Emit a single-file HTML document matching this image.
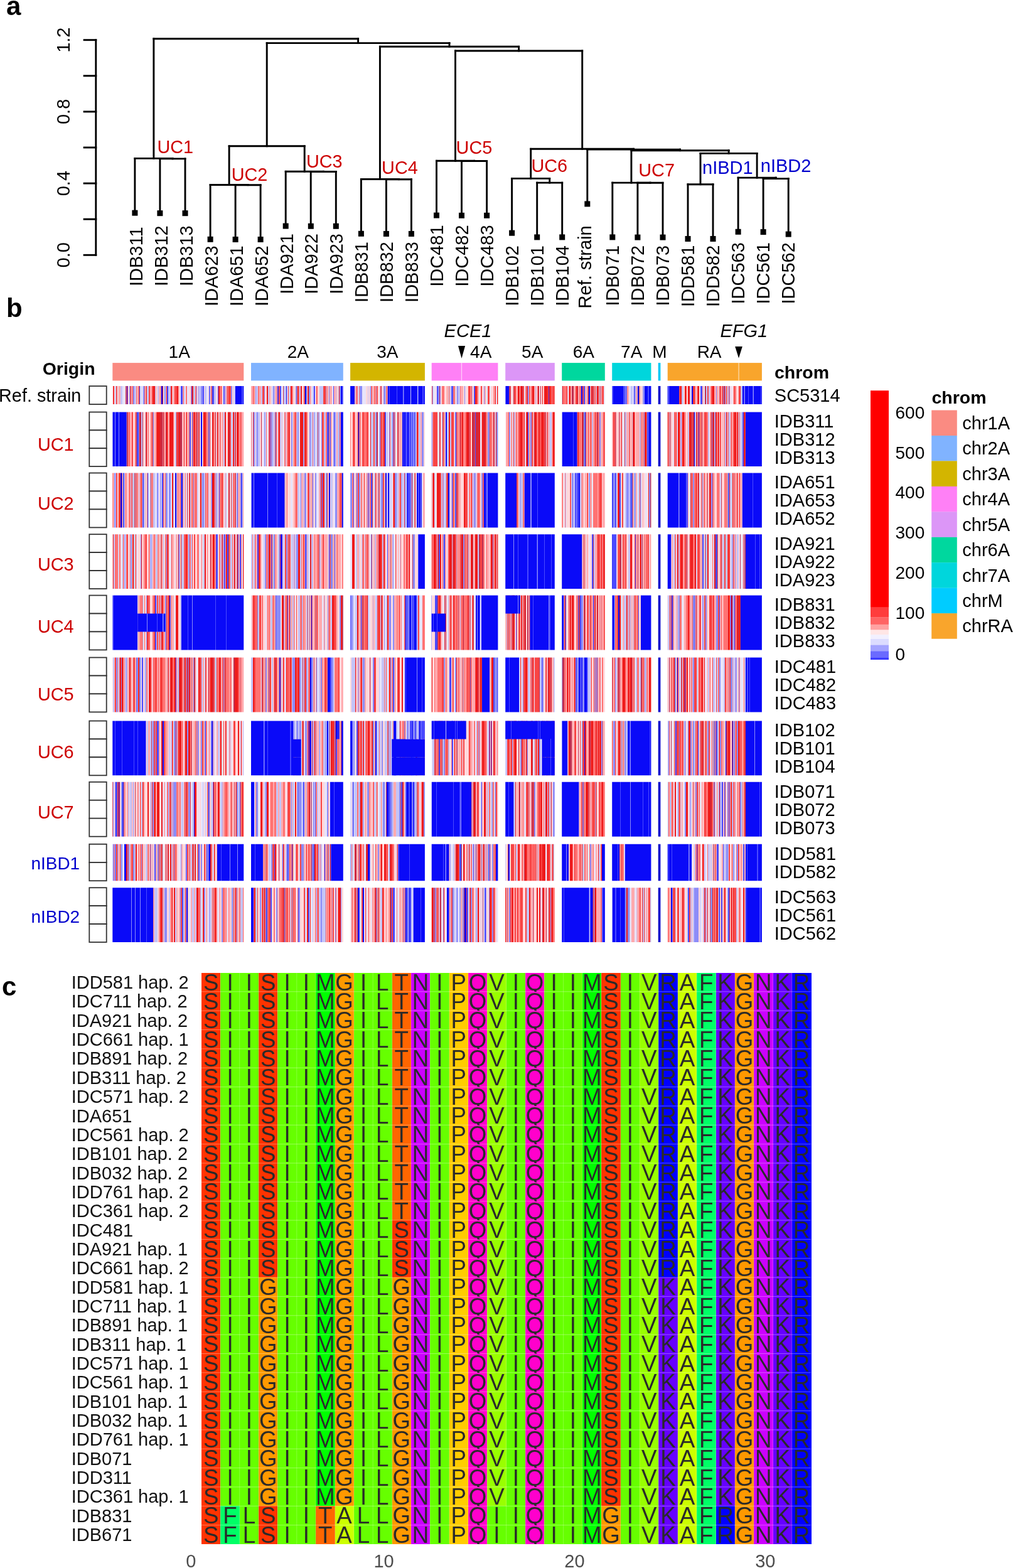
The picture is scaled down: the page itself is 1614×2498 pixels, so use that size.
<!DOCTYPE html>
<html><head><meta charset="utf-8"><title>Figure</title>
<style>
html,body{margin:0;padding:0;background:#fff;}
svg{display:block;}
text{font-family:'Liberation Sans', Arial, Helvetica, sans-serif;}
</style></head>
<body>
<svg width="1614" height="2498" viewBox="0 0 1614 2498" font-family="'Liberation Sans', Arial, Helvetica, sans-serif">
<rect width="1614" height="2498" fill="#fff"/>
<text x="10" y="24" font-size="42" font-weight="bold">a</text>
<text x="10" y="504.5" font-size="42" font-weight="bold">b</text>
<text x="3" y="1586" font-size="42" font-weight="bold">c</text>
<g stroke="#000" stroke-width="2.9" fill="none" stroke-linecap="square">
<line x1="152.8" y1="63.7" x2="152.8" y2="406.3"/>
<line x1="134.1" y1="406.3" x2="152.8" y2="406.3"/>
<line x1="134.1" y1="349.2" x2="152.8" y2="349.2"/>
<line x1="134.1" y1="292.1" x2="152.8" y2="292.1"/>
<line x1="134.1" y1="235" x2="152.8" y2="235"/>
<line x1="134.1" y1="177.9" x2="152.8" y2="177.9"/>
<line x1="134.1" y1="120.8" x2="152.8" y2="120.8"/>
<line x1="134.1" y1="63.7" x2="152.8" y2="63.7"/>
</g>
<text transform="translate(111.4,406.3) rotate(-90)" text-anchor="middle" font-size="29">0.0</text>
<text transform="translate(111.4,292.1) rotate(-90)" text-anchor="middle" font-size="29">0.4</text>
<text transform="translate(111.4,177.9) rotate(-90)" text-anchor="middle" font-size="29">0.8</text>
<text transform="translate(111.4,63.7) rotate(-90)" text-anchor="middle" font-size="29">1.2</text>
<g stroke="#000" stroke-width="2.9" fill="none" stroke-linecap="square">
<line x1="214.9" y1="252.4" x2="275" y2="252.4"/>
<line x1="254.9" y1="252.9" x2="295" y2="252.9"/>
<line x1="275" y1="252.4" x2="275" y2="252.9"/>
<line x1="214.9" y1="252.4" x2="214.9" y2="339.2"/>
<line x1="254.9" y1="252.9" x2="254.9" y2="339.7"/>
<line x1="295" y1="252.9" x2="295" y2="339.7"/>
<line x1="335.1" y1="294.5" x2="395.1" y2="294.5"/>
<line x1="375.1" y1="294.7" x2="415.1" y2="294.7"/>
<line x1="395.1" y1="294.5" x2="395.1" y2="294.7"/>
<line x1="335.1" y1="294.5" x2="335.1" y2="381.3"/>
<line x1="375.1" y1="294.7" x2="375.1" y2="381.5"/>
<line x1="415.1" y1="294.7" x2="415.1" y2="381.5"/>
<line x1="455.2" y1="273.3" x2="515.3" y2="273.3"/>
<line x1="495.2" y1="273.5" x2="535.3" y2="273.5"/>
<line x1="515.3" y1="273.3" x2="515.3" y2="273.5"/>
<line x1="455.2" y1="273.3" x2="455.2" y2="360.1"/>
<line x1="495.2" y1="273.5" x2="495.2" y2="360.3"/>
<line x1="535.3" y1="273.5" x2="535.3" y2="360.3"/>
<line x1="575.4" y1="285.5" x2="635.4" y2="285.5"/>
<line x1="615.4" y1="285.7" x2="655.4" y2="285.7"/>
<line x1="635.4" y1="285.5" x2="635.4" y2="285.7"/>
<line x1="575.4" y1="285.5" x2="575.4" y2="372.3"/>
<line x1="615.4" y1="285.7" x2="615.4" y2="372.5"/>
<line x1="655.4" y1="285.7" x2="655.4" y2="372.5"/>
<line x1="695.5" y1="256.3" x2="755.6" y2="256.3"/>
<line x1="735.5" y1="256.5" x2="775.6" y2="256.5"/>
<line x1="755.6" y1="256.3" x2="755.6" y2="256.5"/>
<line x1="695.5" y1="256.3" x2="695.5" y2="343.1"/>
<line x1="735.5" y1="256.5" x2="735.5" y2="343.3"/>
<line x1="775.6" y1="256.5" x2="775.6" y2="343.3"/>
<line x1="815.6" y1="284.4" x2="875.7" y2="284.4"/>
<line x1="855.7" y1="291.1" x2="895.7" y2="291.1"/>
<line x1="875.7" y1="284.4" x2="875.7" y2="291.1"/>
<line x1="815.6" y1="284.4" x2="815.6" y2="371.2"/>
<line x1="855.7" y1="291.1" x2="855.7" y2="377.9"/>
<line x1="895.7" y1="291.1" x2="895.7" y2="377.9"/>
<line x1="975.8" y1="291.1" x2="1035.9" y2="291.1"/>
<line x1="1015.9" y1="291.3" x2="1056" y2="291.3"/>
<line x1="1035.9" y1="291.1" x2="1035.9" y2="291.3"/>
<line x1="975.8" y1="291.1" x2="975.8" y2="377.9"/>
<line x1="1015.9" y1="291.3" x2="1015.9" y2="378.1"/>
<line x1="1056" y1="291.3" x2="1056" y2="378.1"/>
<line x1="1096" y1="293.7" x2="1136" y2="293.7"/>
<line x1="1096" y1="293.7" x2="1096" y2="380.5"/>
<line x1="1136" y1="293.7" x2="1136" y2="380.5"/>
<line x1="1176.1" y1="283.1" x2="1236.2" y2="283.1"/>
<line x1="1216.1" y1="284.6" x2="1256.2" y2="284.6"/>
<line x1="1236.2" y1="283.1" x2="1236.2" y2="284.6"/>
<line x1="1176.1" y1="283.1" x2="1176.1" y2="369.3"/>
<line x1="1216.1" y1="284.6" x2="1216.1" y2="369.6"/>
<line x1="1256.2" y1="284.6" x2="1256.2" y2="373.1"/>
<line x1="1116" y1="244.4" x2="1206.1" y2="244.4"/>
<line x1="1116" y1="244.4" x2="1116" y2="293.7"/>
<line x1="1206.1" y1="244.4" x2="1206.1" y2="283.1"/>
<line x1="1005.9" y1="239.7" x2="1161.1" y2="239.7"/>
<line x1="1005.9" y1="239.7" x2="1005.9" y2="291.1"/>
<line x1="1161.1" y1="239.7" x2="1161.1" y2="244.4"/>
<line x1="935.8" y1="238.1" x2="1083.5" y2="238.1"/>
<line x1="1083.5" y1="238.1" x2="1083.5" y2="239.7"/>
<line x1="935.8" y1="238.1" x2="935.8" y2="324.9"/>
<line x1="845.7" y1="237.3" x2="1009.6" y2="237.3"/>
<line x1="845.7" y1="237.3" x2="845.7" y2="284.4"/>
<line x1="1009.6" y1="237.3" x2="1009.6" y2="238.1"/>
<line x1="725.5" y1="81" x2="927.7" y2="81"/>
<line x1="725.5" y1="81" x2="725.5" y2="256.3"/>
<line x1="927.7" y1="81" x2="927.7" y2="237.3"/>
<line x1="605.4" y1="74.3" x2="826.6" y2="74.3"/>
<line x1="605.4" y1="74.3" x2="605.4" y2="285.5"/>
<line x1="826.6" y1="74.3" x2="826.6" y2="81"/>
<line x1="365.1" y1="232.8" x2="485.2" y2="232.8"/>
<line x1="365.1" y1="232.8" x2="365.1" y2="294.5"/>
<line x1="485.2" y1="232.8" x2="485.2" y2="273.3"/>
<line x1="425.2" y1="68.6" x2="716" y2="68.6"/>
<line x1="425.2" y1="68.6" x2="425.2" y2="232.8"/>
<line x1="716" y1="68.6" x2="716" y2="74.3"/>
<line x1="244.9" y1="61.8" x2="570.6" y2="61.8"/>
<line x1="244.9" y1="61.8" x2="244.9" y2="252.4"/>
<line x1="570.6" y1="61.8" x2="570.6" y2="68.6"/>
</g>
<g fill="#000">
<rect x="210.4" y="334.7" width="9" height="9"/>
<rect x="250.4" y="335.2" width="9" height="9"/>
<rect x="290.5" y="335.2" width="9" height="9"/>
<rect x="330.6" y="376.8" width="9" height="9"/>
<rect x="370.6" y="377" width="9" height="9"/>
<rect x="410.6" y="377" width="9" height="9"/>
<rect x="450.7" y="355.6" width="9" height="9"/>
<rect x="490.8" y="355.8" width="9" height="9"/>
<rect x="530.8" y="355.8" width="9" height="9"/>
<rect x="570.9" y="367.8" width="9" height="9"/>
<rect x="610.9" y="368" width="9" height="9"/>
<rect x="650.9" y="368" width="9" height="9"/>
<rect x="691" y="338.6" width="9" height="9"/>
<rect x="731" y="338.8" width="9" height="9"/>
<rect x="771.1" y="338.8" width="9" height="9"/>
<rect x="811.1" y="366.7" width="9" height="9"/>
<rect x="851.2" y="373.4" width="9" height="9"/>
<rect x="891.2" y="373.4" width="9" height="9"/>
<rect x="931.3" y="320.4" width="9" height="9"/>
<rect x="971.3" y="373.4" width="9" height="9"/>
<rect x="1011.4" y="373.6" width="9" height="9"/>
<rect x="1051.5" y="373.6" width="9" height="9"/>
<rect x="1091.5" y="376" width="9" height="9"/>
<rect x="1131.5" y="376" width="9" height="9"/>
<rect x="1171.6" y="364.8" width="9" height="9"/>
<rect x="1211.6" y="365.1" width="9" height="9"/>
<rect x="1251.7" y="368.6" width="9" height="9"/>
</g>
<text transform="translate(226.6,456) rotate(-90)" font-size="29">IDB311</text>
<text transform="translate(266.6,456) rotate(-90)" font-size="29">IDB312</text>
<text transform="translate(306.6,456) rotate(-90)" font-size="29">IDB313</text>
<text transform="translate(346.5,488.1) rotate(-90)" font-size="29">IDA623</text>
<text transform="translate(386.5,488.1) rotate(-90)" font-size="29">IDA651</text>
<text transform="translate(426.5,488.1) rotate(-90)" font-size="29">IDA652</text>
<text transform="translate(466.5,468.8) rotate(-90)" font-size="29">IDA921</text>
<text transform="translate(506.4,468.8) rotate(-90)" font-size="29">IDA922</text>
<text transform="translate(546.4,468.8) rotate(-90)" font-size="29">IDA923</text>
<text transform="translate(586.4,481.9) rotate(-90)" font-size="29">IDB831</text>
<text transform="translate(626.4,481.9) rotate(-90)" font-size="29">IDB832</text>
<text transform="translate(666.3,481.9) rotate(-90)" font-size="29">IDB833</text>
<text transform="translate(706.3,456.7) rotate(-90)" font-size="29">IDC481</text>
<text transform="translate(746.3,456.7) rotate(-90)" font-size="29">IDC482</text>
<text transform="translate(786.3,456.7) rotate(-90)" font-size="29">IDC483</text>
<text transform="translate(826.3,487.8) rotate(-90)" font-size="29">IDB102</text>
<text transform="translate(866.2,487.8) rotate(-90)" font-size="29">IDB101</text>
<text transform="translate(906.2,487.8) rotate(-90)" font-size="29">IDB104</text>
<text transform="translate(942.4,491.5) rotate(-90)" font-size="29">Ref. strain</text>
<text transform="translate(986.2,487.5) rotate(-90)" font-size="29">IDB071</text>
<text transform="translate(1026.1,487.5) rotate(-90)" font-size="29">IDB072</text>
<text transform="translate(1066.1,487.5) rotate(-90)" font-size="29">IDB073</text>
<text transform="translate(1106.1,489) rotate(-90)" font-size="29">IDD581</text>
<text transform="translate(1146.1,489) rotate(-90)" font-size="29">IDD582</text>
<text transform="translate(1186,484.5) rotate(-90)" font-size="29">IDC563</text>
<text transform="translate(1226,484.5) rotate(-90)" font-size="29">IDC561</text>
<text transform="translate(1266,484.5) rotate(-90)" font-size="29">IDC562</text>
<text x="250.5" y="244.4" font-size="28.8" fill="#cd0000">UC1</text>
<text x="368.7" y="287.6" font-size="28.8" fill="#cd0000">UC2</text>
<text x="487.9" y="266.6" font-size="28.8" fill="#cd0000">UC3</text>
<text x="608.1" y="276.6" font-size="28.8" fill="#cd0000">UC4</text>
<text x="726.6" y="244.5" font-size="28.8" fill="#cd0000">UC5</text>
<text x="846.5" y="273.6" font-size="28.8" fill="#cd0000">UC6</text>
<text x="1017.3" y="280.5" font-size="28.8" fill="#cd0000">UC7</text>
<text x="1119" y="276.6" font-size="29" fill="#0000cd">nIBD1</text>
<text x="1211.8" y="273.6" font-size="29" fill="#0000cd">nIBD2</text>
<g>
<path fill="#0a0af8" d="M202 615.1h1v29h-1zM257 615.1h2v29h-2zM374.5 615.1h10.5v29h-10.5zM387 615.1h1.3v29h-1.3zM456 615.1h1v29h-1zM486 615.1h2v29h-2zM543 615.1h2v29h-2zM558.1 615.1h6.9v29h-6.9zM617.5 615.1h2.5v29h-2.5zM621 615.1h11v29h-11zM633 615.1h9v29h-9zM644 615.1h10v29h-10zM655 615.1h10v29h-10zM667 615.1h6v29h-6zM675 615.1h1.9v29h-1.9zM806 615.1h5.4v29h-5.4zM926 615.1h2v29h-2zM938 615.1h2v29h-2zM977 615.1h16v29h-16zM1010 615.1h1v29h-1zM1016 615.1h2v29h-2zM1026.8 615.1h5.2v29h-5.2zM1034 615.1h3.4v29h-3.4zM1063.7 615.1h1.3v29h-1.3zM1066 615.1h16v29h-16zM1102 615.1h2v29h-2zM1183 615.1h2v29h-2zM1187 615.1h5v29h-5zM1193 615.1h6v29h-6zM1201 615.1h11v29h-11zM1213 615.1h0.9v29h-0.9zM180 656.5h3v86.6h-3zM184 656.5h5v86.6h-5zM190 656.5h11.8v86.6h-11.8zM320 656.5h2v86.6h-2zM543 656.5h3.8v86.6h-3.8zM571 656.5h1v86.6h-1zM641 656.5h2v86.6h-2zM644 656.5h2v86.6h-2zM649 656.5h2v86.6h-2zM654 656.5h1v86.6h-1zM660 656.5h1v86.6h-1zM710 656.5h2v86.6h-2zM841 656.5h1v86.6h-1zM896 656.5h17v86.6h-17zM914 656.5h5.7v86.6h-5.7zM932 656.5h1v86.6h-1zM1034 656.5h3.4v86.6h-3.4zM1106 656.5h1v86.6h-1zM1188 656.5h25.9v86.6h-25.9zM192 753.5h2v86.9h-2zM279 753.5h2v86.9h-2zM289 753.5h2v86.9h-2zM401 753.5h3v86.9h-3zM405 753.5h21v86.9h-21zM427 753.5h14v86.9h-14zM442 753.5h11.7v86.9h-11.7zM524 753.5h2v86.9h-2zM544.5 753.5h2.3v86.9h-2.3zM614 753.5h2v86.9h-2zM618 753.5h2v86.9h-2zM649 753.5h1v86.9h-1zM664 753.5h2v86.9h-2zM668 753.5h2v86.9h-2zM671 753.5h1v86.9h-1zM714 753.5h2v86.9h-2zM720 753.5h1v86.9h-1zM770.7 753.5h3.3v86.9h-3.3zM777 753.5h16.4v86.9h-16.4zM805.2 753.5h17.8v86.9h-17.8zM835.5 753.5h9.5v86.9h-9.5zM847 753.5h9v86.9h-9zM857 753.5h26.8v86.9h-26.8zM922 753.5h2v86.9h-2zM975.2 753.5h0.8v86.9h-0.8zM1063.7 753.5h17.3v86.9h-17.3zM1083 753.5h10.6v86.9h-10.6zM1183 753.5h16v86.9h-16zM1200 753.5h13.9v86.9h-13.9zM447 851.2h3v86.8h-3zM524 851.2h1v86.8h-1zM667 851.2h9.9v86.8h-9.9zM708 851.2h1v86.8h-1zM805.2 851.2h12.8v86.8h-12.8zM819 851.2h6v86.8h-6zM826 851.2h14v86.8h-14zM842 851.2h13v86.8h-13zM857 851.2h10v86.8h-10zM868 851.2h10v86.8h-10zM879 851.2h4.8v86.8h-4.8zM895.2 851.2h32.3v86.8h-32.3zM975.2 851.2h0.8v86.8h-0.8zM1063.7 851.2h5.8v86.8h-5.8zM1188 851.2h15v86.8h-15zM1204 851.2h6v86.8h-6zM1211 851.2h2.9v86.8h-2.9zM181 948.5h38.2v86.9h-38.2zM270 948.5h1v86.9h-1zM288.7 948.5h10.3v86.9h-10.3zM300 948.5h6v86.9h-6zM307 948.5h36v86.9h-36zM344 948.5h16v86.9h-16zM361 948.5h27.3v86.9h-27.3zM496 948.5h1v86.9h-1zM575 948.5h1v86.9h-1zM645.5 948.5h1.5v86.9h-1.5zM652 948.5h3v86.9h-3zM660 948.5h3.8v86.9h-3.8zM687.7 948.5h0.3v86.9h-0.3zM758 948.5h2v86.9h-2zM761 948.5h3v86.9h-3zM766.7 948.5h26.7v86.9h-26.7zM844.2 948.5h4.8v86.9h-4.8zM850 948.5h24v86.9h-24zM877 948.5h6.8v86.9h-6.8zM895.2 948.5h3.3v86.9h-3.3zM945 948.5h1v86.9h-1zM976 948.5h3v86.9h-3zM985 948.5h2v86.9h-2zM1021 948.5h16.4v86.9h-16.4zM1164 948.5h1v86.9h-1zM1170 948.5h1v86.9h-1zM1180 948.5h33.9v86.9h-33.9zM494 1047.5h2v86.9h-2zM522 1047.5h4v86.9h-4zM644.9 1047.5h1.1v86.9h-1.1zM647 1047.5h17v86.9h-17zM665 1047.5h7v86.9h-7zM673 1047.5h3.9v86.9h-3.9zM767.8 1047.5h12.5v86.9h-12.5zM805.2 1047.5h5.8v86.9h-5.8zM812 1047.5h15.4v86.9h-15.4zM922 1047.5h2v86.9h-2zM927 1047.5h1v86.9h-1zM931 1047.5h4v86.9h-4zM1079 1047.5h1v86.9h-1zM1187.8 1047.5h2.2v86.9h-2.2zM1192 1047.5h2v86.9h-2zM1195 1047.5h18.9v86.9h-18.9zM179.3 1148.5h3.7v86.8h-3.7zM184 1148.5h10v86.8h-10zM195 1148.5h18v86.8h-18zM214 1148.5h5v86.8h-5zM220 1148.5h12.7v86.8h-12.7zM259 1148.5h2v86.8h-2zM337 1148.5h2v86.8h-2zM400 1148.5h20v86.8h-20zM422 1148.5h4v86.8h-4zM427 1148.5h35v86.8h-35zM464 1148.5h3v86.8h-3zM493 1148.5h3v86.8h-3zM521 1148.5h2v86.8h-2zM544 1148.5h2.8v86.8h-2.8zM558.1 1148.5h2.9v86.8h-2.9zM598 1148.5h2v86.8h-2zM627 1148.5h4v86.8h-4zM896 1148.5h8.3v86.8h-8.3zM931 1148.5h1v86.8h-1zM1000 1148.5h3v86.8h-3zM1005 1148.5h30v86.8h-30zM1036 1148.5h1.4v86.8h-1.4zM1156 1148.5h1v86.8h-1zM1167 1148.5h1v86.8h-1zM1187.8 1148.5h14.2v86.8h-14.2zM1203 1148.5h10.9v86.8h-10.9zM189 1245.8h1v86.9h-1zM309 1245.8h1v86.9h-1zM332 1245.8h1v86.9h-1zM400 1245.8h5.4v86.9h-5.4zM526 1245.8h6v86.9h-6zM533 1245.8h13.8v86.9h-13.8zM562 1245.8h1v86.9h-1zM616 1245.8h3v86.9h-3zM640 1245.8h1v86.9h-1zM648 1245.8h3v86.9h-3zM653 1245.8h3v86.9h-3zM658 1245.8h1v86.9h-1zM688 1245.8h7v86.9h-7zM696 1245.8h26v86.9h-26zM723 1245.8h9v86.9h-9zM735 1245.8h16.4v86.9h-16.4zM805.2 1245.8h4.8v86.9h-4.8zM811 1245.8h7.6v86.9h-7.6zM895.2 1245.8h27.4v86.9h-27.4zM975.2 1245.8h12.8v86.9h-12.8zM989 1245.8h15v86.9h-15zM1005 1245.8h19v86.9h-19zM1025 1245.8h8v86.9h-8zM1034 1245.8h3.4v86.9h-3.4zM1188 1245.8h22v86.9h-22zM1211 1245.8h2.9v86.9h-2.9zM183 1344.8h1v58.4h-1zM198 1344.8h3v58.4h-3zM332 1344.8h3v58.4h-3zM346 1344.8h6v58.4h-6zM353 1344.8h13v58.4h-13zM367 1344.8h11v58.4h-11zM379 1344.8h9.3v58.4h-9.3zM400 1344.8h6v58.4h-6zM407 1344.8h12v58.4h-12zM517 1344.8h1v58.4h-1zM528 1344.8h18.8v58.4h-18.8zM586 1344.8h3v58.4h-3zM636 1344.8h16v58.4h-16zM653 1344.8h23.9v58.4h-23.9zM687.7 1344.8h18.3v58.4h-18.3zM707 1344.8h2v58.4h-2zM711 1344.8h4.7v58.4h-4.7zM790 1344.8h3.4v58.4h-3.4zM810 1344.8h2v58.4h-2zM895.2 1344.8h6.8v58.4h-6.8zM903 1344.8h3.2v58.4h-3.2zM959 1344.8h4.8v58.4h-4.8zM975.2 1344.8h8.8v58.4h-8.8zM985 1344.8h2v58.4h-2zM996 1344.8h41.4v58.4h-41.4zM1063.7 1344.8h1.3v58.4h-1.3zM1066 1344.8h4v58.4h-4zM1071 1344.8h26v58.4h-26zM1099 1344.8h3.3v58.4h-3.3zM1187.8 1344.8h2.2v58.4h-2.2zM1191 1344.8h15v58.4h-15zM1208 1344.8h5.9v58.4h-5.9zM179.3 1414.2h29.7v86.8h-29.7zM210 1414.2h5v86.8h-5zM216 1414.2h7v86.8h-7zM224 1414.2h9v86.8h-9zM234 1414.2h10.3v86.8h-10.3zM297 1414.2h2v86.8h-2zM400 1414.2h4v86.8h-4zM570 1414.2h2v86.8h-2zM578 1414.2h2v86.8h-2zM645.5 1414.2h2.5v86.8h-2.5zM652 1414.2h1v86.8h-1zM659 1414.2h11v86.8h-11zM671 1414.2h5.9v86.8h-5.9zM711.8 1414.2h3.9v86.8h-3.9zM740 1414.2h3v86.8h-3zM895.2 1414.2h2.8v86.8h-2.8zM899 1414.2h39v86.8h-39zM941 1414.2h3.8v86.8h-3.8zM961 1414.2h2.8v86.8h-2.8zM976 1414.2h4v86.8h-4zM982 1414.2h6v86.8h-6zM989 1414.2h6.9v86.8h-6.9zM1069 1414.2h2v86.8h-2zM1187.8 1414.2h1.2v86.8h-1.2zM1190 1414.2h20v86.8h-20zM1212 1414.2h1.9v86.8h-1.9z"/>
<path fill="#4a4aff" d="M222 615.1h1v29h-1zM229 615.1h1v29h-1zM266 615.1h2v29h-2zM288 615.1h3v29h-3zM305 615.1h1v29h-1zM323 615.1h2v29h-2zM333 615.1h1v29h-1zM338 615.1h3v29h-3zM347 615.1h1v29h-1zM356 615.1h2v29h-2zM385 615.1h2v29h-2zM442 615.1h2v29h-2zM446 615.1h2v29h-2zM500 615.1h2v29h-2zM531 615.1h1v29h-1zM542.5 615.1h0.5v29h-0.5zM545 615.1h1.8v29h-1.8zM620 615.1h1v29h-1zM632 615.1h1v29h-1zM643 615.1h1v29h-1zM666 615.1h1v29h-1zM673 615.1h2v29h-2zM696 615.1h2v29h-2zM720 615.1h2v29h-2zM755 615.1h2v29h-2zM805.2 615.1h0.8v29h-0.8zM841 615.1h1v29h-1zM874 615.1h1v29h-1zM930 615.1h2v29h-2zM975.2 615.1h1.8v29h-1.8zM993 615.1h3v29h-3zM997 615.1h1.8v29h-1.8zM1032 615.1h2v29h-2zM1116 615.1h3v29h-3zM1182.4 615.1h0.6v29h-0.6zM1185 615.1h1v29h-1zM1192 615.1h1v29h-1zM1199 615.1h1v29h-1zM1212 615.1h1v29h-1zM179.3 656.5h0.7v86.6h-0.7zM218 656.5h3v86.6h-3zM302 656.5h2v86.6h-2zM430 656.5h1v86.6h-1zM521 656.5h3v86.6h-3zM526 656.5h1v86.6h-1zM533 656.5h1v86.6h-1zM542.5 656.5h0.5v86.6h-0.5zM605 656.5h1v86.6h-1zM613 656.5h2v86.6h-2zM643 656.5h1v86.6h-1zM646 656.5h3v86.6h-3zM651 656.5h2v86.6h-2zM657 656.5h2v86.6h-2zM726 656.5h1v86.6h-1zM757 656.5h1v86.6h-1zM913 656.5h1v86.6h-1zM1031 656.5h3v86.6h-3zM1113 656.5h1v86.6h-1zM1183 656.5h2v86.6h-2zM1187.8 656.5h0.2v86.6h-0.2zM196 753.5h2v86.9h-2zM227 753.5h2v86.9h-2zM235 753.5h1v86.9h-1zM251 753.5h1v86.9h-1zM258 753.5h2v86.9h-2zM337 753.5h1v86.9h-1zM349 753.5h1v86.9h-1zM378 753.5h1v86.9h-1zM384 753.5h2v86.9h-2zM441 753.5h1v86.9h-1zM498 753.5h1v86.9h-1zM513 753.5h1v86.9h-1zM563 753.5h1v86.9h-1zM587 753.5h1v86.9h-1zM591 753.5h2v86.9h-2zM648 753.5h1v86.9h-1zM650 753.5h4v86.9h-4zM666 753.5h2v86.9h-2zM725 753.5h2v86.9h-2zM774 753.5h2v86.9h-2zM856 753.5h1v86.9h-1zM912 753.5h1v86.9h-1zM916 753.5h2v86.9h-2zM919 753.5h3v86.9h-3zM976 753.5h1v86.9h-1zM980 753.5h2.4v86.9h-2.4zM987 753.5h2v86.9h-2zM1005 753.5h2v86.9h-2zM1011 753.5h1v86.9h-1zM1082 753.5h1v86.9h-1zM1093.6 753.5h2.4v86.9h-2.4zM1134 753.5h1v86.9h-1zM1160 753.5h2v86.9h-2zM1182.4 753.5h0.6v86.9h-0.6zM1199 753.5h1v86.9h-1zM285 851.2h1v86.8h-1zM344 851.2h3v86.8h-3zM357 851.2h2v86.8h-2zM362 851.2h2v86.8h-2zM379 851.2h1v86.8h-1zM382 851.2h2v86.8h-2zM410 851.2h2v86.8h-2zM432 851.2h1v86.8h-1zM486 851.2h2v86.8h-2zM533 851.2h1v86.8h-1zM617 851.2h1v86.8h-1zM665.7 851.2h1.3v86.8h-1.3zM699 851.2h2v86.8h-2zM825 851.2h1v86.8h-1zM840 851.2h2v86.8h-2zM855 851.2h1v86.8h-1zM867 851.2h1v86.8h-1zM878 851.2h1v86.8h-1zM943 851.2h2v86.8h-2zM976 851.2h6.4v86.8h-6.4zM1012 851.2h1v86.8h-1zM1119 851.2h2v86.8h-2zM1140 851.2h3v86.8h-3zM1187.8 851.2h0.2v86.8h-0.2zM1203 851.2h1v86.8h-1zM1210 851.2h1v86.8h-1zM179.3 948.5h1.7v86.9h-1.7zM247 948.5h2v86.9h-2zM299 948.5h1v86.9h-1zM343 948.5h1v86.9h-1zM360 948.5h1v86.9h-1zM439 948.5h1v86.9h-1zM458 948.5h1v86.9h-1zM558.1 948.5h0.9v86.9h-0.9zM647 948.5h1v86.9h-1zM649 948.5h2v86.9h-2zM656 948.5h4v86.9h-4zM693 948.5h4v86.9h-4zM764 948.5h1v86.9h-1zM822 948.5h1v86.9h-1zM849 948.5h1v86.9h-1zM875 948.5h2v86.9h-2zM901 948.5h1v86.9h-1zM921 948.5h1v86.9h-1zM924 948.5h2v86.9h-2zM975.2 948.5h0.8v86.9h-0.8zM1017 948.5h1v86.9h-1zM1070 948.5h2v86.9h-2zM1105 948.5h1v86.9h-1zM1146 948.5h1v86.9h-1zM218 1047.5h1v86.9h-1zM226 1047.5h2v86.9h-2zM280 1047.5h1v86.9h-1zM445 1047.5h2v86.9h-2zM526 1047.5h2v86.9h-2zM595 1047.5h1v86.9h-1zM626 1047.5h2v86.9h-2zM646 1047.5h1v86.9h-1zM672 1047.5h1v86.9h-1zM716 1047.5h3v86.9h-3zM786 1047.5h2v86.9h-2zM792 1047.5h1.4v86.9h-1.4zM811 1047.5h1v86.9h-1zM863 1047.5h1v86.9h-1zM917 1047.5h2v86.9h-2zM924 1047.5h3v86.9h-3zM935 1047.5h1v86.9h-1zM1091 1047.5h1v86.9h-1zM1172 1047.5h1v86.9h-1zM1190 1047.5h2v86.9h-2zM1194 1047.5h1v86.9h-1zM183 1148.5h1v86.8h-1zM194 1148.5h1v86.8h-1zM213 1148.5h1v86.8h-1zM219 1148.5h1v86.8h-1zM250 1148.5h3v86.8h-3zM327 1148.5h1v86.8h-1zM421 1148.5h1v86.8h-1zM426 1148.5h1v86.8h-1zM462 1148.5h2v86.8h-2zM491 1148.5h1v86.8h-1zM535 1148.5h2v86.8h-2zM561 1148.5h1.5v86.8h-1.5zM568 1148.5h2v86.8h-2zM655 1148.5h2v86.8h-2zM699 1148.5h2v86.8h-2zM720 1148.5h2v86.8h-2zM779 1148.5h1v86.8h-1zM782 1148.5h1v86.8h-1zM895.2 1148.5h0.8v86.8h-0.8zM1003 1148.5h1v86.8h-1zM1035 1148.5h1v86.8h-1zM1076 1148.5h2v86.8h-2zM1091 1148.5h1v86.8h-1zM1112 1148.5h1v86.8h-1zM1141 1148.5h2v86.8h-2zM184 1245.8h3v86.9h-3zM194 1245.8h3v86.9h-3zM339 1245.8h1v86.9h-1zM382 1245.8h1v86.9h-1zM474 1245.8h1v86.9h-1zM483 1245.8h2v86.9h-2zM502 1245.8h1v86.9h-1zM532 1245.8h1v86.9h-1zM619 1245.8h3v86.9h-3zM646 1245.8h2v86.9h-2zM651 1245.8h2v86.9h-2zM659 1245.8h1v86.9h-1zM687.7 1245.8h0.3v86.9h-0.3zM695 1245.8h1v86.9h-1zM722 1245.8h1v86.9h-1zM732 1245.8h2v86.9h-2zM767 1245.8h1v86.9h-1zM810 1245.8h1v86.9h-1zM988 1245.8h1v86.9h-1zM1024 1245.8h1v86.9h-1zM1033 1245.8h1v86.9h-1zM1150 1245.8h2v86.9h-2zM1154 1245.8h1v86.9h-1zM1162 1245.8h1v86.9h-1zM1187.8 1245.8h0.2v86.9h-0.2zM1210 1245.8h1v86.9h-1zM180 1344.8h1v58.4h-1zM246 1344.8h2v58.4h-2zM296 1344.8h1v58.4h-1zM316 1344.8h2v58.4h-2zM329 1344.8h2v58.4h-2zM352 1344.8h1v58.4h-1zM406 1344.8h1v58.4h-1zM437 1344.8h1v58.4h-1zM450 1344.8h1v58.4h-1zM458 1344.8h2v58.4h-2zM465 1344.8h1v58.4h-1zM497 1344.8h1v58.4h-1zM499 1344.8h2v58.4h-2zM527 1344.8h1v58.4h-1zM634 1344.8h2v58.4h-2zM652 1344.8h1v58.4h-1zM706 1344.8h1v58.4h-1zM709 1344.8h1v58.4h-1zM732 1344.8h3v58.4h-3zM754 1344.8h1v58.4h-1zM779 1344.8h1v58.4h-1zM984 1344.8h1v58.4h-1zM1065 1344.8h1v58.4h-1zM1070 1344.8h1v58.4h-1zM1098 1344.8h1v58.4h-1zM1110 1344.8h1v58.4h-1zM1142 1344.8h3v58.4h-3zM1152 1344.8h1v58.4h-1zM1184 1344.8h2v58.4h-2zM1190 1344.8h1v58.4h-1zM1206 1344.8h2v58.4h-2zM233 1414.2h1v86.8h-1zM290 1414.2h2v86.8h-2zM424 1414.2h2v86.8h-2zM431 1414.2h2v86.8h-2zM475 1414.2h1v86.8h-1zM491 1414.2h2v86.8h-2zM572 1414.2h1v86.8h-1zM623 1414.2h1v86.8h-1zM626 1414.2h3v86.8h-3zM649 1414.2h1v86.8h-1zM653 1414.2h2v86.8h-2zM670 1414.2h1v86.8h-1zM728 1414.2h1v86.8h-1zM744 1414.2h2v86.8h-2zM772 1414.2h2v86.8h-2zM898 1414.2h1v86.8h-1zM938 1414.2h1v86.8h-1zM940 1414.2h1v86.8h-1zM959 1414.2h2v86.8h-2zM980 1414.2h2v86.8h-2zM988 1414.2h1v86.8h-1zM1096 1414.2h2v86.8h-2zM1145 1414.2h2v86.8h-2zM1149 1414.2h2v86.8h-2zM1160 1414.2h2v86.8h-2zM1189 1414.2h1v86.8h-1zM1210 1414.2h2v86.8h-2z"/>
<path fill="#8c8cf8" d="M206 615.1h1v29h-1zM212 615.1h2v29h-2zM262 615.1h2v29h-2zM313 615.1h1v29h-1zM316 615.1h1v29h-1zM320 615.1h3v29h-3zM334 615.1h1v29h-1zM359 615.1h1v29h-1zM368 615.1h2v29h-2zM407 615.1h1v29h-1zM421 615.1h1v29h-1zM435 615.1h2v29h-2zM471 615.1h2v29h-2zM488 615.1h1v29h-1zM492 615.1h2v29h-2zM524 615.1h1v29h-1zM541 615.1h1.5v29h-1.5zM573 615.1h4v29h-4zM590 615.1h1v29h-1zM611 615.1h3v29h-3zM642 615.1h1v29h-1zM689 615.1h1v29h-1zM698 615.1h2v29h-2zM701 615.1h1v29h-1zM718 615.1h2v29h-2zM728 615.1h2v29h-2zM740 615.1h1v29h-1zM771 615.1h1v29h-1zM996 615.1h1v29h-1zM1012 615.1h1v29h-1zM1024 615.1h2.8v29h-2.8zM1065 615.1h1v29h-1zM1141 615.1h1v29h-1zM1152 615.1h1v29h-1zM1155 615.1h1v29h-1zM1162 615.1h1v29h-1zM1186 615.1h1v29h-1zM1200 615.1h1v29h-1zM183 656.5h1v86.6h-1zM189 656.5h1v86.6h-1zM221 656.5h1v86.6h-1zM244 656.5h1v86.6h-1zM306 656.5h1v86.6h-1zM332 656.5h2v86.6h-2zM404 656.5h2v86.6h-2zM409 656.5h2v86.6h-2zM421 656.5h1v86.6h-1zM432 656.5h2v86.6h-2zM438 656.5h1v86.6h-1zM464 656.5h2v86.6h-2zM474 656.5h2v86.6h-2zM483 656.5h1v86.6h-1zM493 656.5h2v86.6h-2zM501 656.5h1v86.6h-1zM508 656.5h1v86.6h-1zM512 656.5h1v86.6h-1zM517 656.5h1v86.6h-1zM531 656.5h2v86.6h-2zM540 656.5h1v86.6h-1zM598 656.5h2v86.6h-2zM620 656.5h1v86.6h-1zM625 656.5h2v86.6h-2zM628 656.5h1v86.6h-1zM653 656.5h1v86.6h-1zM655 656.5h2v86.6h-2zM661 656.5h1.8v86.6h-1.8zM672 656.5h3v86.6h-3zM687.7 656.5h1.3v86.6h-1.3zM725 656.5h1v86.6h-1zM777 656.5h3v86.6h-3zM791 656.5h2.4v86.6h-2.4zM811 656.5h2v86.6h-2zM845 656.5h2v86.6h-2zM895.2 656.5h0.8v86.6h-0.8zM930 656.5h2v86.6h-2zM955 656.5h2v86.6h-2zM1026 656.5h1v86.6h-1zM1085 656.5h1v86.6h-1zM1134 656.5h1v86.6h-1zM1139 656.5h1v86.6h-1zM1156 656.5h1v86.6h-1zM1161 656.5h1v86.6h-1zM182 753.5h2v86.9h-2zM255 753.5h1v86.9h-1zM264 753.5h3v86.9h-3zM269 753.5h3v86.9h-3zM288 753.5h1v86.9h-1zM308 753.5h1v86.9h-1zM322 753.5h3v86.9h-3zM344 753.5h1v86.9h-1zM383 753.5h1v86.9h-1zM400 753.5h1v86.9h-1zM404 753.5h1v86.9h-1zM426 753.5h1v86.9h-1zM479 753.5h1v86.9h-1zM485 753.5h3v86.9h-3zM502 753.5h2v86.9h-2zM510 753.5h1v86.9h-1zM519 753.5h2v86.9h-2zM534 753.5h3v86.9h-3zM558.1 753.5h2.9v86.9h-2.9zM568 753.5h2v86.9h-2zM572 753.5h2v86.9h-2zM585 753.5h1v86.9h-1zM607 753.5h3v86.9h-3zM629 753.5h3v86.9h-3zM640 753.5h1v86.9h-1zM645 753.5h1v86.9h-1zM654 753.5h2v86.9h-2zM657 753.5h1v86.9h-1zM670 753.5h1v86.9h-1zM706 753.5h1v86.9h-1zM753 753.5h1v86.9h-1zM755 753.5h3v86.9h-3zM767 753.5h2v86.9h-2zM776 753.5h1v86.9h-1zM829 753.5h1v86.9h-1zM845 753.5h2v86.9h-2zM918 753.5h1v86.9h-1zM938 753.5h2v86.9h-2zM977 753.5h3v86.9h-3zM998 753.5h4v86.9h-4zM1003 753.5h2v86.9h-2zM1007 753.5h1v86.9h-1zM1020 753.5h1v86.9h-1zM1034 753.5h2v86.9h-2zM1081 753.5h1v86.9h-1zM1104 753.5h2v86.9h-2zM198 851.2h1v86.8h-1zM208 851.2h2v86.8h-2zM224 851.2h1v86.8h-1zM240 851.2h1v86.8h-1zM265 851.2h1v86.8h-1zM300 851.2h2v86.8h-2zM355 851.2h1v86.8h-1zM422 851.2h2v86.8h-2zM427 851.2h1v86.8h-1zM436 851.2h2v86.8h-2zM444 851.2h2v86.8h-2zM456 851.2h2v86.8h-2zM468 851.2h1v86.8h-1zM472 851.2h3v86.8h-3zM488 851.2h1v86.8h-1zM497 851.2h1v86.8h-1zM527 851.2h3v86.8h-3zM591 851.2h1v86.8h-1zM626 851.2h1v86.8h-1zM658 851.2h3v86.8h-3zM706 851.2h2v86.8h-2zM738 851.2h2v86.8h-2zM785 851.2h1v86.8h-1zM818 851.2h1v86.8h-1zM856 851.2h1v86.8h-1zM1124 851.2h1v86.8h-1zM1167 851.2h1v86.8h-1zM1171 851.2h1v86.8h-1zM233 948.5h1v86.9h-1zM263 948.5h2v86.9h-2zM271 948.5h1v86.9h-1zM306 948.5h1v86.9h-1zM410 948.5h1v86.9h-1zM440 948.5h7v86.9h-7zM452 948.5h1v86.9h-1zM462 948.5h1v86.9h-1zM481 948.5h1v86.9h-1zM522 948.5h1v86.9h-1zM541 948.5h2v86.9h-2zM559 948.5h3v86.9h-3zM612 948.5h1v86.9h-1zM620 948.5h3v86.9h-3zM626 948.5h2v86.9h-2zM648 948.5h1v86.9h-1zM655 948.5h1v86.9h-1zM663.8 948.5h1.2v86.9h-1.2zM760 948.5h1v86.9h-1zM874 948.5h1v86.9h-1zM926 948.5h3v86.9h-3zM1081 948.5h2v86.9h-2zM1106 948.5h2v86.9h-2zM1119 948.5h2v86.9h-2zM1124 948.5h2v86.9h-2zM1141 948.5h3v86.9h-3zM1167 948.5h2v86.9h-2zM185 1047.5h2v86.9h-2zM193 1047.5h1v86.9h-1zM201 1047.5h1v86.9h-1zM217 1047.5h1v86.9h-1zM222 1047.5h2v86.9h-2zM232 1047.5h1v86.9h-1zM297 1047.5h1v86.9h-1zM300 1047.5h1v86.9h-1zM308 1047.5h1v86.9h-1zM356 1047.5h1v86.9h-1zM423 1047.5h2v86.9h-2zM428 1047.5h1v86.9h-1zM466 1047.5h4v86.9h-4zM477 1047.5h2v86.9h-2zM484 1047.5h1v86.9h-1zM488 1047.5h1v86.9h-1zM496 1047.5h3v86.9h-3zM504 1047.5h1v86.9h-1zM511 1047.5h2v86.9h-2zM528 1047.5h3v86.9h-3zM571 1047.5h1v86.9h-1zM578 1047.5h3v86.9h-3zM622 1047.5h1v86.9h-1zM664 1047.5h1v86.9h-1zM707 1047.5h2v86.9h-2zM725 1047.5h2v86.9h-2zM749 1047.5h1v86.9h-1zM788 1047.5h4v86.9h-4zM833 1047.5h1v86.9h-1zM864 1047.5h2v86.9h-2zM895.2 1047.5h0.8v86.9h-0.8zM919 1047.5h3v86.9h-3zM928 1047.5h3v86.9h-3zM936 1047.5h1v86.9h-1zM948 1047.5h1v86.9h-1zM950 1047.5h2v86.9h-2zM980 1047.5h1v86.9h-1zM1027 1047.5h1v86.9h-1zM1075 1047.5h2v86.9h-2zM1104 1047.5h2v86.9h-2zM1146 1047.5h2v86.9h-2zM1164 1047.5h3v86.9h-3zM1177 1047.5h1v86.9h-1zM243 1148.5h2v86.8h-2zM247 1148.5h1v86.8h-1zM277 1148.5h3v86.8h-3zM281 1148.5h1v86.8h-1zM298 1148.5h2v86.8h-2zM313 1148.5h1v86.8h-1zM315 1148.5h2v86.8h-2zM320 1148.5h2v86.8h-2zM326 1148.5h1v86.8h-1zM340 1148.5h1v86.8h-1zM420 1148.5h1v86.8h-1zM473 1148.5h6v86.8h-6zM486 1148.5h3v86.8h-3zM498 1148.5h1v86.8h-1zM509 1148.5h1v86.8h-1zM518 1148.5h1v86.8h-1zM520 1148.5h1v86.8h-1zM524 1148.5h1v86.8h-1zM533 1148.5h1v86.8h-1zM563 1148.5h2v86.8h-2zM594 1148.5h2v86.8h-2zM608 1148.5h2v86.8h-2zM620 1148.5h1v86.8h-1zM622 1148.5h1v86.8h-1zM631 1148.5h1v86.8h-1zM644 1148.5h1v86.8h-1zM648 1148.5h2v86.8h-2zM651 1148.5h2v86.8h-2zM654 1148.5h1v86.8h-1zM657 1148.5h3v86.8h-3zM666 1148.5h1v86.8h-1zM707 1148.5h2v86.8h-2zM762 1148.5h1v86.8h-1zM816 1148.5h1v86.8h-1zM829 1148.5h2v86.8h-2zM840 1148.5h1v86.8h-1zM859 1148.5h2v86.8h-2zM863 1148.5h1v86.8h-1zM878 1148.5h2v86.8h-2zM958 1148.5h2v86.8h-2zM977 1148.5h3v86.8h-3zM995 1148.5h2.8v86.8h-2.8zM1004 1148.5h1v86.8h-1zM1065 1148.5h1v86.8h-1zM1082 1148.5h1v86.8h-1zM1096 1148.5h1v86.8h-1zM1100 1148.5h2v86.8h-2zM1104 1148.5h2v86.8h-2zM1127 1148.5h2v86.8h-2zM1138 1148.5h2v86.8h-2zM1147 1148.5h2v86.8h-2zM1169 1148.5h2v86.8h-2zM1174 1148.5h2v86.8h-2zM1202 1148.5h1v86.8h-1zM180 1245.8h1v86.9h-1zM183 1245.8h1v86.9h-1zM212 1245.8h1v86.9h-1zM240 1245.8h1v86.9h-1zM243 1245.8h2v86.9h-2zM268 1245.8h1v86.9h-1zM274 1245.8h1v86.9h-1zM276 1245.8h5v86.9h-5zM300 1245.8h3v86.9h-3zM333 1245.8h1v86.9h-1zM377 1245.8h2v86.9h-2zM408 1245.8h3v86.9h-3zM423 1245.8h2v86.9h-2zM464 1245.8h1v86.9h-1zM475 1245.8h5v86.9h-5zM499 1245.8h2v86.9h-2zM521 1245.8h2v86.9h-2zM573 1245.8h1v86.9h-1zM578 1245.8h1v86.9h-1zM585 1245.8h3v86.9h-3zM610 1245.8h3v86.9h-3zM622 1245.8h3v86.9h-3zM636 1245.8h2v86.9h-2zM639 1245.8h1v86.9h-1zM645.5 1245.8h0.5v86.9h-0.5zM656 1245.8h2v86.9h-2zM660 1245.8h1.8v86.9h-1.8zM675 1245.8h1.9v86.9h-1.9zM734 1245.8h1v86.9h-1zM784 1245.8h1v86.9h-1zM789 1245.8h1v86.9h-1zM851 1245.8h2v86.9h-2zM881 1245.8h2.8v86.9h-2.8zM928 1245.8h2v86.9h-2zM1004 1245.8h1v86.9h-1zM1068 1245.8h1v86.9h-1zM1080 1245.8h1v86.9h-1zM1091 1245.8h2v86.9h-2zM1099 1245.8h1v86.9h-1zM1108 1245.8h2v86.9h-2zM1137 1245.8h1v86.9h-1zM1145 1245.8h1v86.9h-1zM1147 1245.8h1v86.9h-1zM1159 1245.8h2v86.9h-2zM1167 1245.8h1v86.9h-1zM1179 1245.8h2v86.9h-2zM187 1344.8h1v58.4h-1zM193 1344.8h2v58.4h-2zM203 1344.8h1v58.4h-1zM205 1344.8h1v58.4h-1zM212 1344.8h2v58.4h-2zM225 1344.8h1v58.4h-1zM239 1344.8h1v58.4h-1zM251 1344.8h2v58.4h-2zM277 1344.8h1v58.4h-1zM288 1344.8h1v58.4h-1zM297 1344.8h1v58.4h-1zM320 1344.8h2v58.4h-2zM366 1344.8h1v58.4h-1zM378 1344.8h1v58.4h-1zM432 1344.8h2v58.4h-2zM456 1344.8h2v58.4h-2zM480 1344.8h4v58.4h-4zM507 1344.8h1v58.4h-1zM511 1344.8h1v58.4h-1zM525 1344.8h1v58.4h-1zM558.1 1344.8h0.9v58.4h-0.9zM572 1344.8h1v58.4h-1zM589 1344.8h1v58.4h-1zM602 1344.8h2v58.4h-2zM710 1344.8h1v58.4h-1zM717 1344.8h1v58.4h-1zM774 1344.8h1v58.4h-1zM777 1344.8h2v58.4h-2zM781 1344.8h1v58.4h-1zM784 1344.8h2v58.4h-2zM902 1344.8h1v58.4h-1zM940 1344.8h2v58.4h-2zM1097 1344.8h1v58.4h-1zM1157 1344.8h3v58.4h-3zM1168 1344.8h2v58.4h-2zM1174 1344.8h2v58.4h-2zM209 1414.2h1v86.8h-1zM215 1414.2h1v86.8h-1zM223 1414.2h1v86.8h-1zM262 1414.2h4v86.8h-4zM287 1414.2h1v86.8h-1zM325 1414.2h2v86.8h-2zM333 1414.2h1v86.8h-1zM353 1414.2h2v86.8h-2zM369 1414.2h2v86.8h-2zM377 1414.2h1v86.8h-1zM414 1414.2h2v86.8h-2zM423 1414.2h1v86.8h-1zM440 1414.2h2v86.8h-2zM453 1414.2h1v86.8h-1zM476 1414.2h2v86.8h-2zM504 1414.2h1v86.8h-1zM511 1414.2h2v86.8h-2zM534 1414.2h1v86.8h-1zM543 1414.2h1v86.8h-1zM599 1414.2h1v86.8h-1zM643 1414.2h1v86.8h-1zM648 1414.2h1v86.8h-1zM650 1414.2h2v86.8h-2zM658 1414.2h1v86.8h-1zM691 1414.2h1v86.8h-1zM693 1414.2h2v86.8h-2zM706 1414.2h1v86.8h-1zM721 1414.2h2v86.8h-2zM733 1414.2h1v86.8h-1zM737 1414.2h2v86.8h-2zM750 1414.2h2v86.8h-2zM758 1414.2h1v86.8h-1zM774 1414.2h1v86.8h-1zM779 1414.2h1v86.8h-1zM784 1414.2h2v86.8h-2zM811 1414.2h2v86.8h-2zM877 1414.2h1v86.8h-1zM975.2 1414.2h0.8v86.8h-0.8zM995.9 1414.2h2.1v86.8h-2.1zM1000 1414.2h3v86.8h-3zM1071 1414.2h1v86.8h-1zM1106 1414.2h7v86.8h-7zM1121 1414.2h1v86.8h-1zM1124 1414.2h1v86.8h-1zM1132 1414.2h3v86.8h-3z"/>
<path fill="#c4c4f8" d="M184 615.1h1v29h-1zM192 615.1h3v29h-3zM214 615.1h3v29h-3zM224 615.1h1v29h-1zM227 615.1h2v29h-2zM234 615.1h3v29h-3zM247 615.1h1v29h-1zM251 615.1h2v29h-2zM268 615.1h4v29h-4zM293 615.1h1v29h-1zM308 615.1h3v29h-3zM317 615.1h3v29h-3zM326 615.1h3v29h-3zM341 615.1h3v29h-3zM372 615.1h1v29h-1zM408 615.1h3v29h-3zM416 615.1h2v29h-2zM427 615.1h2v29h-2zM433 615.1h1v29h-1zM437 615.1h1v29h-1zM452 615.1h4v29h-4zM458 615.1h1v29h-1zM461 615.1h2v29h-2zM477 615.1h2v29h-2zM498 615.1h2v29h-2zM509 615.1h6v29h-6zM519 615.1h1v29h-1zM535 615.1h1v29h-1zM539 615.1h1v29h-1zM566 615.1h1v29h-1zM570 615.1h1v29h-1zM586 615.1h1v29h-1zM589 615.1h1v29h-1zM599 615.1h1v29h-1zM605 615.1h1v29h-1zM608 615.1h1v29h-1zM614 615.1h1v29h-1zM654 615.1h1v29h-1zM665 615.1h1v29h-1zM687.7 615.1h0.3v29h-0.3zM726 615.1h1v29h-1zM730 615.1h3v29h-3zM752 615.1h1v29h-1zM853 615.1h1v29h-1zM895.2 615.1h0.8v29h-0.8zM934 615.1h1v29h-1zM950 615.1h1v29h-1zM998.8 615.1h0.2v29h-0.2zM1005 615.1h3v29h-3zM1011 615.1h1v29h-1zM1086 615.1h3v29h-3zM1099 615.1h2v29h-2zM1125 615.1h2v29h-2zM1129 615.1h2v29h-2zM1159 615.1h2v29h-2zM1180 615.1h2.4v29h-2.4zM225 656.5h2v86.6h-2zM279 656.5h2v86.6h-2zM356 656.5h2v86.6h-2zM368 656.5h2v86.6h-2zM373 656.5h1v86.6h-1zM407 656.5h2v86.6h-2zM411 656.5h3v86.6h-3zM422 656.5h2v86.6h-2zM434 656.5h3v86.6h-3zM441 656.5h1v86.6h-1zM446 656.5h2v86.6h-2zM449 656.5h1v86.6h-1zM455 656.5h1v86.6h-1zM472 656.5h2v86.6h-2zM484 656.5h1v86.6h-1zM495 656.5h3v86.6h-3zM499 656.5h2v86.6h-2zM504 656.5h2v86.6h-2zM507 656.5h1v86.6h-1zM525 656.5h1v86.6h-1zM534 656.5h2v86.6h-2zM538 656.5h2v86.6h-2zM591 656.5h4v86.6h-4zM616 656.5h2v86.6h-2zM623 656.5h2v86.6h-2zM640.6 656.5h0.4v86.6h-0.4zM662.8 656.5h1.2v86.6h-1.2zM667 656.5h3v86.6h-3zM704 656.5h1v86.6h-1zM712 656.5h3v86.6h-3zM717 656.5h2v86.6h-2zM789 656.5h1v86.6h-1zM819 656.5h2v86.6h-2zM876 656.5h3v86.6h-3zM943 656.5h2v86.6h-2zM996 656.5h2v86.6h-2zM1019 656.5h2v86.6h-2zM1030.6 656.5h0.4v86.6h-0.4zM1079 656.5h1v86.6h-1zM1084 656.5h1v86.6h-1zM1096 656.5h2v86.6h-2zM1107 656.5h2v86.6h-2zM1111 656.5h1v86.6h-1zM1128 656.5h2v86.6h-2zM1138 656.5h1v86.6h-1zM1163 656.5h1v86.6h-1zM1180 656.5h3v86.6h-3zM184 753.5h1v86.9h-1zM198 753.5h1v86.9h-1zM208 753.5h1v86.9h-1zM211 753.5h3v86.9h-3zM221 753.5h1v86.9h-1zM229 753.5h2v86.9h-2zM236 753.5h1v86.9h-1zM239 753.5h1v86.9h-1zM244 753.5h3v86.9h-3zM249 753.5h2v86.9h-2zM256 753.5h2v86.9h-2zM276 753.5h1v86.9h-1zM281 753.5h1v86.9h-1zM293 753.5h1v86.9h-1zM303 753.5h1v86.9h-1zM314 753.5h1v86.9h-1zM321 753.5h1v86.9h-1zM325 753.5h2v86.9h-2zM332 753.5h1v86.9h-1zM342 753.5h1v86.9h-1zM345 753.5h3v86.9h-3zM358 753.5h1v86.9h-1zM360 753.5h1v86.9h-1zM370 753.5h1v86.9h-1zM376 753.5h2v86.9h-2zM386 753.5h1v86.9h-1zM474 753.5h3v86.9h-3zM478 753.5h1v86.9h-1zM483 753.5h1v86.9h-1zM493 753.5h1v86.9h-1zM517 753.5h1v86.9h-1zM527 753.5h3v86.9h-3zM588 753.5h1v86.9h-1zM596 753.5h2v86.9h-2zM602 753.5h1v86.9h-1zM605 753.5h2v86.9h-2zM617 753.5h1v86.9h-1zM620 753.5h2v86.9h-2zM623 753.5h1v86.9h-1zM632 753.5h3v86.9h-3zM639 753.5h1v86.9h-1zM642 753.5h2v86.9h-2zM646 753.5h2v86.9h-2zM692 753.5h1v86.9h-1zM703 753.5h2v86.9h-2zM708 753.5h3v86.9h-3zM716 753.5h2v86.9h-2zM759 753.5h1v86.9h-1zM827 753.5h2v86.9h-2zM830 753.5h3v86.9h-3zM901 753.5h1v86.9h-1zM910 753.5h2v86.9h-2zM913 753.5h3v86.9h-3zM924 753.5h2.5v86.9h-2.5zM996 753.5h2v86.9h-2zM1012 753.5h1v86.9h-1zM1017 753.5h2v86.9h-2zM1021 753.5h1v86.9h-1zM1119 753.5h2v86.9h-2zM1133 753.5h1v86.9h-1zM1147 753.5h1v86.9h-1zM1163 753.5h3v86.9h-3zM181 851.2h2v86.8h-2zM188 851.2h1v86.8h-1zM195 851.2h1v86.8h-1zM199 851.2h2v86.8h-2zM213 851.2h2v86.8h-2zM239 851.2h1v86.8h-1zM241 851.2h2v86.8h-2zM248 851.2h3v86.8h-3zM260 851.2h1v86.8h-1zM289 851.2h4v86.8h-4zM304 851.2h2v86.8h-2zM324 851.2h2v86.8h-2zM351 851.2h2v86.8h-2zM367 851.2h3v86.8h-3zM372 851.2h1v86.8h-1zM400 851.2h2v86.8h-2zM404 851.2h2v86.8h-2zM420 851.2h1v86.8h-1zM434 851.2h2v86.8h-2zM451 851.2h2v86.8h-2zM464 851.2h3v86.8h-3zM470 851.2h2v86.8h-2zM478 851.2h2v86.8h-2zM490 851.2h2v86.8h-2zM509 851.2h2v86.8h-2zM567 851.2h2v86.8h-2zM572 851.2h1v86.8h-1zM576 851.2h1v86.8h-1zM581 851.2h1v86.8h-1zM597 851.2h2v86.8h-2zM609 851.2h2v86.8h-2zM621 851.2h1v86.8h-1zM625 851.2h1v86.8h-1zM637 851.2h1v86.8h-1zM696 851.2h1v86.8h-1zM720 851.2h1v86.8h-1zM727 851.2h1v86.8h-1zM746 851.2h1v86.8h-1zM761 851.2h2v86.8h-2zM946 851.2h2v86.8h-2zM1001 851.2h3v86.8h-3zM1022 851.2h1v86.8h-1zM1073 851.2h2v86.8h-2zM1078 851.2h1v86.8h-1zM1081 851.2h2v86.8h-2zM1094 851.2h1v86.8h-1zM1109 851.2h1v86.8h-1zM1121 851.2h1v86.8h-1zM1125 851.2h2v86.8h-2zM1137 851.2h1v86.8h-1zM1151 851.2h3v86.8h-3zM1156 851.2h3v86.8h-3zM1164 851.2h3v86.8h-3zM1174 851.2h3v86.8h-3zM1185 851.2h1v86.8h-1zM228 948.5h1v86.9h-1zM249 948.5h1v86.9h-1zM252 948.5h1v86.9h-1zM256 948.5h1v86.9h-1zM287 948.5h1.7v86.9h-1.7zM411 948.5h2v86.9h-2zM431 948.5h3v86.9h-3zM466 948.5h2v86.9h-2zM475 948.5h3v86.9h-3zM488 948.5h2v86.9h-2zM503 948.5h1v86.9h-1zM517 948.5h1v86.9h-1zM527 948.5h2v86.9h-2zM562 948.5h2v86.9h-2zM566 948.5h3v86.9h-3zM586 948.5h2v86.9h-2zM594 948.5h1v86.9h-1zM598 948.5h3v86.9h-3zM606 948.5h1v86.9h-1zM615 948.5h2v86.9h-2zM651 948.5h1v86.9h-1zM665 948.5h1v86.9h-1zM709 948.5h1v86.9h-1zM714 948.5h1v86.9h-1zM733 948.5h1v86.9h-1zM807 948.5h1v86.9h-1zM814 948.5h1v86.9h-1zM939 948.5h1v86.9h-1zM979 948.5h1v86.9h-1zM989 948.5h1v86.9h-1zM994 948.5h4v86.9h-4zM1000 948.5h2v86.9h-2zM1003 948.5h2v86.9h-2zM1009 948.5h1v86.9h-1zM1064 948.5h2v86.9h-2zM1068 948.5h1v86.9h-1zM1079 948.5h2v86.9h-2zM1104 948.5h1v86.9h-1zM180 1047.5h2v86.9h-2zM188 1047.5h2v86.9h-2zM199 1047.5h2v86.9h-2zM202 1047.5h1v86.9h-1zM219 1047.5h1v86.9h-1zM224 1047.5h1v86.9h-1zM230 1047.5h2v86.9h-2zM283 1047.5h2v86.9h-2zM321 1047.5h2v86.9h-2zM326 1047.5h1v86.9h-1zM342 1047.5h3v86.9h-3zM400 1047.5h3v86.9h-3zM416 1047.5h1v86.9h-1zM433 1047.5h2v86.9h-2zM454 1047.5h1v86.9h-1zM465 1047.5h1v86.9h-1zM479 1047.5h3v86.9h-3zM489 1047.5h2v86.9h-2zM505 1047.5h1v86.9h-1zM508 1047.5h2v86.9h-2zM531 1047.5h1v86.9h-1zM560 1047.5h6v86.9h-6zM569 1047.5h1v86.9h-1zM577 1047.5h1v86.9h-1zM593 1047.5h2v86.9h-2zM604 1047.5h1v86.9h-1zM608 1047.5h4v86.9h-4zM613 1047.5h2v86.9h-2zM618 1047.5h1v86.9h-1zM623 1047.5h1v86.9h-1zM628 1047.5h1v86.9h-1zM831 1047.5h1v86.9h-1zM841 1047.5h3v86.9h-3zM860 1047.5h3v86.9h-3zM882 1047.5h1.8v86.9h-1.8zM916.9 1047.5h0.1v86.9h-0.1zM937 1047.5h4v86.9h-4zM947 1047.5h1v86.9h-1zM981 1047.5h2v86.9h-2zM1013 1047.5h2v86.9h-2zM1019 1047.5h2v86.9h-2zM1028 1047.5h2v86.9h-2zM1082 1047.5h2v86.9h-2zM1087 1047.5h1v86.9h-1zM1103 1047.5h1v86.9h-1zM1110 1047.5h2v86.9h-2zM1128 1047.5h2v86.9h-2zM1136 1047.5h3v86.9h-3zM1142 1047.5h2v86.9h-2zM1153 1047.5h2v86.9h-2zM1161 1047.5h1v86.9h-1zM1168 1047.5h3v86.9h-3zM1173 1047.5h1v86.9h-1zM1186 1047.5h1.8v86.9h-1.8zM234 1148.5h2v86.8h-2zM239 1148.5h2v86.8h-2zM242 1148.5h1v86.8h-1zM269 1148.5h2v86.8h-2zM272 1148.5h2v86.8h-2zM335 1148.5h2v86.8h-2zM347 1148.5h3v86.8h-3zM366 1148.5h1v86.8h-1zM383 1148.5h1v86.8h-1zM387 1148.5h1.3v86.8h-1.3zM499 1148.5h1v86.8h-1zM502 1148.5h1v86.8h-1zM508 1148.5h1v86.8h-1zM515 1148.5h3v86.8h-3zM519 1148.5h1v86.8h-1zM523 1148.5h1v86.8h-1zM577 1148.5h1v86.8h-1zM580 1148.5h1v86.8h-1zM600 1148.5h4v86.8h-4zM605 1148.5h2v86.8h-2zM613 1148.5h4v86.8h-4zM619 1148.5h1v86.8h-1zM633 1148.5h1v86.8h-1zM636 1148.5h1v86.8h-1zM646 1148.5h1v86.8h-1zM660 1148.5h2v86.8h-2zM665 1148.5h1v86.8h-1zM672 1148.5h2v86.8h-2zM689 1148.5h3v86.8h-3zM705 1148.5h2v86.8h-2zM714 1148.5h2v86.8h-2zM759 1148.5h1v86.8h-1zM764 1148.5h1v86.8h-1zM777 1148.5h1v86.8h-1zM805.2 1148.5h2.8v86.8h-2.8zM851 1148.5h1v86.8h-1zM856 1148.5h1v86.8h-1zM926 1148.5h2v86.8h-2zM990 1148.5h2v86.8h-2zM997.8 1148.5h2.2v86.8h-2.2zM1063.7 1148.5h1.3v86.8h-1.3zM1089 1148.5h1v86.8h-1zM1106 1148.5h2v86.8h-2zM1113 1148.5h1v86.8h-1zM1131 1148.5h1v86.8h-1zM1135 1148.5h2v86.8h-2zM1143 1148.5h2v86.8h-2zM192 1245.8h2v86.9h-2zM204 1245.8h2v86.9h-2zM207 1245.8h3v86.9h-3zM225 1245.8h2v86.9h-2zM289 1245.8h3v86.9h-3zM306 1245.8h3v86.9h-3zM323 1245.8h1v86.9h-1zM327 1245.8h1v86.9h-1zM336 1245.8h2v86.9h-2zM351 1245.8h4v86.9h-4zM379 1245.8h3v86.9h-3zM421 1245.8h2v86.9h-2zM440 1245.8h3v86.9h-3zM445 1245.8h3v86.9h-3zM463 1245.8h1v86.9h-1zM466 1245.8h3v86.9h-3zM473 1245.8h1v86.9h-1zM480 1245.8h3v86.9h-3zM488 1245.8h1v86.9h-1zM495 1245.8h1v86.9h-1zM505 1245.8h2v86.9h-2zM509 1245.8h1v86.9h-1zM559 1245.8h1v86.9h-1zM563 1245.8h6v86.9h-6zM571 1245.8h2v86.9h-2zM579 1245.8h1v86.9h-1zM596 1245.8h3v86.9h-3zM605 1245.8h1v86.9h-1zM609 1245.8h1v86.9h-1zM613 1245.8h1v86.9h-1zM625 1245.8h2v86.9h-2zM631 1245.8h5v86.9h-5zM661.8 1245.8h2.2v86.9h-2.2zM753 1245.8h1v86.9h-1zM766 1245.8h1v86.9h-1zM774 1245.8h1v86.9h-1zM777 1245.8h2v86.9h-2zM782 1245.8h2v86.9h-2zM788 1245.8h1v86.9h-1zM818.6 1245.8h2.4v86.9h-2.4zM868 1245.8h1v86.9h-1zM872 1245.8h1v86.9h-1zM875 1245.8h2v86.9h-2zM948 1245.8h1v86.9h-1zM1063.7 1245.8h1.3v86.9h-1.3zM1100 1245.8h2v86.9h-2zM1139 1245.8h1v86.9h-1zM1148 1245.8h2v86.9h-2zM1171 1245.8h1v86.9h-1zM1181 1245.8h2v86.9h-2zM192 1344.8h1v58.4h-1zM206 1344.8h2v58.4h-2zM214 1344.8h2v58.4h-2zM232 1344.8h3v58.4h-3zM254 1344.8h1v58.4h-1zM273 1344.8h2v58.4h-2zM304 1344.8h2v58.4h-2zM339 1344.8h1v58.4h-1zM428 1344.8h3v58.4h-3zM445 1344.8h1v58.4h-1zM460 1344.8h1v58.4h-1zM477 1344.8h1v58.4h-1zM498 1344.8h1v58.4h-1zM508 1344.8h1v58.4h-1zM522 1344.8h1v58.4h-1zM559 1344.8h1v58.4h-1zM561 1344.8h2v58.4h-2zM619 1344.8h2v58.4h-2zM631 1344.8h1v58.4h-1zM722 1344.8h2v58.4h-2zM745 1344.8h1v58.4h-1zM752 1344.8h2v58.4h-2zM756 1344.8h2v58.4h-2zM759 1344.8h1v58.4h-1zM767 1344.8h2v58.4h-2zM805.2 1344.8h0.8v58.4h-0.8zM822 1344.8h2v58.4h-2zM857 1344.8h1v58.4h-1zM928 1344.8h3v58.4h-3zM954 1344.8h2v58.4h-2zM995 1344.8h1v58.4h-1zM1106 1344.8h2v58.4h-2zM1122 1344.8h2v58.4h-2zM1128 1344.8h3v58.4h-3zM1132 1344.8h2v58.4h-2zM1137 1344.8h1v58.4h-1zM1153 1344.8h4v58.4h-4zM1160 1344.8h1v58.4h-1zM246 1414.2h5v86.8h-5zM259 1414.2h1v86.8h-1zM269 1414.2h2v86.8h-2zM279 1414.2h2v86.8h-2zM292 1414.2h2v86.8h-2zM306 1414.2h3v86.8h-3zM311 1414.2h2v86.8h-2zM319 1414.2h2v86.8h-2zM334 1414.2h3v86.8h-3zM371 1414.2h1v86.8h-1zM383 1414.2h4v86.8h-4zM407 1414.2h3v86.8h-3zM463 1414.2h1v86.8h-1zM465 1414.2h1v86.8h-1zM486 1414.2h1v86.8h-1zM498 1414.2h1v86.8h-1zM508 1414.2h3v86.8h-3zM513 1414.2h6v86.8h-6zM529 1414.2h1v86.8h-1zM567 1414.2h1v86.8h-1zM573 1414.2h1v86.8h-1zM583 1414.2h1v86.8h-1zM606 1414.2h3v86.8h-3zM655 1414.2h2v86.8h-2zM699 1414.2h1v86.8h-1zM717 1414.2h1v86.8h-1zM723 1414.2h2v86.8h-2zM726 1414.2h2v86.8h-2zM731 1414.2h2v86.8h-2zM759 1414.2h2v86.8h-2zM839 1414.2h4v86.8h-4zM861 1414.2h1v86.8h-1zM939 1414.2h1v86.8h-1zM946 1414.2h1v86.8h-1zM1003 1414.2h1v86.8h-1zM1014 1414.2h1v86.8h-1zM1024 1414.2h2v86.8h-2zM1036 1414.2h1.4v86.8h-1.4zM1076 1414.2h1v86.8h-1zM1095 1414.2h1v86.8h-1zM1100 1414.2h2v86.8h-2zM1104 1414.2h2v86.8h-2zM1115 1414.2h1v86.8h-1zM1126 1414.2h1v86.8h-1zM1158 1414.2h2v86.8h-2zM1173 1414.2h2v86.8h-2z"/>
<path fill="#e8e4fa" d="M182 615.1h2v29h-2zM188 615.1h1v29h-1zM195 615.1h5v29h-5zM204 615.1h2v29h-2zM223 615.1h1v29h-1zM225 615.1h2v29h-2zM260 615.1h2v29h-2zM276 615.1h1v29h-1zM286 615.1h2v29h-2zM294 615.1h2v29h-2zM298 615.1h3v29h-3zM303 615.1h1v29h-1zM329 615.1h3v29h-3zM344 615.1h1v29h-1zM354 615.1h2v29h-2zM373 615.1h1.5v29h-1.5zM434 615.1h1v29h-1zM448 615.1h3v29h-3zM489 615.1h1v29h-1zM496 615.1h2v29h-2zM522 615.1h1v29h-1zM529 615.1h2v29h-2zM571 615.1h1v29h-1zM577 615.1h6v29h-6zM593 615.1h1v29h-1zM690 615.1h4v29h-4zM695 615.1h1v29h-1zM742 615.1h1v29h-1zM763 615.1h2v29h-2zM774 615.1h3v29h-3zM780 615.1h2v29h-2zM790 615.1h2v29h-2zM814 615.1h1v29h-1zM835 615.1h2v29h-2zM842 615.1h1v29h-1zM855 615.1h1v29h-1zM904 615.1h2v29h-2zM940 615.1h1v29h-1zM954 615.1h1v29h-1zM956 615.1h1v29h-1zM962 615.1h1.8v29h-1.8zM1003 615.1h2v29h-2zM1008 615.1h2v29h-2zM1108 615.1h1v29h-1zM1114 615.1h2v29h-2zM1121 615.1h2v29h-2zM1145 615.1h1v29h-1zM1165 615.1h2v29h-2zM322 656.5h1v86.6h-1zM337 656.5h1v86.6h-1zM345 656.5h1v86.6h-1zM349 656.5h1v86.6h-1zM370 656.5h1v86.6h-1zM376 656.5h1v86.6h-1zM401 656.5h2v86.6h-2zM418 656.5h3v86.6h-3zM425 656.5h3v86.6h-3zM451 656.5h2v86.6h-2zM466 656.5h1v86.6h-1zM476 656.5h2v86.6h-2zM502 656.5h2v86.6h-2zM510 656.5h2v86.6h-2zM516 656.5h1v86.6h-1zM589 656.5h1v86.6h-1zM597 656.5h1v86.6h-1zM602 656.5h3v86.6h-3zM615 656.5h1v86.6h-1zM618 656.5h2v86.6h-2zM622 656.5h1v86.6h-1zM630 656.5h3v86.6h-3zM659 656.5h1v86.6h-1zM697 656.5h3v86.6h-3zM724 656.5h1v86.6h-1zM765 656.5h2v86.6h-2zM788 656.5h1v86.6h-1zM816 656.5h2v86.6h-2zM836 656.5h2v86.6h-2zM842 656.5h1v86.6h-1zM870 656.5h1v86.6h-1zM873 656.5h1v86.6h-1zM875 656.5h1v86.6h-1zM991 656.5h4v86.6h-4zM1001 656.5h1v86.6h-1zM1072 656.5h2v86.6h-2zM1146 656.5h1v86.6h-1zM1153 656.5h1v86.6h-1zM1155 656.5h1v86.6h-1zM1162 656.5h1v86.6h-1zM1176 656.5h1v86.6h-1zM195 753.5h1v86.9h-1zM237 753.5h2v86.9h-2zM247 753.5h2v86.9h-2zM252 753.5h2v86.9h-2zM267 753.5h2v86.9h-2zM272 753.5h2v86.9h-2zM277 753.5h1v86.9h-1zM296 753.5h2v86.9h-2zM315 753.5h2v86.9h-2zM336 753.5h1v86.9h-1zM361 753.5h3v86.9h-3zM463 753.5h3v86.9h-3zM477 753.5h1v86.9h-1zM504 753.5h4v86.9h-4zM518 753.5h1v86.9h-1zM531 753.5h3v86.9h-3zM566 753.5h1v86.9h-1zM577 753.5h1v86.9h-1zM622 753.5h1v86.9h-1zM624 753.5h2v86.9h-2zM641 753.5h1v86.9h-1zM658 753.5h2v86.9h-2zM672 753.5h2v86.9h-2zM688 753.5h1v86.9h-1zM693 753.5h2v86.9h-2zM707 753.5h1v86.9h-1zM745 753.5h2v86.9h-2zM898 753.5h2v86.9h-2zM943 753.5h2v86.9h-2zM982.4 753.5h1.6v86.9h-1.6zM993 753.5h3v86.9h-3zM1002 753.5h1v86.9h-1zM1009 753.5h2v86.9h-2zM1015 753.5h2v86.9h-2zM1028 753.5h3v86.9h-3zM1097 753.5h3v86.9h-3zM1114 753.5h2v86.9h-2zM1148 753.5h1v86.9h-1zM1159 753.5h1v86.9h-1zM1166 753.5h1v86.9h-1zM1169 753.5h1v86.9h-1zM1176 753.5h1v86.9h-1zM192 851.2h3v86.8h-3zM205 851.2h1v86.8h-1zM217 851.2h2v86.8h-2zM261 851.2h1v86.8h-1zM269 851.2h4v86.8h-4zM279 851.2h1v86.8h-1zM317 851.2h2v86.8h-2zM322 851.2h2v86.8h-2zM375 851.2h2v86.8h-2zM385 851.2h2v86.8h-2zM403 851.2h1v86.8h-1zM408 851.2h1v86.8h-1zM418 851.2h2v86.8h-2zM421 851.2h1v86.8h-1zM442 851.2h2v86.8h-2zM463 851.2h1v86.8h-1zM492 851.2h2v86.8h-2zM498 851.2h1v86.8h-1zM558.1 851.2h2.9v86.8h-2.9zM565 851.2h2v86.8h-2zM587 851.2h1v86.8h-1zM589 851.2h2v86.8h-2zM593 851.2h1v86.8h-1zM615 851.2h2v86.8h-2zM627 851.2h3v86.8h-3zM633 851.2h1v86.8h-1zM656 851.2h1v86.8h-1zM712 851.2h1v86.8h-1zM749 851.2h1v86.8h-1zM791 851.2h1v86.8h-1zM934 851.2h1v86.8h-1zM938 851.2h2v86.8h-2zM1034 851.2h1v86.8h-1zM1069.5 851.2h0.5v86.8h-0.5zM1097 851.2h1v86.8h-1zM1122 851.2h1v86.8h-1zM1129 851.2h5v86.8h-5zM1180 851.2h4v86.8h-4zM227 948.5h1v86.9h-1zM277 948.5h3v86.9h-3zM400 948.5h1v86.9h-1zM423 948.5h2v86.9h-2zM447 948.5h1v86.9h-1zM470 948.5h2v86.9h-2zM491 948.5h2v86.9h-2zM494 948.5h1v86.9h-1zM498 948.5h1v86.9h-1zM507 948.5h1v86.9h-1zM513 948.5h3v86.9h-3zM564 948.5h2v86.9h-2zM588 948.5h2v86.9h-2zM597 948.5h1v86.9h-1zM613 948.5h2v86.9h-2zM625 948.5h1v86.9h-1zM640 948.5h4v86.9h-4zM668 948.5h5v86.9h-5zM705 948.5h3v86.9h-3zM711 948.5h3v86.9h-3zM721 948.5h1v86.9h-1zM750 948.5h2v86.9h-2zM755 948.5h3v86.9h-3zM765 948.5h1.7v86.9h-1.7zM832 948.5h1v86.9h-1zM957 948.5h1v86.9h-1zM990 948.5h2v86.9h-2zM1006 948.5h2v86.9h-2zM1076 948.5h2v86.9h-2zM1086 948.5h3v86.9h-3zM1100 948.5h1v86.9h-1zM1117 948.5h1v86.9h-1zM211 1047.5h1v86.9h-1zM235 1047.5h2v86.9h-2zM243 1047.5h1v86.9h-1zM270 1047.5h1v86.9h-1zM292 1047.5h1v86.9h-1zM313 1047.5h2v86.9h-2zM325 1047.5h1v86.9h-1zM353 1047.5h1v86.9h-1zM382 1047.5h1v86.9h-1zM448 1047.5h2v86.9h-2zM501 1047.5h2v86.9h-2zM506 1047.5h2v86.9h-2zM532 1047.5h1v86.9h-1zM591 1047.5h1v86.9h-1zM605 1047.5h3v86.9h-3zM616 1047.5h2v86.9h-2zM642 1047.5h2.9v86.9h-2.9zM723 1047.5h2v86.9h-2zM733 1047.5h1v86.9h-1zM738 1047.5h1v86.9h-1zM827.4 1047.5h1.6v86.9h-1.6zM844 1047.5h1v86.9h-1zM851 1047.5h1v86.9h-1zM953 1047.5h1v86.9h-1zM957 1047.5h1v86.9h-1zM1011 1047.5h2v86.9h-2zM1018 1047.5h1v86.9h-1zM1065 1047.5h1v86.9h-1zM1077 1047.5h1v86.9h-1zM1084 1047.5h1v86.9h-1zM1100 1047.5h1v86.9h-1zM1123 1047.5h3v86.9h-3zM1139 1047.5h2v86.9h-2zM1148 1047.5h5v86.9h-5zM1179 1047.5h5v86.9h-5zM276 1148.5h1v86.8h-1zM282 1148.5h1v86.8h-1zM292 1148.5h1v86.8h-1zM330 1148.5h2v86.8h-2zM343 1148.5h2v86.8h-2zM353 1148.5h3v86.8h-3zM361 1148.5h4v86.8h-4zM368 1148.5h2v86.8h-2zM479 1148.5h2v86.8h-2zM485 1148.5h1v86.8h-1zM504 1148.5h1v86.8h-1zM526 1148.5h1v86.8h-1zM562.5 1148.5h0.5v86.8h-0.5zM565 1148.5h1v86.8h-1zM581 1148.5h1v86.8h-1zM623 1148.5h2v86.8h-2zM632 1148.5h1v86.8h-1zM634 1148.5h2v86.8h-2zM687.7 1148.5h1.3v86.8h-1.3zM718 1148.5h1v86.8h-1zM722 1148.5h1v86.8h-1zM726 1148.5h1v86.8h-1zM729 1148.5h1v86.8h-1zM733 1148.5h1v86.8h-1zM737 1148.5h1v86.8h-1zM753 1148.5h1v86.8h-1zM757 1148.5h2v86.8h-2zM776 1148.5h1v86.8h-1zM784 1148.5h2v86.8h-2zM791 1148.5h1v86.8h-1zM849 1148.5h2v86.8h-2zM861 1148.5h2v86.8h-2zM982 1148.5h1v86.8h-1zM1067 1148.5h1v86.8h-1zM1070 1148.5h3v86.8h-3zM1090 1148.5h1v86.8h-1zM221 1245.8h2v86.9h-2zM256 1245.8h1v86.9h-1zM259 1245.8h2v86.9h-2zM263 1245.8h3v86.9h-3zM269 1245.8h1v86.9h-1zM288 1245.8h1v86.9h-1zM292 1245.8h1v86.9h-1zM304 1245.8h2v86.9h-2zM316 1245.8h2v86.9h-2zM320 1245.8h3v86.9h-3zM324 1245.8h1v86.9h-1zM328 1245.8h2v86.9h-2zM350 1245.8h1v86.9h-1zM356 1245.8h1v86.9h-1zM365 1245.8h1v86.9h-1zM372 1245.8h1v86.9h-1zM374 1245.8h1v86.9h-1zM405.4 1245.8h1.6v86.9h-1.6zM411 1245.8h4v86.9h-4zM420 1245.8h1v86.9h-1zM457 1245.8h1v86.9h-1zM469 1245.8h1v86.9h-1zM497 1245.8h2v86.9h-2zM501 1245.8h1v86.9h-1zM517 1245.8h4v86.9h-4zM525 1245.8h1v86.9h-1zM558.1 1245.8h0.9v86.9h-0.9zM561 1245.8h1v86.9h-1zM580 1245.8h1v86.9h-1zM599 1245.8h1v86.9h-1zM602 1245.8h3v86.9h-3zM606 1245.8h1v86.9h-1zM614 1245.8h1v86.9h-1zM668 1245.8h2v86.9h-2zM765 1245.8h1v86.9h-1zM835 1245.8h3v86.9h-3zM844 1245.8h1v86.9h-1zM941 1245.8h1v86.9h-1zM1067 1245.8h1v86.9h-1zM1073 1245.8h2v86.9h-2zM1077 1245.8h3v86.9h-3zM1084 1245.8h2v86.9h-2zM1089 1245.8h2v86.9h-2zM1105 1245.8h1v86.9h-1zM1112 1245.8h1v86.9h-1zM1115 1245.8h2v86.9h-2zM1140 1245.8h2v86.9h-2zM1156 1245.8h2v86.9h-2zM1166 1245.8h1v86.9h-1zM179.3 1344.8h0.7v58.4h-0.7zM184 1344.8h1v58.4h-1zM195 1344.8h3v58.4h-3zM228 1344.8h1v58.4h-1zM241 1344.8h2v58.4h-2zM244 1344.8h1v58.4h-1zM259 1344.8h3v58.4h-3zM284 1344.8h4v58.4h-4zM309 1344.8h1v58.4h-1zM312 1344.8h2v58.4h-2zM323 1344.8h2v58.4h-2zM331 1344.8h1v58.4h-1zM340 1344.8h1v58.4h-1zM431 1344.8h1v58.4h-1zM443 1344.8h1v58.4h-1zM453 1344.8h1v58.4h-1zM455 1344.8h1v58.4h-1zM469 1344.8h2v58.4h-2zM486 1344.8h1v58.4h-1zM513 1344.8h3v58.4h-3zM563 1344.8h2v58.4h-2zM580 1344.8h3v58.4h-3zM590 1344.8h1v58.4h-1zM595 1344.8h3v58.4h-3zM718 1344.8h4v58.4h-4zM736 1344.8h2v58.4h-2zM749 1344.8h1v58.4h-1zM854 1344.8h1v58.4h-1zM869 1344.8h2v58.4h-2zM877 1344.8h2v58.4h-2zM882 1344.8h1.8v58.4h-1.8zM936 1344.8h3v58.4h-3zM947 1344.8h2v58.4h-2zM994 1344.8h1v58.4h-1zM1102.3 1344.8h1.7v58.4h-1.7zM1116 1344.8h1v58.4h-1zM1124 1344.8h3v58.4h-3zM1146 1344.8h2v58.4h-2zM1170 1344.8h3v58.4h-3zM261 1414.2h1v86.8h-1zM301 1414.2h3v86.8h-3zM321 1414.2h2v86.8h-2zM330 1414.2h3v86.8h-3zM346 1414.2h3v86.8h-3zM361 1414.2h2v86.8h-2zM373 1414.2h1v86.8h-1zM416 1414.2h1v86.8h-1zM438 1414.2h1v86.8h-1zM444 1414.2h1v86.8h-1zM462 1414.2h1v86.8h-1zM473 1414.2h1v86.8h-1zM487 1414.2h2v86.8h-2zM493 1414.2h1v86.8h-1zM495 1414.2h3v86.8h-3zM501 1414.2h1v86.8h-1zM536 1414.2h2v86.8h-2zM559 1414.2h1v86.8h-1zM574 1414.2h2v86.8h-2zM580 1414.2h1v86.8h-1zM591 1414.2h2v86.8h-2zM629 1414.2h3v86.8h-3zM633 1414.2h3v86.8h-3zM640 1414.2h1v86.8h-1zM657 1414.2h1v86.8h-1zM703 1414.2h2v86.8h-2zM710 1414.2h1.8v86.8h-1.8zM725 1414.2h1v86.8h-1zM729 1414.2h2v86.8h-2zM746 1414.2h2v86.8h-2zM764 1414.2h2v86.8h-2zM767 1414.2h2v86.8h-2zM770 1414.2h2v86.8h-2zM791 1414.2h2.4v86.8h-2.4zM807 1414.2h1v86.8h-1zM1004 1414.2h2v86.8h-2zM1011 1414.2h2v86.8h-2zM1027 1414.2h2v86.8h-2zM1030 1414.2h1v86.8h-1zM1082 1414.2h2v86.8h-2zM1091 1414.2h2v86.8h-2zM1103 1414.2h1v86.8h-1zM1116 1414.2h3v86.8h-3zM1129 1414.2h2v86.8h-2zM1182 1414.2h2v86.8h-2z"/>
<path fill="#ffd8dc" d="M179.3 615.1h0.7v29h-0.7zM231 615.1h1v29h-1zM249 615.1h2v29h-2zM264 615.1h1v29h-1zM301 615.1h2v29h-2zM314 615.1h2v29h-2zM325 615.1h1v29h-1zM332 615.1h1v29h-1zM345 615.1h2v29h-2zM358 615.1h1v29h-1zM370 615.1h2v29h-2zM406 615.1h1v29h-1zM422 615.1h3v29h-3zM431 615.1h2v29h-2zM457 615.1h1v29h-1zM460 615.1h1v29h-1zM467 615.1h4v29h-4zM481 615.1h2v29h-2zM502 615.1h2v29h-2zM506 615.1h3v29h-3zM537 615.1h2v29h-2zM583 615.1h3v29h-3zM587 615.1h2v29h-2zM602 615.1h3v29h-3zM609 615.1h2v29h-2zM694 615.1h1v29h-1zM702 615.1h2v29h-2zM708 615.1h4v29h-4zM713 615.1h2v29h-2zM716 615.1h2v29h-2zM725 615.1h1v29h-1zM727 615.1h1v29h-1zM738 615.1h2v29h-2zM741 615.1h1v29h-1zM743 615.1h3v29h-3zM750 615.1h1v29h-1zM753 615.1h2v29h-2zM765 615.1h1v29h-1zM768 615.1h3v29h-3zM782 615.1h4v29h-4zM787 615.1h1v29h-1zM815 615.1h3v29h-3zM828 615.1h1v29h-1zM859 615.1h2v29h-2zM862 615.1h2v29h-2zM865 615.1h2v29h-2zM958 615.1h1v29h-1zM1002 615.1h1v29h-1zM1019 615.1h1v29h-1zM1021 615.1h3v29h-3zM1089 615.1h2v29h-2zM1094 615.1h2v29h-2zM1101 615.1h1v29h-1zM1149 615.1h1v29h-1zM1163 615.1h2v29h-2zM1167 615.1h2v29h-2zM1173 615.1h4v29h-4zM212 656.5h3v86.6h-3zM228 656.5h4v86.6h-4zM237 656.5h3v86.6h-3zM245 656.5h1v86.6h-1zM277 656.5h2v86.6h-2zM291 656.5h1v86.6h-1zM294 656.5h2v86.6h-2zM304 656.5h1v86.6h-1zM315 656.5h1v86.6h-1zM318 656.5h2v86.6h-2zM335 656.5h2v86.6h-2zM348 656.5h1v86.6h-1zM352 656.5h1v86.6h-1zM360 656.5h3v86.6h-3zM381 656.5h1v86.6h-1zM406 656.5h1v86.6h-1zM414 656.5h2v86.6h-2zM417 656.5h1v86.6h-1zM442 656.5h1v86.6h-1zM448 656.5h1v86.6h-1zM450 656.5h1v86.6h-1zM462 656.5h2v86.6h-2zM490 656.5h3v86.6h-3zM509 656.5h1v86.6h-1zM518 656.5h1v86.6h-1zM528 656.5h3v86.6h-3zM559 656.5h3v86.6h-3zM566 656.5h2v86.6h-2zM573 656.5h1v86.6h-1zM575 656.5h2v86.6h-2zM587 656.5h2v86.6h-2zM675 656.5h1.9v86.6h-1.9zM702 656.5h2v86.6h-2zM709 656.5h1v86.6h-1zM728 656.5h1v86.6h-1zM730 656.5h1v86.6h-1zM750 656.5h2v86.6h-2zM805.2 656.5h1.8v86.6h-1.8zM808 656.5h1v86.6h-1zM813 656.5h2v86.6h-2zM935 656.5h1v86.6h-1zM939 656.5h1v86.6h-1zM946 656.5h1v86.6h-1zM958 656.5h1v86.6h-1zM960 656.5h1v86.6h-1zM983 656.5h3v86.6h-3zM1007 656.5h1v86.6h-1zM1012 656.5h1v86.6h-1zM1067 656.5h1v86.6h-1zM1069 656.5h3v86.6h-3zM1078 656.5h1v86.6h-1zM1093 656.5h2v86.6h-2zM1130 656.5h2v86.6h-2zM1149 656.5h2v86.6h-2zM1159 656.5h1v86.6h-1zM1167 656.5h1v86.6h-1zM1178 656.5h1v86.6h-1zM181 753.5h1v86.9h-1zM187 753.5h2v86.9h-2zM203 753.5h2v86.9h-2zM232 753.5h2v86.9h-2zM254 753.5h1v86.9h-1zM261 753.5h1v86.9h-1zM278 753.5h1v86.9h-1zM294 753.5h1v86.9h-1zM299 753.5h2v86.9h-2zM317 753.5h2v86.9h-2zM333 753.5h2v86.9h-2zM356 753.5h2v86.9h-2zM366 753.5h2v86.9h-2zM369 753.5h1v86.9h-1zM455 753.5h1v86.9h-1zM458 753.5h5v86.9h-5zM466 753.5h2v86.9h-2zM488 753.5h2v86.9h-2zM499 753.5h3v86.9h-3zM522 753.5h1v86.9h-1zM526 753.5h1v86.9h-1zM530 753.5h1v86.9h-1zM564 753.5h2v86.9h-2zM574 753.5h1v86.9h-1zM579 753.5h1v86.9h-1zM581 753.5h2v86.9h-2zM594 753.5h2v86.9h-2zM616 753.5h1v86.9h-1zM662 753.5h2v86.9h-2zM695 753.5h1v86.9h-1zM718 753.5h2v86.9h-2zM724 753.5h1v86.9h-1zM734 753.5h5v86.9h-5zM749 753.5h1v86.9h-1zM754 753.5h1v86.9h-1zM758 753.5h1v86.9h-1zM765 753.5h2v86.9h-2zM897 753.5h1v86.9h-1zM902 753.5h6v86.9h-6zM930 753.5h2v86.9h-2zM934 753.5h1v86.9h-1zM937 753.5h1v86.9h-1zM940 753.5h1v86.9h-1zM942 753.5h1v86.9h-1zM959 753.5h1v86.9h-1zM989 753.5h2v86.9h-2zM1022 753.5h2v86.9h-2zM1025 753.5h3v86.9h-3zM1031 753.5h2v86.9h-2zM1123 753.5h1v86.9h-1zM1128 753.5h2v86.9h-2zM1139 753.5h3v86.9h-3zM1150 753.5h4v86.9h-4zM189 851.2h1v86.8h-1zM197 851.2h1v86.8h-1zM204 851.2h1v86.8h-1zM210 851.2h1v86.8h-1zM215 851.2h1v86.8h-1zM219 851.2h5v86.8h-5zM226 851.2h2v86.8h-2zM234 851.2h3v86.8h-3zM254 851.2h2v86.8h-2zM262 851.2h1v86.8h-1zM277 851.2h2v86.8h-2zM283 851.2h1v86.8h-1zM286 851.2h2v86.8h-2zM299 851.2h1v86.8h-1zM307 851.2h2v86.8h-2zM311 851.2h3v86.8h-3zM319 851.2h2v86.8h-2zM328 851.2h2v86.8h-2zM331 851.2h4v86.8h-4zM337 851.2h1v86.8h-1zM347 851.2h2v86.8h-2zM416 851.2h2v86.8h-2zM450 851.2h1v86.8h-1zM453 851.2h1v86.8h-1zM467 851.2h1v86.8h-1zM496 851.2h1v86.8h-1zM522 851.2h2v86.8h-2zM535 851.2h1v86.8h-1zM543 851.2h2v86.8h-2zM573 851.2h3v86.8h-3zM594 851.2h1v86.8h-1zM600 851.2h1v86.8h-1zM632 851.2h1v86.8h-1zM635 851.2h2v86.8h-2zM639 851.2h4v86.8h-4zM650 851.2h1v86.8h-1zM653 851.2h3v86.8h-3zM661 851.2h4.7v86.8h-4.7zM703 851.2h2v86.8h-2zM711 851.2h1v86.8h-1zM729 851.2h1v86.8h-1zM754 851.2h1v86.8h-1zM772 851.2h2v86.8h-2zM779 851.2h1v86.8h-1zM937 851.2h1v86.8h-1zM940 851.2h3v86.8h-3zM982.4 851.2h1.6v86.8h-1.6zM990 851.2h2v86.8h-2zM998 851.2h3v86.8h-3zM1008 851.2h3v86.8h-3zM1018 851.2h1v86.8h-1zM1028 851.2h1v86.8h-1zM1072 851.2h1v86.8h-1zM1077 851.2h1v86.8h-1zM1096 851.2h1v86.8h-1zM1110 851.2h1v86.8h-1zM1134 851.2h1v86.8h-1zM1136 851.2h1v86.8h-1zM1144 851.2h3v86.8h-3zM1163 851.2h1v86.8h-1zM1169 851.2h1v86.8h-1zM1172 851.2h1v86.8h-1zM1177 851.2h2v86.8h-2zM219.2 948.5h0.8v86.9h-0.8zM229 948.5h1v86.9h-1zM231 948.5h2v86.9h-2zM239 948.5h4v86.9h-4zM284 948.5h3v86.9h-3zM419 948.5h4v86.9h-4zM448 948.5h1v86.9h-1zM453 948.5h1v86.9h-1zM473 948.5h2v86.9h-2zM482 948.5h1v86.9h-1zM518 948.5h4v86.9h-4zM526 948.5h1v86.9h-1zM538 948.5h3v86.9h-3zM590 948.5h3v86.9h-3zM610 948.5h2v86.9h-2zM623 948.5h2v86.9h-2zM634 948.5h1v86.9h-1zM638 948.5h1v86.9h-1zM688 948.5h5v86.9h-5zM704 948.5h1v86.9h-1zM729 948.5h1v86.9h-1zM748 948.5h1v86.9h-1zM809 948.5h1v86.9h-1zM812 948.5h1v86.9h-1zM820 948.5h2v86.9h-2zM824 948.5h2v86.9h-2zM829 948.5h1v86.9h-1zM838 948.5h2v86.9h-2zM842 948.5h1v86.9h-1zM902 948.5h4v86.9h-4zM915 948.5h3v86.9h-3zM929 948.5h1v86.9h-1zM933 948.5h2v86.9h-2zM954 948.5h1v86.9h-1zM1013 948.5h1v86.9h-1zM1018 948.5h3v86.9h-3zM1073 948.5h2v86.9h-2zM1089 948.5h1v86.9h-1zM1102 948.5h1v86.9h-1zM1113 948.5h1v86.9h-1zM1118 948.5h1v86.9h-1zM1121 948.5h1v86.9h-1zM1127 948.5h3v86.9h-3zM1150 948.5h1v86.9h-1zM1163 948.5h1v86.9h-1zM1169 948.5h1v86.9h-1zM179.3 1047.5h0.7v86.9h-0.7zM197 1047.5h1v86.9h-1zM225 1047.5h1v86.9h-1zM228 1047.5h2v86.9h-2zM253 1047.5h1v86.9h-1zM266 1047.5h1v86.9h-1zM304 1047.5h1v86.9h-1zM312 1047.5h1v86.9h-1zM315 1047.5h1v86.9h-1zM329 1047.5h2v86.9h-2zM369 1047.5h3v86.9h-3zM426 1047.5h1v86.9h-1zM432 1047.5h1v86.9h-1zM442 1047.5h2v86.9h-2zM453 1047.5h1v86.9h-1zM455 1047.5h1v86.9h-1zM483 1047.5h1v86.9h-1zM499 1047.5h1v86.9h-1zM541 1047.5h3v86.9h-3zM558.1 1047.5h1.9v86.9h-1.9zM568 1047.5h1v86.9h-1zM573 1047.5h1v86.9h-1zM583 1047.5h6v86.9h-6zM592 1047.5h1v86.9h-1zM599 1047.5h5v86.9h-5zM619 1047.5h1v86.9h-1zM630 1047.5h3v86.9h-3zM637 1047.5h3v86.9h-3zM689 1047.5h3v86.9h-3zM709 1047.5h1v86.9h-1zM713 1047.5h3v86.9h-3zM720 1047.5h1v86.9h-1zM830 1047.5h1v86.9h-1zM832 1047.5h1v86.9h-1zM866 1047.5h3v86.9h-3zM879 1047.5h1v86.9h-1zM902 1047.5h1v86.9h-1zM909 1047.5h2v86.9h-2zM912 1047.5h2v86.9h-2zM943 1047.5h3v86.9h-3zM958 1047.5h1v86.9h-1zM961 1047.5h2.8v86.9h-2.8zM977 1047.5h1v86.9h-1zM983 1047.5h1v86.9h-1zM1008 1047.5h1v86.9h-1zM1096 1047.5h2v86.9h-2zM1112 1047.5h1v86.9h-1zM1126 1047.5h1v86.9h-1zM1132 1047.5h3v86.9h-3zM1158 1047.5h1v86.9h-1zM1171 1047.5h1v86.9h-1zM1174 1047.5h2v86.9h-2zM1184 1047.5h1v86.9h-1zM232.7 1148.5h1.3v86.8h-1.3zM255 1148.5h2v86.8h-2zM268 1148.5h1v86.8h-1zM271 1148.5h1v86.8h-1zM306 1148.5h2v86.8h-2zM317 1148.5h2v86.8h-2zM341 1148.5h2v86.8h-2zM357 1148.5h2v86.8h-2zM370 1148.5h2v86.8h-2zM375 1148.5h4v86.8h-4zM381 1148.5h2v86.8h-2zM385 1148.5h2v86.8h-2zM484 1148.5h1v86.8h-1zM496 1148.5h1v86.8h-1zM510 1148.5h1v86.8h-1zM566 1148.5h2v86.8h-2zM607 1148.5h1v86.8h-1zM610 1148.5h3v86.8h-3zM670 1148.5h2v86.8h-2zM716 1148.5h2v86.8h-2zM740 1148.5h7v86.8h-7zM754 1148.5h1v86.8h-1zM765 1148.5h1v86.8h-1zM778 1148.5h1v86.8h-1zM781 1148.5h1v86.8h-1zM812 1148.5h1v86.8h-1zM823 1148.5h3v86.8h-3zM828 1148.5h1v86.8h-1zM836 1148.5h1v86.8h-1zM841 1148.5h5v86.8h-5zM866 1148.5h1v86.8h-1zM868 1148.5h2v86.8h-2zM914 1148.5h1v86.8h-1zM918 1148.5h3v86.8h-3zM922 1148.5h2v86.8h-2zM925 1148.5h1v86.8h-1zM961 1148.5h1v86.8h-1zM1068 1148.5h1v86.8h-1zM1073 1148.5h1v86.8h-1zM1092 1148.5h4v86.8h-4zM1132 1148.5h2v86.8h-2zM1154 1148.5h2v86.8h-2zM1164 1148.5h2v86.8h-2zM1182 1148.5h1v86.8h-1zM181 1245.8h2v86.9h-2zM191 1245.8h1v86.9h-1zM201 1245.8h2v86.9h-2zM206 1245.8h1v86.9h-1zM211 1245.8h1v86.9h-1zM213 1245.8h2v86.9h-2zM216 1245.8h2v86.9h-2zM230 1245.8h5v86.9h-5zM237 1245.8h3v86.9h-3zM241 1245.8h1v86.9h-1zM254 1245.8h2v86.9h-2zM273 1245.8h1v86.9h-1zM284 1245.8h1v86.9h-1zM286 1245.8h1v86.9h-1zM313 1245.8h3v86.9h-3zM318 1245.8h2v86.9h-2zM325 1245.8h2v86.9h-2zM335 1245.8h1v86.9h-1zM338 1245.8h1v86.9h-1zM428 1245.8h2v86.9h-2zM454 1245.8h3v86.9h-3zM472 1245.8h1v86.9h-1zM485 1245.8h1v86.9h-1zM507 1245.8h2v86.9h-2zM510 1245.8h1v86.9h-1zM513 1245.8h4v86.9h-4zM524 1245.8h1v86.9h-1zM560 1245.8h1v86.9h-1zM584 1245.8h1v86.9h-1zM592 1245.8h2v86.9h-2zM608 1245.8h1v86.9h-1zM644 1245.8h1.5v86.9h-1.5zM763 1245.8h2v86.9h-2zM769 1245.8h2v86.9h-2zM781 1245.8h1v86.9h-1zM787 1245.8h1v86.9h-1zM822 1245.8h1v86.9h-1zM825 1245.8h1v86.9h-1zM829 1245.8h2v86.9h-2zM853 1245.8h2v86.9h-2zM864 1245.8h2v86.9h-2zM867 1245.8h1v86.9h-1zM879 1245.8h2v86.9h-2zM922.6 1245.8h0.4v86.9h-0.4zM951 1245.8h3v86.9h-3zM1069 1245.8h1v86.9h-1zM1087 1245.8h2v86.9h-2zM1096 1245.8h3v86.9h-3zM1102 1245.8h2v86.9h-2zM1117 1245.8h1v86.9h-1zM1120 1245.8h1v86.9h-1zM1143 1245.8h2v86.9h-2zM1153 1245.8h1v86.9h-1zM1163 1245.8h1v86.9h-1zM1173 1245.8h2v86.9h-2zM190 1344.8h1v58.4h-1zM218 1344.8h2v58.4h-2zM230 1344.8h2v58.4h-2zM245 1344.8h1v58.4h-1zM262 1344.8h1v58.4h-1zM269 1344.8h2v58.4h-2zM282 1344.8h2v58.4h-2zM291 1344.8h5v58.4h-5zM303 1344.8h1v58.4h-1zM318 1344.8h1v58.4h-1zM322 1344.8h1v58.4h-1zM343 1344.8h2v58.4h-2zM422 1344.8h1v58.4h-1zM427 1344.8h1v58.4h-1zM441 1344.8h2v58.4h-2zM446 1344.8h4v58.4h-4zM467 1344.8h2v58.4h-2zM475 1344.8h2v58.4h-2zM512 1344.8h1v58.4h-1zM524 1344.8h1v58.4h-1zM569 1344.8h1v58.4h-1zM591 1344.8h3v58.4h-3zM609 1344.8h3v58.4h-3zM618 1344.8h1v58.4h-1zM628 1344.8h3v58.4h-3zM716 1344.8h1v58.4h-1zM741 1344.8h2v58.4h-2zM765 1344.8h1v58.4h-1zM782 1344.8h2v58.4h-2zM806 1344.8h3v58.4h-3zM812 1344.8h2v58.4h-2zM829 1344.8h2v58.4h-2zM834 1344.8h1v58.4h-1zM856 1344.8h1v58.4h-1zM907 1344.8h1v58.4h-1zM914 1344.8h1v58.4h-1zM934 1344.8h1v58.4h-1zM946 1344.8h1v58.4h-1zM951 1344.8h2v58.4h-2zM1104 1344.8h2v58.4h-2zM1117 1344.8h2v58.4h-2zM1131 1344.8h1v58.4h-1zM1134 1344.8h2v58.4h-2zM1145 1344.8h1v58.4h-1zM1148 1344.8h2v58.4h-2zM1163 1344.8h3v58.4h-3zM1167 1344.8h1v58.4h-1zM1178 1344.8h2v58.4h-2zM1183 1344.8h1v58.4h-1zM251 1414.2h2v86.8h-2zM266 1414.2h3v86.8h-3zM276 1414.2h1v86.8h-1zM283 1414.2h2v86.8h-2zM300 1414.2h1v86.8h-1zM327 1414.2h2v86.8h-2zM351 1414.2h2v86.8h-2zM358 1414.2h1v86.8h-1zM367 1414.2h2v86.8h-2zM380 1414.2h1v86.8h-1zM411 1414.2h3v86.8h-3zM433 1414.2h3v86.8h-3zM439 1414.2h1v86.8h-1zM460 1414.2h1v86.8h-1zM471 1414.2h2v86.8h-2zM478 1414.2h6v86.8h-6zM499 1414.2h2v86.8h-2zM503 1414.2h1v86.8h-1zM520 1414.2h1v86.8h-1zM527 1414.2h1v86.8h-1zM532 1414.2h2v86.8h-2zM544 1414.2h2.8v86.8h-2.8zM558.1 1414.2h0.9v86.8h-0.9zM581 1414.2h1v86.8h-1zM584 1414.2h3v86.8h-3zM588 1414.2h3v86.8h-3zM594 1414.2h1v86.8h-1zM596 1414.2h1v86.8h-1zM601 1414.2h1v86.8h-1zM605 1414.2h1v86.8h-1zM612 1414.2h2v86.8h-2zM617 1414.2h2v86.8h-2zM620 1414.2h1v86.8h-1zM705 1414.2h1v86.8h-1zM708 1414.2h2v86.8h-2zM715.7 1414.2h0.3v86.8h-0.3zM755 1414.2h3v86.8h-3zM775 1414.2h4v86.8h-4zM790 1414.2h1v86.8h-1zM833 1414.2h4v86.8h-4zM848 1414.2h1v86.8h-1zM851 1414.2h4v86.8h-4zM857 1414.2h2v86.8h-2zM862 1414.2h2v86.8h-2zM871 1414.2h3v86.8h-3zM1013 1414.2h1v86.8h-1zM1021 1414.2h2v86.8h-2zM1077 1414.2h2v86.8h-2zM1093 1414.2h2v86.8h-2zM1113 1414.2h2v86.8h-2zM1119 1414.2h2v86.8h-2zM1128 1414.2h1v86.8h-1zM1144 1414.2h1v86.8h-1zM1147 1414.2h1v86.8h-1zM1151 1414.2h1v86.8h-1zM1156 1414.2h2v86.8h-2zM1167 1414.2h1v86.8h-1zM1175 1414.2h2v86.8h-2zM1180 1414.2h2v86.8h-2z"/>
<path fill="#ffaaae" d="M186 615.1h2v29h-2zM189 615.1h3v29h-3zM209 615.1h2v29h-2zM218 615.1h3v29h-3zM239 615.1h3v29h-3zM248 615.1h1v29h-1zM253 615.1h3v29h-3zM274 615.1h2v29h-2zM284 615.1h2v29h-2zM291 615.1h1v29h-1zM335 615.1h2v29h-2zM360 615.1h2v29h-2zM363 615.1h1v29h-1zM400 615.1h3v29h-3zM404 615.1h1v29h-1zM413 615.1h3v29h-3zM429 615.1h2v29h-2zM438 615.1h3v29h-3zM483 615.1h1v29h-1zM494 615.1h2v29h-2zM523 615.1h1v29h-1zM525 615.1h4v29h-4zM532 615.1h3v29h-3zM536 615.1h1v29h-1zM565 615.1h1v29h-1zM591 615.1h1v29h-1zM594 615.1h2v29h-2zM734 615.1h4v29h-4zM761 615.1h2v29h-2zM772 615.1h2v29h-2zM822 615.1h3v29h-3zM844 615.1h2v29h-2zM851 615.1h2v29h-2zM854 615.1h1v29h-1zM909 615.1h2v29h-2zM914 615.1h3v29h-3zM921 615.1h2v29h-2zM932 615.1h2v29h-2zM935 615.1h1v29h-1zM947 615.1h1v29h-1zM1000 615.1h2v29h-2zM1013 615.1h3v29h-3zM1020 615.1h1v29h-1zM1109 615.1h2v29h-2zM1119 615.1h2v29h-2zM1131 615.1h2v29h-2zM1138 615.1h3v29h-3zM1142 615.1h3v29h-3zM201.8 656.5h0.2v86.6h-0.2zM204 656.5h1v86.6h-1zM207 656.5h3v86.6h-3zM234 656.5h2v86.6h-2zM246 656.5h3v86.6h-3zM262 656.5h2v86.6h-2zM268 656.5h2v86.6h-2zM290 656.5h1v86.6h-1zM292 656.5h1v86.6h-1zM298 656.5h3v86.6h-3zM305 656.5h1v86.6h-1zM323 656.5h1v86.6h-1zM329 656.5h2v86.6h-2zM342 656.5h1v86.6h-1zM344 656.5h1v86.6h-1zM351 656.5h1v86.6h-1zM353 656.5h3v86.6h-3zM383 656.5h1v86.6h-1zM385 656.5h3.3v86.6h-3.3zM437 656.5h1v86.6h-1zM456 656.5h2v86.6h-2zM467 656.5h1v86.6h-1zM536 656.5h2v86.6h-2zM568 656.5h2v86.6h-2zM635 656.5h5.6v86.6h-5.6zM670 656.5h2v86.6h-2zM689 656.5h1v86.6h-1zM708 656.5h1v86.6h-1zM723 656.5h1v86.6h-1zM739 656.5h1v86.6h-1zM767 656.5h1v86.6h-1zM776 656.5h1v86.6h-1zM784 656.5h2v86.6h-2zM821 656.5h1v86.6h-1zM824 656.5h2v86.6h-2zM844 656.5h1v86.6h-1zM849 656.5h2v86.6h-2zM879 656.5h1v86.6h-1zM926 656.5h1v86.6h-1zM957 656.5h1v86.6h-1zM975.2 656.5h1.8v86.6h-1.8zM981 656.5h2v86.6h-2zM987 656.5h3v86.6h-3zM998 656.5h3v86.6h-3zM1003 656.5h4v86.6h-4zM1013 656.5h6v86.6h-6zM1022 656.5h2v86.6h-2zM1025 656.5h1v86.6h-1zM1065 656.5h1v86.6h-1zM1086 656.5h1v86.6h-1zM1092 656.5h1v86.6h-1zM1095 656.5h1v86.6h-1zM1119 656.5h3v86.6h-3zM1142 656.5h1v86.6h-1zM1151 656.5h2v86.6h-2zM1173 656.5h1v86.6h-1zM1179 656.5h1v86.6h-1zM199 753.5h1v86.9h-1zM201 753.5h2v86.9h-2zM215 753.5h1v86.9h-1zM217 753.5h1v86.9h-1zM219 753.5h2v86.9h-2zM222 753.5h2v86.9h-2zM226 753.5h1v86.9h-1zM231 753.5h1v86.9h-1zM241 753.5h1v86.9h-1zM262 753.5h1v86.9h-1zM283 753.5h1v86.9h-1zM285 753.5h2v86.9h-2zM291 753.5h2v86.9h-2zM304 753.5h1v86.9h-1zM310 753.5h1v86.9h-1zM328 753.5h1v86.9h-1zM335 753.5h1v86.9h-1zM348 753.5h1v86.9h-1zM359 753.5h1v86.9h-1zM379 753.5h4v86.9h-4zM387 753.5h1.3v86.9h-1.3zM453.7 753.5h1.3v86.9h-1.3zM456 753.5h1v86.9h-1zM468 753.5h3v86.9h-3zM480 753.5h3v86.9h-3zM484 753.5h1v86.9h-1zM494 753.5h4v86.9h-4zM508 753.5h2v86.9h-2zM523 753.5h1v86.9h-1zM537 753.5h3v86.9h-3zM578 753.5h1v86.9h-1zM583 753.5h2v86.9h-2zM599 753.5h3v86.9h-3zM612 753.5h2v86.9h-2zM635 753.5h2v86.9h-2zM674 753.5h2.9v86.9h-2.9zM721 753.5h1v86.9h-1zM731 753.5h3v86.9h-3zM752 753.5h1v86.9h-1zM825 753.5h2v86.9h-2zM928 753.5h2v86.9h-2zM932 753.5h2v86.9h-2zM952 753.5h1v86.9h-1zM960 753.5h3.8v86.9h-3.8zM1013 753.5h2v86.9h-2zM1024 753.5h1v86.9h-1zM1096 753.5h1v86.9h-1zM1111 753.5h1v86.9h-1zM1116 753.5h2v86.9h-2zM1124 753.5h3v86.9h-3zM1137 753.5h2v86.9h-2zM1146 753.5h1v86.9h-1zM1157 753.5h1v86.9h-1zM1171 753.5h3v86.9h-3zM1179 753.5h3.4v86.9h-3.4zM179.3 851.2h0.7v86.8h-0.7zM206 851.2h2v86.8h-2zM228 851.2h2v86.8h-2zM238 851.2h1v86.8h-1zM243 851.2h2v86.8h-2zM247 851.2h1v86.8h-1zM252 851.2h1v86.8h-1zM258 851.2h2v86.8h-2zM274 851.2h3v86.8h-3zM280 851.2h3v86.8h-3zM342 851.2h1v86.8h-1zM356 851.2h1v86.8h-1zM359 851.2h1v86.8h-1zM371 851.2h1v86.8h-1zM380 851.2h2v86.8h-2zM431 851.2h1v86.8h-1zM439 851.2h3v86.8h-3zM469 851.2h1v86.8h-1zM481 851.2h2v86.8h-2zM485 851.2h1v86.8h-1zM489 851.2h1v86.8h-1zM499 851.2h2v86.8h-2zM502 851.2h3v86.8h-3zM511 851.2h3v86.8h-3zM516 851.2h6v86.8h-6zM525 851.2h1v86.8h-1zM530 851.2h3v86.8h-3zM534 851.2h1v86.8h-1zM538 851.2h5v86.8h-5zM569 851.2h3v86.8h-3zM577 851.2h1v86.8h-1zM579 851.2h2v86.8h-2zM588 851.2h1v86.8h-1zM595 851.2h2v86.8h-2zM602 851.2h1v86.8h-1zM613 851.2h2v86.8h-2zM618 851.2h3v86.8h-3zM623 851.2h2v86.8h-2zM631 851.2h1v86.8h-1zM634 851.2h1v86.8h-1zM645 851.2h2v86.8h-2zM709 851.2h2v86.8h-2zM713 851.2h1v86.8h-1zM732 851.2h1v86.8h-1zM747 851.2h2v86.8h-2zM755 851.2h2v86.8h-2zM774 851.2h1v86.8h-1zM776 851.2h3v86.8h-3zM780 851.2h2v86.8h-2zM927.5 851.2h2.5v86.8h-2.5zM931 851.2h3v86.8h-3zM935 851.2h2v86.8h-2zM948 851.2h3v86.8h-3zM956 851.2h1v86.8h-1zM960 851.2h1v86.8h-1zM1007 851.2h1v86.8h-1zM1014 851.2h2v86.8h-2zM1017 851.2h1v86.8h-1zM1024 851.2h3v86.8h-3zM1035 851.2h2.4v86.8h-2.4zM1070 851.2h2v86.8h-2zM1088 851.2h2v86.8h-2zM1091 851.2h1v86.8h-1zM1098 851.2h1v86.8h-1zM1115 851.2h4v86.8h-4zM1150 851.2h1v86.8h-1zM1173 851.2h1v86.8h-1zM220 948.5h3v86.9h-3zM225 948.5h1v86.9h-1zM261 948.5h2v86.9h-2zM267 948.5h1v86.9h-1zM273 948.5h4v86.9h-4zM401 948.5h2v86.9h-2zM416 948.5h2v86.9h-2zM425 948.5h1v86.9h-1zM427 948.5h1v86.9h-1zM430 948.5h1v86.9h-1zM437 948.5h2v86.9h-2zM459 948.5h1v86.9h-1zM463 948.5h3v86.9h-3zM469 948.5h1v86.9h-1zM485 948.5h3v86.9h-3zM499 948.5h3v86.9h-3zM508 948.5h5v86.9h-5zM524 948.5h1v86.9h-1zM536 948.5h2v86.9h-2zM571 948.5h4v86.9h-4zM576 948.5h1v86.9h-1zM593 948.5h1v86.9h-1zM595 948.5h2v86.9h-2zM619 948.5h1v86.9h-1zM628 948.5h4v86.9h-4zM702 948.5h2v86.9h-2zM715 948.5h2v86.9h-2zM720 948.5h1v86.9h-1zM732 948.5h1v86.9h-1zM805.2 948.5h1.8v86.9h-1.8zM834 948.5h1v86.9h-1zM898.5 948.5h0.5v86.9h-0.5zM907 948.5h1v86.9h-1zM910 948.5h1v86.9h-1zM943 948.5h2v86.9h-2zM946 948.5h1v86.9h-1zM949 948.5h2v86.9h-2zM953 948.5h1v86.9h-1zM959 948.5h3v86.9h-3zM992 948.5h2v86.9h-2zM1010 948.5h1v86.9h-1zM1063.7 948.5h0.3v86.9h-0.3zM1066 948.5h1v86.9h-1zM1075 948.5h1v86.9h-1zM1090 948.5h3v86.9h-3zM1110 948.5h3v86.9h-3zM1126 948.5h1v86.9h-1zM1134 948.5h1v86.9h-1zM1138 948.5h3v86.9h-3zM1147 948.5h2v86.9h-2zM1151 948.5h2v86.9h-2zM182 1047.5h1v86.9h-1zM203 1047.5h3v86.9h-3zM208 1047.5h3v86.9h-3zM215 1047.5h2v86.9h-2zM233 1047.5h1v86.9h-1zM241 1047.5h2v86.9h-2zM250 1047.5h2v86.9h-2zM263 1047.5h3v86.9h-3zM281 1047.5h2v86.9h-2zM290 1047.5h1v86.9h-1zM306 1047.5h2v86.9h-2zM311 1047.5h1v86.9h-1zM323 1047.5h2v86.9h-2zM331 1047.5h1v86.9h-1zM365 1047.5h1v86.9h-1zM384 1047.5h4.3v86.9h-4.3zM415 1047.5h1v86.9h-1zM420 1047.5h2v86.9h-2zM425 1047.5h1v86.9h-1zM435 1047.5h2v86.9h-2zM450 1047.5h1v86.9h-1zM510 1047.5h1v86.9h-1zM514 1047.5h3v86.9h-3zM544 1047.5h2.8v86.9h-2.8zM567 1047.5h1v86.9h-1zM570 1047.5h1v86.9h-1zM572 1047.5h1v86.9h-1zM581 1047.5h2v86.9h-2zM590 1047.5h1v86.9h-1zM693 1047.5h4v86.9h-4zM711 1047.5h2v86.9h-2zM719 1047.5h1v86.9h-1zM728 1047.5h2v86.9h-2zM731 1047.5h1v86.9h-1zM734 1047.5h3v86.9h-3zM740 1047.5h2v86.9h-2zM751 1047.5h6v86.9h-6zM780.3 1047.5h2.7v86.9h-2.7zM846 1047.5h1v86.9h-1zM871 1047.5h2v86.9h-2zM880 1047.5h2v86.9h-2zM941 1047.5h1v86.9h-1zM954 1047.5h1v86.9h-1zM988 1047.5h3v86.9h-3zM998 1047.5h2v86.9h-2zM1026 1047.5h1v86.9h-1zM1032 1047.5h2v86.9h-2zM1063.7 1047.5h1.3v86.9h-1.3zM1067 1047.5h3v86.9h-3zM1071 1047.5h2v86.9h-2zM1081 1047.5h1v86.9h-1zM1093 1047.5h1v86.9h-1zM1120 1047.5h2v86.9h-2zM1127 1047.5h1v86.9h-1zM1130 1047.5h1v86.9h-1zM1167 1047.5h1v86.9h-1zM1176 1047.5h1v86.9h-1zM236 1148.5h3v86.8h-3zM253 1148.5h2v86.8h-2zM263 1148.5h1v86.8h-1zM265 1148.5h3v86.8h-3zM289 1148.5h1v86.8h-1zM291 1148.5h1v86.8h-1zM293 1148.5h2v86.8h-2zM308 1148.5h3v86.8h-3zM319 1148.5h1v86.8h-1zM324 1148.5h2v86.8h-2zM332 1148.5h3v86.8h-3zM339 1148.5h1v86.8h-1zM345 1148.5h2v86.8h-2zM350 1148.5h1v86.8h-1zM367 1148.5h1v86.8h-1zM469 1148.5h3v86.8h-3zM489 1148.5h1v86.8h-1zM505 1148.5h3v86.8h-3zM511 1148.5h2v86.8h-2zM541 1148.5h2v86.8h-2zM590 1148.5h2v86.8h-2zM596 1148.5h2v86.8h-2zM621 1148.5h1v86.8h-1zM625 1148.5h2v86.8h-2zM638 1148.5h3v86.8h-3zM667 1148.5h3v86.8h-3zM702 1148.5h1v86.8h-1zM712 1148.5h1v86.8h-1zM723 1148.5h1v86.8h-1zM730 1148.5h3v86.8h-3zM750 1148.5h3v86.8h-3zM761 1148.5h1v86.8h-1zM766 1148.5h2v86.8h-2zM775 1148.5h1v86.8h-1zM789 1148.5h2v86.8h-2zM817 1148.5h1v86.8h-1zM827 1148.5h1v86.8h-1zM833 1148.5h1v86.8h-1zM876 1148.5h2v86.8h-2zM904.3 1148.5h1.7v86.8h-1.7zM911 1148.5h3v86.8h-3zM934 1148.5h4v86.8h-4zM951 1148.5h1v86.8h-1zM962 1148.5h1.8v86.8h-1.8zM976 1148.5h1v86.8h-1zM981 1148.5h1v86.8h-1zM983 1148.5h2v86.8h-2zM988 1148.5h1v86.8h-1zM993 1148.5h2v86.8h-2zM1102 1148.5h2v86.8h-2zM1114 1148.5h2v86.8h-2zM1121 1148.5h3v86.8h-3zM1126 1148.5h1v86.8h-1zM1151 1148.5h3v86.8h-3zM1168 1148.5h1v86.8h-1zM198 1245.8h3v86.9h-3zM210 1245.8h1v86.9h-1zM218 1245.8h2v86.9h-2zM224 1245.8h1v86.9h-1zM248 1245.8h2v86.9h-2zM261 1245.8h2v86.9h-2zM275 1245.8h1v86.9h-1zM331 1245.8h1v86.9h-1zM334 1245.8h1v86.9h-1zM342 1245.8h1v86.9h-1zM344 1245.8h3v86.9h-3zM363 1245.8h2v86.9h-2zM366 1245.8h2v86.9h-2zM369 1245.8h3v86.9h-3zM384 1245.8h1v86.9h-1zM418 1245.8h2v86.9h-2zM430 1245.8h1v86.9h-1zM435 1245.8h2v86.9h-2zM443 1245.8h2v86.9h-2zM448 1245.8h3v86.9h-3zM465 1245.8h1v86.9h-1zM486 1245.8h2v86.9h-2zM523 1245.8h1v86.9h-1zM581 1245.8h3v86.9h-3zM589 1245.8h3v86.9h-3zM601 1245.8h1v86.9h-1zM627 1245.8h4v86.9h-4zM670 1245.8h2v86.9h-2zM758 1245.8h2v86.9h-2zM768 1245.8h1v86.9h-1zM775 1245.8h2v86.9h-2zM792 1245.8h1.4v86.9h-1.4zM823 1245.8h2v86.9h-2zM832 1245.8h2v86.9h-2zM842 1245.8h1v86.9h-1zM845 1245.8h2v86.9h-2zM855 1245.8h1v86.9h-1zM877 1245.8h1v86.9h-1zM923 1245.8h3v86.9h-3zM931 1245.8h2v86.9h-2zM1106 1245.8h2v86.9h-2zM1118 1245.8h2v86.9h-2zM1121 1245.8h1v86.9h-1zM1152 1245.8h1v86.9h-1zM1158 1245.8h1v86.9h-1zM1172 1245.8h1v86.9h-1zM1176 1245.8h2v86.9h-2zM1184 1245.8h2v86.9h-2zM181 1344.8h2v58.4h-2zM188 1344.8h2v58.4h-2zM221 1344.8h2v58.4h-2zM229 1344.8h1v58.4h-1zM237 1344.8h2v58.4h-2zM248 1344.8h3v58.4h-3zM256 1344.8h1v58.4h-1zM263 1344.8h1v58.4h-1zM265 1344.8h2v58.4h-2zM289 1344.8h2v58.4h-2zM300 1344.8h2v58.4h-2zM319 1344.8h1v58.4h-1zM327 1344.8h2v58.4h-2zM337 1344.8h2v58.4h-2zM345 1344.8h1v58.4h-1zM419 1344.8h1v58.4h-1zM440 1344.8h1v58.4h-1zM454 1344.8h1v58.4h-1zM462 1344.8h1v58.4h-1zM484 1344.8h2v58.4h-2zM489 1344.8h2v58.4h-2zM495 1344.8h1v58.4h-1zM509 1344.8h2v58.4h-2zM516 1344.8h1v58.4h-1zM518 1344.8h3v58.4h-3zM568 1344.8h1v58.4h-1zM577 1344.8h2v58.4h-2zM599 1344.8h3v58.4h-3zM604 1344.8h2v58.4h-2zM632 1344.8h1v58.4h-1zM724 1344.8h2v58.4h-2zM746 1344.8h1v58.4h-1zM755 1344.8h1v58.4h-1zM772 1344.8h2v58.4h-2zM775 1344.8h2v58.4h-2zM819 1344.8h2v58.4h-2zM824 1344.8h1v58.4h-1zM828 1344.8h1v58.4h-1zM906.2 1344.8h0.8v58.4h-0.8zM913 1344.8h1v58.4h-1zM920 1344.8h3v58.4h-3zM925 1344.8h2v58.4h-2zM933 1344.8h1v58.4h-1zM942 1344.8h3v58.4h-3zM949 1344.8h2v58.4h-2zM956 1344.8h2v58.4h-2zM989 1344.8h1v58.4h-1zM1112 1344.8h1v58.4h-1zM1141 1344.8h1v58.4h-1zM1150 1344.8h2v58.4h-2zM1181 1344.8h2v58.4h-2zM1186 1344.8h1.8v58.4h-1.8zM245 1414.2h1v86.8h-1zM254 1414.2h1v86.8h-1zM271 1414.2h1v86.8h-1zM275 1414.2h1v86.8h-1zM281 1414.2h2v86.8h-2zM285 1414.2h2v86.8h-2zM294 1414.2h1v86.8h-1zM296 1414.2h1v86.8h-1zM299 1414.2h1v86.8h-1zM304 1414.2h2v86.8h-2zM309 1414.2h2v86.8h-2zM337 1414.2h2v86.8h-2zM340 1414.2h1v86.8h-1zM349 1414.2h2v86.8h-2zM363 1414.2h4v86.8h-4zM378 1414.2h2v86.8h-2zM419 1414.2h1v86.8h-1zM442 1414.2h2v86.8h-2zM455 1414.2h1v86.8h-1zM523 1414.2h1v86.8h-1zM562 1414.2h3v86.8h-3zM614 1414.2h3v86.8h-3zM636 1414.2h4v86.8h-4zM700 1414.2h1v86.8h-1zM734 1414.2h3v86.8h-3zM763 1414.2h1v86.8h-1zM766 1414.2h1v86.8h-1zM788 1414.2h2v86.8h-2zM809 1414.2h2v86.8h-2zM814 1414.2h1v86.8h-1zM818 1414.2h2v86.8h-2zM822 1414.2h2v86.8h-2zM827 1414.2h1v86.8h-1zM845 1414.2h3v86.8h-3zM850 1414.2h1v86.8h-1zM867 1414.2h3v86.8h-3zM950 1414.2h7v86.8h-7zM1006 1414.2h5v86.8h-5zM1015 1414.2h3v86.8h-3zM1031 1414.2h2v86.8h-2zM1063.7 1414.2h0.3v86.8h-0.3zM1066 1414.2h3v86.8h-3zM1084 1414.2h3v86.8h-3zM1102 1414.2h1v86.8h-1zM1125 1414.2h1v86.8h-1zM1140 1414.2h1v86.8h-1zM1148 1414.2h1v86.8h-1zM1152 1414.2h2v86.8h-2zM1163 1414.2h2v86.8h-2zM1186 1414.2h1.8v86.8h-1.8z"/>
<path fill="#ff7272" d="M201 615.1h1v29h-1zM207 615.1h1v29h-1zM217 615.1h1v29h-1zM230 615.1h1v29h-1zM256 615.1h1v29h-1zM277 615.1h2v29h-2zM292 615.1h1v29h-1zM296 615.1h2v29h-2zM304 615.1h1v29h-1zM311 615.1h2v29h-2zM350 615.1h4v29h-4zM405 615.1h1v29h-1zM411 615.1h2v29h-2zM441 615.1h1v29h-1zM445 615.1h1v29h-1zM465 615.1h2v29h-2zM474 615.1h1v29h-1zM476 615.1h1v29h-1zM484 615.1h1v29h-1zM505 615.1h1v29h-1zM520 615.1h2v29h-2zM567 615.1h3v29h-3zM572 615.1h1v29h-1zM596 615.1h3v29h-3zM601 615.1h1v29h-1zM615 615.1h2.5v29h-2.5zM704 615.1h4v29h-4zM712 615.1h1v29h-1zM722 615.1h3v29h-3zM733 615.1h1v29h-1zM786 615.1h1v29h-1zM837 615.1h2v29h-2zM846 615.1h2v29h-2zM856 615.1h1v29h-1zM879 615.1h1v29h-1zM897 615.1h6v29h-6zM906 615.1h1v29h-1zM923 615.1h3v29h-3zM936 615.1h1v29h-1zM945 615.1h1v29h-1zM948 615.1h2v29h-2zM999 615.1h1v29h-1zM1156 615.1h3v29h-3zM1170 615.1h3v29h-3zM1178 615.1h1v29h-1zM206 656.5h1v86.6h-1zM215 656.5h2v86.6h-2zM236 656.5h1v86.6h-1zM240 656.5h3v86.6h-3zM259 656.5h1v86.6h-1zM261 656.5h1v86.6h-1zM267 656.5h1v86.6h-1zM276 656.5h1v86.6h-1zM301 656.5h1v86.6h-1zM308 656.5h1v86.6h-1zM311 656.5h2v86.6h-2zM340 656.5h2v86.6h-2zM367 656.5h1v86.6h-1zM400 656.5h1v86.6h-1zM424 656.5h1v86.6h-1zM431 656.5h1v86.6h-1zM440 656.5h1v86.6h-1zM443 656.5h1v86.6h-1zM453 656.5h2v86.6h-2zM468 656.5h3v86.6h-3zM489 656.5h1v86.6h-1zM498 656.5h1v86.6h-1zM519 656.5h2v86.6h-2zM527 656.5h1v86.6h-1zM541 656.5h1.5v86.6h-1.5zM558.1 656.5h0.9v86.6h-0.9zM565 656.5h1v86.6h-1zM580 656.5h4v86.6h-4zM606 656.5h1v86.6h-1zM609 656.5h2v86.6h-2zM629 656.5h1v86.6h-1zM666 656.5h1v86.6h-1zM706 656.5h2v86.6h-2zM731 656.5h2v86.6h-2zM735 656.5h1v86.6h-1zM738 656.5h1v86.6h-1zM740 656.5h3v86.6h-3zM748 656.5h1v86.6h-1zM774 656.5h2v86.6h-2zM781 656.5h3v86.6h-3zM807 656.5h1v86.6h-1zM809 656.5h2v86.6h-2zM822 656.5h2v86.6h-2zM833 656.5h2v86.6h-2zM843 656.5h1v86.6h-1zM855 656.5h3v86.6h-3zM860 656.5h1v86.6h-1zM874 656.5h1v86.6h-1zM880 656.5h1v86.6h-1zM922 656.5h4v86.6h-4zM933 656.5h2v86.6h-2zM936 656.5h3v86.6h-3zM941 656.5h2v86.6h-2zM945 656.5h1v86.6h-1zM949 656.5h2v86.6h-2zM953 656.5h2v86.6h-2zM959 656.5h1v86.6h-1zM978 656.5h1v86.6h-1zM1011 656.5h1v86.6h-1zM1075 656.5h2v86.6h-2zM1083 656.5h1v86.6h-1zM1090 656.5h2v86.6h-2zM1115 656.5h3v86.6h-3zM1126 656.5h2v86.6h-2zM1160 656.5h1v86.6h-1zM1164 656.5h3v86.6h-3zM179.3 753.5h1.7v86.9h-1.7zM200 753.5h1v86.9h-1zM205 753.5h3v86.9h-3zM209 753.5h1v86.9h-1zM234 753.5h1v86.9h-1zM242 753.5h2v86.9h-2zM263 753.5h1v86.9h-1zM282 753.5h1v86.9h-1zM284 753.5h1v86.9h-1zM295 753.5h1v86.9h-1zM305 753.5h3v86.9h-3zM309 753.5h1v86.9h-1zM312 753.5h2v86.9h-2zM329 753.5h3v86.9h-3zM343 753.5h1v86.9h-1zM350 753.5h3v86.9h-3zM355 753.5h1v86.9h-1zM371 753.5h4v86.9h-4zM457 753.5h1v86.9h-1zM472 753.5h2v86.9h-2zM540 753.5h2v86.9h-2zM561 753.5h2v86.9h-2zM567 753.5h1v86.9h-1zM575 753.5h2v86.9h-2zM586 753.5h1v86.9h-1zM589 753.5h2v86.9h-2zM604 753.5h1v86.9h-1zM611 753.5h1v86.9h-1zM626 753.5h1v86.9h-1zM660 753.5h1v86.9h-1zM705 753.5h1v86.9h-1zM729 753.5h2v86.9h-2zM747 753.5h2v86.9h-2zM760 753.5h2v86.9h-2zM763 753.5h2v86.9h-2zM833 753.5h2.5v86.9h-2.5zM895.2 753.5h1.8v86.9h-1.8zM900 753.5h1v86.9h-1zM908 753.5h1v86.9h-1zM926.5 753.5h1.5v86.9h-1.5zM945 753.5h7v86.9h-7zM953 753.5h2v86.9h-2zM1101 753.5h1v86.9h-1zM1103 753.5h1v86.9h-1zM1106 753.5h2v86.9h-2zM1121 753.5h1v86.9h-1zM1135 753.5h2v86.9h-2zM1142 753.5h4v86.9h-4zM1154 753.5h3v86.9h-3zM1175 753.5h1v86.9h-1zM1177 753.5h1v86.9h-1zM183 851.2h5v86.8h-5zM190 851.2h2v86.8h-2zM201 851.2h1v86.8h-1zM230 851.2h2v86.8h-2zM245 851.2h2v86.8h-2zM251 851.2h1v86.8h-1zM253 851.2h1v86.8h-1zM257 851.2h1v86.8h-1zM263 851.2h2v86.8h-2zM293 851.2h1v86.8h-1zM302 851.2h2v86.8h-2zM314 851.2h3v86.8h-3zM321 851.2h1v86.8h-1zM330 851.2h1v86.8h-1zM338 851.2h1v86.8h-1zM343 851.2h1v86.8h-1zM349 851.2h2v86.8h-2zM365 851.2h2v86.8h-2zM370 851.2h1v86.8h-1zM384 851.2h1v86.8h-1zM402 851.2h1v86.8h-1zM406 851.2h2v86.8h-2zM409 851.2h1v86.8h-1zM414 851.2h2v86.8h-2zM424 851.2h3v86.8h-3zM438 851.2h1v86.8h-1zM458 851.2h2v86.8h-2zM461 851.2h1v86.8h-1zM480 851.2h1v86.8h-1zM501 851.2h1v86.8h-1zM505 851.2h3v86.8h-3zM536 851.2h2v86.8h-2zM545 851.2h1.8v86.8h-1.8zM582 851.2h4v86.8h-4zM599 851.2h1v86.8h-1zM638 851.2h1v86.8h-1zM643 851.2h2v86.8h-2zM689 851.2h2v86.8h-2zM714 851.2h1v86.8h-1zM730 851.2h2v86.8h-2zM741 851.2h4v86.8h-4zM770 851.2h2v86.8h-2zM775 851.2h1v86.8h-1zM786 851.2h3v86.8h-3zM951 851.2h1v86.8h-1zM954 851.2h1v86.8h-1zM984 851.2h1v86.8h-1zM993 851.2h4v86.8h-4zM1013 851.2h1v86.8h-1zM1019 851.2h1v86.8h-1zM1030 851.2h2v86.8h-2zM1075 851.2h2v86.8h-2zM1104 851.2h3v86.8h-3zM1135 851.2h1v86.8h-1zM1147 851.2h2v86.8h-2zM1170 851.2h1v86.8h-1zM223 948.5h2v86.9h-2zM230 948.5h1v86.9h-1zM236 948.5h1v86.9h-1zM238 948.5h1v86.9h-1zM243 948.5h3v86.9h-3zM253 948.5h3v86.9h-3zM260 948.5h1v86.9h-1zM272 948.5h1v86.9h-1zM407 948.5h2v86.9h-2zM426 948.5h1v86.9h-1zM428 948.5h2v86.9h-2zM434 948.5h3v86.9h-3zM454 948.5h3v86.9h-3zM460 948.5h1v86.9h-1zM468 948.5h1v86.9h-1zM478 948.5h3v86.9h-3zM483 948.5h2v86.9h-2zM495 948.5h1v86.9h-1zM505 948.5h2v86.9h-2zM516 948.5h1v86.9h-1zM523 948.5h1v86.9h-1zM535 948.5h1v86.9h-1zM579 948.5h3v86.9h-3zM583 948.5h1v86.9h-1zM605 948.5h1v86.9h-1zM632 948.5h2v86.9h-2zM636 948.5h2v86.9h-2zM639 948.5h1v86.9h-1zM673 948.5h3.9v86.9h-3.9zM718 948.5h2v86.9h-2zM724 948.5h4v86.9h-4zM731 948.5h1v86.9h-1zM734 948.5h3v86.9h-3zM739 948.5h5v86.9h-5zM823 948.5h1v86.9h-1zM914 948.5h1v86.9h-1zM918 948.5h3v86.9h-3zM937 948.5h2v86.9h-2zM941 948.5h2v86.9h-2zM955 948.5h2v86.9h-2zM981 948.5h2v86.9h-2zM1005 948.5h1v86.9h-1zM1008 948.5h1v86.9h-1zM1015 948.5h2v86.9h-2zM1078 948.5h1v86.9h-1zM1083 948.5h3v86.9h-3zM1093 948.5h3v86.9h-3zM1098 948.5h2v86.9h-2zM1101 948.5h1v86.9h-1zM1108 948.5h1v86.9h-1zM1153 948.5h7v86.9h-7zM1171 948.5h3v86.9h-3zM187 1047.5h1v86.9h-1zM190 1047.5h1v86.9h-1zM198 1047.5h1v86.9h-1zM245 1047.5h2v86.9h-2zM254 1047.5h2v86.9h-2zM259 1047.5h4v86.9h-4zM268 1047.5h2v86.9h-2zM275 1047.5h2v86.9h-2zM303 1047.5h1v86.9h-1zM333 1047.5h2v86.9h-2zM346 1047.5h3v86.9h-3zM352 1047.5h1v86.9h-1zM357 1047.5h1v86.9h-1zM360 1047.5h5v86.9h-5zM366 1047.5h3v86.9h-3zM380 1047.5h1v86.9h-1zM407 1047.5h8v86.9h-8zM419 1047.5h1v86.9h-1zM422 1047.5h1v86.9h-1zM452 1047.5h1v86.9h-1zM458 1047.5h1v86.9h-1zM460 1047.5h2v86.9h-2zM491 1047.5h2v86.9h-2zM503 1047.5h1v86.9h-1zM513 1047.5h1v86.9h-1zM520 1047.5h2v86.9h-2zM533 1047.5h6v86.9h-6zM612 1047.5h1v86.9h-1zM624 1047.5h2v86.9h-2zM629 1047.5h1v86.9h-1zM692 1047.5h1v86.9h-1zM697 1047.5h7v86.9h-7zM722 1047.5h1v86.9h-1zM732 1047.5h1v86.9h-1zM742 1047.5h3v86.9h-3zM746 1047.5h2v86.9h-2zM763 1047.5h2v86.9h-2zM840 1047.5h1v86.9h-1zM876 1047.5h1v86.9h-1zM899 1047.5h3v86.9h-3zM905 1047.5h2v86.9h-2zM955 1047.5h2v86.9h-2zM959 1047.5h2v86.9h-2zM978 1047.5h2v86.9h-2zM986 1047.5h1v86.9h-1zM991 1047.5h1v86.9h-1zM996 1047.5h2v86.9h-2zM1015 1047.5h3v86.9h-3zM1023 1047.5h2v86.9h-2zM1030 1047.5h2v86.9h-2zM1078 1047.5h1v86.9h-1zM1088 1047.5h1v86.9h-1zM1098 1047.5h2v86.9h-2zM1101 1047.5h2v86.9h-2zM1115 1047.5h2v86.9h-2zM1131 1047.5h1v86.9h-1zM1144 1047.5h2v86.9h-2zM1156 1047.5h2v86.9h-2zM1159 1047.5h2v86.9h-2zM1178 1047.5h1v86.9h-1zM1185 1047.5h1v86.9h-1zM261 1148.5h1v86.8h-1zM264 1148.5h1v86.8h-1zM275 1148.5h1v86.8h-1zM284 1148.5h1v86.8h-1zM303 1148.5h2v86.8h-2zM311 1148.5h2v86.8h-2zM314 1148.5h1v86.8h-1zM328 1148.5h2v86.8h-2zM365 1148.5h1v86.8h-1zM467 1148.5h2v86.8h-2zM472 1148.5h1v86.8h-1zM500 1148.5h1v86.8h-1zM513 1148.5h2v86.8h-2zM537 1148.5h4v86.8h-4zM572 1148.5h2v86.8h-2zM582 1148.5h1v86.8h-1zM584 1148.5h2v86.8h-2zM604 1148.5h1v86.8h-1zM617 1148.5h1v86.8h-1zM641 1148.5h3v86.8h-3zM647 1148.5h1v86.8h-1zM650 1148.5h1v86.8h-1zM653 1148.5h1v86.8h-1zM674 1148.5h2.9v86.8h-2.9zM694 1148.5h4v86.8h-4zM709 1148.5h2v86.8h-2zM719 1148.5h1v86.8h-1zM725 1148.5h1v86.8h-1zM734 1148.5h3v86.8h-3zM748 1148.5h2v86.8h-2zM755 1148.5h2v86.8h-2zM773 1148.5h1v86.8h-1zM788 1148.5h1v86.8h-1zM792 1148.5h1.4v86.8h-1.4zM837 1148.5h1v86.8h-1zM852 1148.5h2v86.8h-2zM873 1148.5h3v86.8h-3zM882 1148.5h1.8v86.8h-1.8zM945 1148.5h4v86.8h-4zM954 1148.5h1v86.8h-1zM1074 1148.5h2v86.8h-2zM1084 1148.5h3v86.8h-3zM1109 1148.5h2v86.8h-2zM1125 1148.5h1v86.8h-1zM1145 1148.5h1v86.8h-1zM1149 1148.5h2v86.8h-2zM1163 1148.5h1v86.8h-1zM1171 1148.5h2v86.8h-2zM1179 1148.5h1v86.8h-1zM1183 1148.5h3v86.8h-3zM203 1245.8h1v86.9h-1zM220 1245.8h1v86.9h-1zM228 1245.8h2v86.9h-2zM266 1245.8h2v86.9h-2zM271 1245.8h1v86.9h-1zM281 1245.8h3v86.9h-3zM293 1245.8h3v86.9h-3zM299 1245.8h1v86.9h-1zM355 1245.8h1v86.9h-1zM357 1245.8h3v86.9h-3zM361 1245.8h2v86.9h-2zM375 1245.8h1v86.9h-1zM407 1245.8h1v86.9h-1zM431 1245.8h4v86.9h-4zM437 1245.8h3v86.9h-3zM451 1245.8h3v86.9h-3zM462 1245.8h1v86.9h-1zM489 1245.8h3v86.9h-3zM494 1245.8h1v86.9h-1zM503 1245.8h2v86.9h-2zM569 1245.8h2v86.9h-2zM577 1245.8h1v86.9h-1zM588 1245.8h1v86.9h-1zM595 1245.8h1v86.9h-1zM607 1245.8h1v86.9h-1zM642 1245.8h1v86.9h-1zM665 1245.8h3v86.9h-3zM751.4 1245.8h1.6v86.9h-1.6zM779 1245.8h2v86.9h-2zM785 1245.8h2v86.9h-2zM791 1245.8h1v86.9h-1zM826 1245.8h1v86.9h-1zM831 1245.8h1v86.9h-1zM834 1245.8h1v86.9h-1zM856 1245.8h2v86.9h-2zM926 1245.8h1v86.9h-1zM938 1245.8h3v86.9h-3zM942 1245.8h2v86.9h-2zM950 1245.8h1v86.9h-1zM956 1245.8h2v86.9h-2zM961 1245.8h2.8v86.9h-2.8zM1065 1245.8h2v86.9h-2zM1071 1245.8h2v86.9h-2zM1081 1245.8h2v86.9h-2zM1086 1245.8h1v86.9h-1zM1113 1245.8h2v86.9h-2zM1125 1245.8h3v86.9h-3zM1135 1245.8h2v86.9h-2zM1142 1245.8h1v86.9h-1zM1168 1245.8h3v86.9h-3zM1183 1245.8h1v86.9h-1zM208 1344.8h2v58.4h-2zM220 1344.8h1v58.4h-1zM223 1344.8h2v58.4h-2zM227 1344.8h1v58.4h-1zM235 1344.8h2v58.4h-2zM243 1344.8h1v58.4h-1zM275 1344.8h2v58.4h-2zM279 1344.8h3v58.4h-3zM314 1344.8h2v58.4h-2zM342 1344.8h1v58.4h-1zM420 1344.8h2v58.4h-2zM424 1344.8h3v58.4h-3zM463 1344.8h2v58.4h-2zM471 1344.8h1v58.4h-1zM474 1344.8h1v58.4h-1zM487 1344.8h1v58.4h-1zM492 1344.8h3v58.4h-3zM503 1344.8h2v58.4h-2zM560 1344.8h1v58.4h-1zM570 1344.8h2v58.4h-2zM575 1344.8h2v58.4h-2zM594 1344.8h1v58.4h-1zM606 1344.8h1v58.4h-1zM615 1344.8h1v58.4h-1zM626 1344.8h2v58.4h-2zM715.7 1344.8h0.3v58.4h-0.3zM731 1344.8h1v58.4h-1zM740 1344.8h1v58.4h-1zM743 1344.8h2v58.4h-2zM748 1344.8h1v58.4h-1zM750 1344.8h2v58.4h-2zM760 1344.8h2v58.4h-2zM780 1344.8h1v58.4h-1zM786 1344.8h3v58.4h-3zM831 1344.8h3v58.4h-3zM840 1344.8h4v58.4h-4zM847 1344.8h2v58.4h-2zM850 1344.8h2v58.4h-2zM858 1344.8h2v58.4h-2zM871 1344.8h1v58.4h-1zM880 1344.8h1v58.4h-1zM912 1344.8h1v58.4h-1zM916 1344.8h4v58.4h-4zM923 1344.8h1v58.4h-1zM931 1344.8h2v58.4h-2zM939 1344.8h1v58.4h-1zM945 1344.8h1v58.4h-1zM987 1344.8h2v58.4h-2zM991 1344.8h3v58.4h-3zM1108 1344.8h2v58.4h-2zM1113 1344.8h3v58.4h-3zM1121 1344.8h1v58.4h-1zM1127 1344.8h1v58.4h-1zM1138 1344.8h3v58.4h-3zM1173 1344.8h1v58.4h-1zM1180 1344.8h1v58.4h-1zM244.3 1414.2h0.7v86.8h-0.7zM253 1414.2h1v86.8h-1zM260 1414.2h1v86.8h-1zM272 1414.2h2v86.8h-2zM316 1414.2h2v86.8h-2zM329 1414.2h1v86.8h-1zM341 1414.2h1v86.8h-1zM344 1414.2h2v86.8h-2zM355 1414.2h2v86.8h-2zM359 1414.2h2v86.8h-2zM381 1414.2h2v86.8h-2zM387 1414.2h1.3v86.8h-1.3zM404 1414.2h1v86.8h-1zM426 1414.2h2v86.8h-2zM436 1414.2h2v86.8h-2zM446 1414.2h3v86.8h-3zM450 1414.2h1v86.8h-1zM458 1414.2h2v86.8h-2zM467 1414.2h3v86.8h-3zM474 1414.2h1v86.8h-1zM505 1414.2h2v86.8h-2zM521 1414.2h2v86.8h-2zM526 1414.2h1v86.8h-1zM538 1414.2h1v86.8h-1zM560 1414.2h2v86.8h-2zM569 1414.2h1v86.8h-1zM593 1414.2h1v86.8h-1zM595 1414.2h1v86.8h-1zM603 1414.2h2v86.8h-2zM619 1414.2h1v86.8h-1zM632 1414.2h1v86.8h-1zM641 1414.2h2v86.8h-2zM644 1414.2h1.5v86.8h-1.5zM695 1414.2h1v86.8h-1zM697 1414.2h1v86.8h-1zM716 1414.2h1v86.8h-1zM718 1414.2h2v86.8h-2zM752 1414.2h3v86.8h-3zM825 1414.2h2v86.8h-2zM828 1414.2h1v86.8h-1zM881 1414.2h2.8v86.8h-2.8zM957 1414.2h2v86.8h-2zM1018 1414.2h2v86.8h-2zM1029 1414.2h1v86.8h-1zM1064 1414.2h2v86.8h-2zM1089 1414.2h2v86.8h-2zM1136 1414.2h2v86.8h-2zM1170 1414.2h1v86.8h-1zM1177 1414.2h3v86.8h-3z"/>
<path fill="#f84444" d="M180 615.1h1v29h-1zM203 615.1h1v29h-1zM211 615.1h1v29h-1zM232 615.1h2v29h-2zM237 615.1h2v29h-2zM242 615.1h2v29h-2zM279 615.1h3v29h-3zM365 615.1h3v29h-3zM403 615.1h1v29h-1zM418 615.1h3v29h-3zM459 615.1h1v29h-1zM504 615.1h1v29h-1zM515 615.1h3v29h-3zM606 615.1h2v29h-2zM688 615.1h1v29h-1zM746 615.1h4v29h-4zM759 615.1h2v29h-2zM766 615.1h2v29h-2zM777 615.1h3v29h-3zM788 615.1h2v29h-2zM813 615.1h1v29h-1zM819 615.1h3v29h-3zM833 615.1h2v29h-2zM839 615.1h2v29h-2zM872 615.1h1v29h-1zM877 615.1h2v29h-2zM880 615.1h3.8v29h-3.8zM917 615.1h2v29h-2zM928 615.1h2v29h-2zM941 615.1h2v29h-2zM959 615.1h3v29h-3zM1082 615.1h2v29h-2zM1093 615.1h1v29h-1zM1105 615.1h3v29h-3zM1111 615.1h1v29h-1zM1127 615.1h2v29h-2zM1133 615.1h2v29h-2zM1146 615.1h3v29h-3zM1150 615.1h2v29h-2zM1161 615.1h1v29h-1zM205 656.5h1v86.6h-1zM210 656.5h2v86.6h-2zM249 656.5h1v86.6h-1zM282 656.5h2v86.6h-2zM296 656.5h2v86.6h-2zM327 656.5h1v86.6h-1zM375 656.5h1v86.6h-1zM380 656.5h1v86.6h-1zM384 656.5h1v86.6h-1zM428 656.5h2v86.6h-2zM458 656.5h3v86.6h-3zM487 656.5h2v86.6h-2zM513 656.5h3v86.6h-3zM562 656.5h3v86.6h-3zM574 656.5h1v86.6h-1zM577 656.5h3v86.6h-3zM584 656.5h3v86.6h-3zM595 656.5h2v86.6h-2zM607 656.5h2v86.6h-2zM621 656.5h1v86.6h-1zM633 656.5h1v86.6h-1zM690 656.5h7v86.6h-7zM701 656.5h1v86.6h-1zM719 656.5h4v86.6h-4zM734 656.5h1v86.6h-1zM756 656.5h1v86.6h-1zM780 656.5h1v86.6h-1zM815 656.5h1v86.6h-1zM826 656.5h3v86.6h-3zM832 656.5h1v86.6h-1zM838 656.5h1v86.6h-1zM847 656.5h2v86.6h-2zM861 656.5h2v86.6h-2zM866 656.5h2v86.6h-2zM869 656.5h1v86.6h-1zM871 656.5h2v86.6h-2zM919.7 656.5h1.3v86.6h-1.3zM940 656.5h1v86.6h-1zM947 656.5h2v86.6h-2zM961 656.5h2.8v86.6h-2.8zM979 656.5h1v86.6h-1zM1021 656.5h1v86.6h-1zM1024 656.5h1v86.6h-1zM1074 656.5h1v86.6h-1zM1102 656.5h2v86.6h-2zM1109 656.5h1v86.6h-1zM1114 656.5h1v86.6h-1zM1122 656.5h4v86.6h-4zM1132 656.5h2v86.6h-2zM1143 656.5h2v86.6h-2zM1147 656.5h2v86.6h-2zM1154 656.5h1v86.6h-1zM1157 656.5h2v86.6h-2zM1168 656.5h2v86.6h-2zM185 753.5h2v86.9h-2zM190 753.5h2v86.9h-2zM210 753.5h1v86.9h-1zM218 753.5h1v86.9h-1zM224 753.5h2v86.9h-2zM260 753.5h1v86.9h-1zM287 753.5h1v86.9h-1zM301 753.5h1v86.9h-1zM311 753.5h1v86.9h-1zM327 753.5h1v86.9h-1zM353 753.5h2v86.9h-2zM471 753.5h1v86.9h-1zM490 753.5h3v86.9h-3zM511 753.5h2v86.9h-2zM514 753.5h1v86.9h-1zM542 753.5h2.5v86.9h-2.5zM570 753.5h2v86.9h-2zM637 753.5h2v86.9h-2zM644 753.5h1v86.9h-1zM656 753.5h1v86.9h-1zM689 753.5h1v86.9h-1zM701 753.5h2v86.9h-2zM711 753.5h2v86.9h-2zM722 753.5h2v86.9h-2zM727 753.5h1v86.9h-1zM741 753.5h4v86.9h-4zM750 753.5h2v86.9h-2zM762 753.5h1v86.9h-1zM769 753.5h1.7v86.9h-1.7zM823 753.5h2v86.9h-2zM909 753.5h1v86.9h-1zM935 753.5h2v86.9h-2zM941 753.5h1v86.9h-1zM955 753.5h4v86.9h-4zM991 753.5h2v86.9h-2zM1019 753.5h1v86.9h-1zM1102 753.5h1v86.9h-1zM1108 753.5h3v86.9h-3zM1122 753.5h1v86.9h-1zM1162 753.5h1v86.9h-1zM1168 753.5h1v86.9h-1zM1178 753.5h1v86.9h-1zM196 851.2h1v86.8h-1zM202 851.2h2v86.8h-2zM232 851.2h2v86.8h-2zM237 851.2h1v86.8h-1zM267 851.2h2v86.8h-2zM273 851.2h1v86.8h-1zM294 851.2h3v86.8h-3zM306 851.2h1v86.8h-1zM309 851.2h2v86.8h-2zM336 851.2h1v86.8h-1zM353 851.2h2v86.8h-2zM377 851.2h1v86.8h-1zM446 851.2h1v86.8h-1zM454 851.2h2v86.8h-2zM462 851.2h1v86.8h-1zM483 851.2h2v86.8h-2zM514 851.2h2v86.8h-2zM601 851.2h1v86.8h-1zM607 851.2h2v86.8h-2zM622 851.2h1v86.8h-1zM630 851.2h1v86.8h-1zM647 851.2h3v86.8h-3zM687.7 851.2h1.3v86.8h-1.3zM694 851.2h2v86.8h-2zM697 851.2h1v86.8h-1zM705 851.2h1v86.8h-1zM715 851.2h1v86.8h-1zM721 851.2h1v86.8h-1zM725 851.2h2v86.8h-2zM728 851.2h1v86.8h-1zM733 851.2h2v86.8h-2zM740 851.2h1v86.8h-1zM765 851.2h3v86.8h-3zM952 851.2h1v86.8h-1zM957 851.2h3v86.8h-3zM985 851.2h3v86.8h-3zM1011 851.2h1v86.8h-1zM1027 851.2h1v86.8h-1zM1029 851.2h1v86.8h-1zM1032 851.2h2v86.8h-2zM1083 851.2h2v86.8h-2zM1090 851.2h1v86.8h-1zM1095 851.2h1v86.8h-1zM1100 851.2h1v86.8h-1zM1111 851.2h4v86.8h-4zM1123 851.2h1v86.8h-1zM1143 851.2h1v86.8h-1zM1154 851.2h2v86.8h-2zM1159 851.2h2v86.8h-2zM1162 851.2h1v86.8h-1zM1184 851.2h1v86.8h-1zM234 948.5h1v86.9h-1zM237 948.5h1v86.9h-1zM250 948.5h2v86.9h-2zM259 948.5h1v86.9h-1zM265 948.5h2v86.9h-2zM404 948.5h3v86.9h-3zM409 948.5h1v86.9h-1zM413 948.5h3v86.9h-3zM418 948.5h1v86.9h-1zM472 948.5h1v86.9h-1zM497 948.5h1v86.9h-1zM532 948.5h3v86.9h-3zM582 948.5h1v86.9h-1zM584 948.5h1v86.9h-1zM601 948.5h3v86.9h-3zM608 948.5h2v86.9h-2zM635 948.5h1v86.9h-1zM644 948.5h1.5v86.9h-1.5zM666 948.5h2v86.9h-2zM698 948.5h2v86.9h-2zM737 948.5h1v86.9h-1zM744 948.5h3v86.9h-3zM752 948.5h2v86.9h-2zM811 948.5h1v86.9h-1zM813 948.5h1v86.9h-1zM815 948.5h2v86.9h-2zM826 948.5h3v86.9h-3zM843 948.5h1.2v86.9h-1.2zM899 948.5h1v86.9h-1zM932 948.5h1v86.9h-1zM935 948.5h2v86.9h-2zM958 948.5h1v86.9h-1zM962 948.5h1.8v86.9h-1.8zM980 948.5h1v86.9h-1zM983 948.5h2v86.9h-2zM999 948.5h1v86.9h-1zM1002 948.5h1v86.9h-1zM1012 948.5h1v86.9h-1zM1014 948.5h1v86.9h-1zM1114 948.5h3v86.9h-3zM1122 948.5h2v86.9h-2zM1130 948.5h3v86.9h-3zM1135 948.5h3v86.9h-3zM1144 948.5h2v86.9h-2zM1149 948.5h1v86.9h-1zM183 1047.5h2v86.9h-2zM196 1047.5h1v86.9h-1zM212 1047.5h3v86.9h-3zM234 1047.5h1v86.9h-1zM240 1047.5h1v86.9h-1zM244 1047.5h1v86.9h-1zM247 1047.5h3v86.9h-3zM252 1047.5h1v86.9h-1zM257 1047.5h2v86.9h-2zM277 1047.5h1v86.9h-1zM291 1047.5h1v86.9h-1zM294 1047.5h3v86.9h-3zM318 1047.5h3v86.9h-3zM327 1047.5h2v86.9h-2zM340 1047.5h2v86.9h-2zM345 1047.5h1v86.9h-1zM351 1047.5h1v86.9h-1zM354 1047.5h2v86.9h-2zM359 1047.5h1v86.9h-1zM379 1047.5h1v86.9h-1zM381 1047.5h1v86.9h-1zM405 1047.5h2v86.9h-2zM417 1047.5h1v86.9h-1zM427 1047.5h1v86.9h-1zM429 1047.5h3v86.9h-3zM439 1047.5h3v86.9h-3zM457 1047.5h1v86.9h-1zM459 1047.5h1v86.9h-1zM463 1047.5h2v86.9h-2zM472 1047.5h3v86.9h-3zM485 1047.5h3v86.9h-3zM493 1047.5h1v86.9h-1zM517 1047.5h3v86.9h-3zM539 1047.5h2v86.9h-2zM574 1047.5h2v86.9h-2zM596 1047.5h3v86.9h-3zM615 1047.5h1v86.9h-1zM633 1047.5h2v86.9h-2zM636 1047.5h1v86.9h-1zM704 1047.5h3v86.9h-3zM710 1047.5h1v86.9h-1zM730 1047.5h1v86.9h-1zM739 1047.5h1v86.9h-1zM757 1047.5h1v86.9h-1zM762 1047.5h1v86.9h-1zM834 1047.5h3v86.9h-3zM845 1047.5h1v86.9h-1zM848 1047.5h3v86.9h-3zM852 1047.5h7v86.9h-7zM869 1047.5h2v86.9h-2zM907 1047.5h2v86.9h-2zM911 1047.5h1v86.9h-1zM914 1047.5h2.9v86.9h-2.9zM942 1047.5h1v86.9h-1zM949 1047.5h1v86.9h-1zM952 1047.5h1v86.9h-1zM976 1047.5h1v86.9h-1zM1002 1047.5h2v86.9h-2zM1009 1047.5h2v86.9h-2zM1025 1047.5h1v86.9h-1zM1080 1047.5h1v86.9h-1zM1086 1047.5h1v86.9h-1zM1106 1047.5h4v86.9h-4zM1113 1047.5h2v86.9h-2zM1117 1047.5h1v86.9h-1zM1135 1047.5h1v86.9h-1zM1141 1047.5h1v86.9h-1zM1162 1047.5h2v86.9h-2zM245 1148.5h2v86.8h-2zM248 1148.5h2v86.8h-2zM290 1148.5h1v86.8h-1zM322 1148.5h2v86.8h-2zM356 1148.5h1v86.8h-1zM360 1148.5h1v86.8h-1zM372 1148.5h3v86.8h-3zM481 1148.5h2v86.8h-2zM490 1148.5h1v86.8h-1zM530 1148.5h1v86.8h-1zM532 1148.5h1v86.8h-1zM543 1148.5h1v86.8h-1zM574 1148.5h3v86.8h-3zM578 1148.5h1v86.8h-1zM583 1148.5h1v86.8h-1zM588 1148.5h2v86.8h-2zM645 1148.5h1v86.8h-1zM692 1148.5h1v86.8h-1zM698 1148.5h1v86.8h-1zM703 1148.5h1v86.8h-1zM727 1148.5h1v86.8h-1zM738 1148.5h2v86.8h-2zM760 1148.5h1v86.8h-1zM763 1148.5h1v86.8h-1zM771 1148.5h2v86.8h-2zM774 1148.5h1v86.8h-1zM808 1148.5h3v86.8h-3zM813 1148.5h3v86.8h-3zM818 1148.5h2v86.8h-2zM834 1148.5h2v86.8h-2zM838 1148.5h1v86.8h-1zM854 1148.5h2v86.8h-2zM870 1148.5h3v86.8h-3zM915 1148.5h3v86.8h-3zM924 1148.5h1v86.8h-1zM929 1148.5h2v86.8h-2zM941 1148.5h1v86.8h-1zM957 1148.5h1v86.8h-1zM960 1148.5h1v86.8h-1zM980 1148.5h1v86.8h-1zM992 1148.5h1v86.8h-1zM1066 1148.5h1v86.8h-1zM1078 1148.5h4v86.8h-4zM1087 1148.5h2v86.8h-2zM1108 1148.5h1v86.8h-1zM1117 1148.5h2v86.8h-2zM1129 1148.5h2v86.8h-2zM1134 1148.5h1v86.8h-1zM1140 1148.5h1v86.8h-1zM1158 1148.5h2v86.8h-2zM1173 1148.5h1v86.8h-1zM1178 1148.5h1v86.8h-1zM1180 1148.5h2v86.8h-2zM187 1245.8h2v86.9h-2zM223 1245.8h1v86.9h-1zM245 1245.8h1v86.9h-1zM285 1245.8h1v86.9h-1zM287 1245.8h1v86.9h-1zM297 1245.8h2v86.9h-2zM303 1245.8h1v86.9h-1zM330 1245.8h1v86.9h-1zM341 1245.8h1v86.9h-1zM360 1245.8h1v86.9h-1zM383 1245.8h1v86.9h-1zM386 1245.8h2.3v86.9h-2.3zM458 1245.8h4v86.9h-4zM511 1245.8h2v86.9h-2zM594 1245.8h1v86.9h-1zM643 1245.8h1v86.9h-1zM760 1245.8h3v86.9h-3zM838 1245.8h3v86.9h-3zM843 1245.8h1v86.9h-1zM849 1245.8h1v86.9h-1zM858 1245.8h4v86.9h-4zM866 1245.8h1v86.9h-1zM873 1245.8h2v86.9h-2zM944 1245.8h4v86.9h-4zM954 1245.8h2v86.9h-2zM958 1245.8h1v86.9h-1zM1070 1245.8h1v86.9h-1zM1110 1245.8h1v86.9h-1zM1122 1245.8h3v86.9h-3zM1134 1245.8h1v86.9h-1zM1161 1245.8h1v86.9h-1zM1175 1245.8h1v86.9h-1zM186 1344.8h1v58.4h-1zM204 1344.8h1v58.4h-1zM210 1344.8h2v58.4h-2zM226 1344.8h1v58.4h-1zM240 1344.8h1v58.4h-1zM278 1344.8h1v58.4h-1zM298 1344.8h2v58.4h-2zM306 1344.8h2v58.4h-2zM325 1344.8h2v58.4h-2zM434 1344.8h3v58.4h-3zM451 1344.8h2v58.4h-2zM472 1344.8h2v58.4h-2zM478 1344.8h2v58.4h-2zM488 1344.8h1v58.4h-1zM491 1344.8h1v58.4h-1zM505 1344.8h2v58.4h-2zM579 1344.8h1v58.4h-1zM598 1344.8h1v58.4h-1zM616 1344.8h2v58.4h-2zM624 1344.8h2v58.4h-2zM633 1344.8h1v58.4h-1zM769 1344.8h2v58.4h-2zM789 1344.8h1v58.4h-1zM814 1344.8h5v58.4h-5zM821 1344.8h1v58.4h-1zM825 1344.8h1v58.4h-1zM839 1344.8h1v58.4h-1zM844 1344.8h3v58.4h-3zM849 1344.8h1v58.4h-1zM852 1344.8h2v58.4h-2zM862 1344.8h2v58.4h-2zM874 1344.8h3v58.4h-3zM879 1344.8h1v58.4h-1zM935 1344.8h1v58.4h-1zM1161 1344.8h2v58.4h-2zM1176 1344.8h2v58.4h-2zM256 1414.2h1v86.8h-1zM288 1414.2h2v86.8h-2zM318 1414.2h1v86.8h-1zM357 1414.2h1v86.8h-1zM374 1414.2h3v86.8h-3zM410 1414.2h1v86.8h-1zM417 1414.2h1v86.8h-1zM421 1414.2h2v86.8h-2zM428 1414.2h3v86.8h-3zM445 1414.2h1v86.8h-1zM456 1414.2h2v86.8h-2zM464 1414.2h1v86.8h-1zM470 1414.2h1v86.8h-1zM484 1414.2h2v86.8h-2zM502 1414.2h1v86.8h-1zM507 1414.2h1v86.8h-1zM519 1414.2h1v86.8h-1zM524 1414.2h2v86.8h-2zM528 1414.2h1v86.8h-1zM530 1414.2h2v86.8h-2zM535 1414.2h1v86.8h-1zM576 1414.2h2v86.8h-2zM582 1414.2h1v86.8h-1zM587 1414.2h1v86.8h-1zM610 1414.2h2v86.8h-2zM624 1414.2h2v86.8h-2zM696 1414.2h1v86.8h-1zM698 1414.2h1v86.8h-1zM743 1414.2h1v86.8h-1zM748 1414.2h1v86.8h-1zM782 1414.2h2v86.8h-2zM786 1414.2h1v86.8h-1zM806 1414.2h1v86.8h-1zM817 1414.2h1v86.8h-1zM820 1414.2h2v86.8h-2zM829 1414.2h4v86.8h-4zM837 1414.2h2v86.8h-2zM875 1414.2h2v86.8h-2zM878 1414.2h1v86.8h-1zM1020 1414.2h1v86.8h-1zM1033 1414.2h3v86.8h-3zM1072 1414.2h4v86.8h-4zM1079 1414.2h3v86.8h-3zM1098 1414.2h2v86.8h-2zM1122 1414.2h2v86.8h-2zM1131 1414.2h1v86.8h-1zM1138 1414.2h2v86.8h-2zM1171 1414.2h2v86.8h-2z"/>
<path fill="#ee1a1a" d="M181 615.1h1v29h-1zM185 615.1h1v29h-1zM221 615.1h1v29h-1zM244 615.1h3v29h-3zM259 615.1h1v29h-1zM265 615.1h1v29h-1zM272 615.1h2v29h-2zM282 615.1h2v29h-2zM306 615.1h2v29h-2zM348 615.1h2v29h-2zM362 615.1h1v29h-1zM364 615.1h1v29h-1zM425 615.1h2v29h-2zM444 615.1h1v29h-1zM463 615.1h2v29h-2zM475 615.1h1v29h-1zM479 615.1h2v29h-2zM490 615.1h2v29h-2zM518 615.1h1v29h-1zM540 615.1h1v29h-1zM592 615.1h1v29h-1zM600 615.1h1v29h-1zM751 615.1h1v29h-1zM757 615.1h2v29h-2zM792 615.1h1.4v29h-1.4zM811.4 615.1h0.6v29h-0.6zM825 615.1h3v29h-3zM829 615.1h3v29h-3zM843 615.1h1v29h-1zM848 615.1h3v29h-3zM857 615.1h1v29h-1zM864 615.1h1v29h-1zM867 615.1h5v29h-5zM873 615.1h1v29h-1zM875 615.1h2v29h-2zM896 615.1h1v29h-1zM903 615.1h1v29h-1zM907 615.1h2v29h-2zM919 615.1h1v29h-1zM944 615.1h1v29h-1zM951 615.1h3v29h-3zM1084 615.1h2v29h-2zM1091 615.1h2v29h-2zM1096 615.1h3v29h-3zM1104 615.1h1v29h-1zM1112 615.1h2v29h-2zM1135 615.1h3v29h-3zM1153 615.1h1v29h-1zM1169 615.1h1v29h-1zM1177 615.1h1v29h-1zM1179 615.1h1v29h-1zM222 656.5h1v86.6h-1zM233 656.5h1v86.6h-1zM250 656.5h5v86.6h-5zM256 656.5h1v86.6h-1zM265 656.5h2v86.6h-2zM270 656.5h6v86.6h-6zM281 656.5h1v86.6h-1zM285 656.5h2v86.6h-2zM293 656.5h1v86.6h-1zM309 656.5h2v86.6h-2zM316 656.5h1v86.6h-1zM324 656.5h3v86.6h-3zM328 656.5h1v86.6h-1zM338 656.5h2v86.6h-2zM346 656.5h2v86.6h-2zM350 656.5h1v86.6h-1zM358 656.5h2v86.6h-2zM363 656.5h2v86.6h-2zM366 656.5h1v86.6h-1zM371 656.5h2v86.6h-2zM377 656.5h3v86.6h-3zM382 656.5h1v86.6h-1zM403 656.5h1v86.6h-1zM444 656.5h2v86.6h-2zM461 656.5h1v86.6h-1zM471 656.5h1v86.6h-1zM478 656.5h5v86.6h-5zM485 656.5h2v86.6h-2zM590 656.5h1v86.6h-1zM611 656.5h2v86.6h-2zM627 656.5h1v86.6h-1zM664 656.5h2v86.6h-2zM715 656.5h2v86.6h-2zM727 656.5h1v86.6h-1zM729 656.5h1v86.6h-1zM736 656.5h2v86.6h-2zM743 656.5h4v86.6h-4zM749 656.5h1v86.6h-1zM752 656.5h1v86.6h-1zM759 656.5h1v86.6h-1zM761 656.5h1v86.6h-1zM763 656.5h2v86.6h-2zM768 656.5h3v86.6h-3zM772 656.5h2v86.6h-2zM787 656.5h1v86.6h-1zM790 656.5h1v86.6h-1zM818 656.5h1v86.6h-1zM829 656.5h3v86.6h-3zM835 656.5h1v86.6h-1zM839 656.5h2v86.6h-2zM852 656.5h3v86.6h-3zM858 656.5h2v86.6h-2zM863 656.5h3v86.6h-3zM881 656.5h2.8v86.6h-2.8zM921 656.5h1v86.6h-1zM927 656.5h1v86.6h-1zM977 656.5h1v86.6h-1zM990 656.5h1v86.6h-1zM1002 656.5h1v86.6h-1zM1009 656.5h2v86.6h-2zM1027 656.5h3.6v86.6h-3.6zM1063.7 656.5h1.3v86.6h-1.3zM1077 656.5h1v86.6h-1zM1080 656.5h3v86.6h-3zM1087 656.5h3v86.6h-3zM1098 656.5h3v86.6h-3zM1110 656.5h1v86.6h-1zM1112 656.5h1v86.6h-1zM1135 656.5h1v86.6h-1zM1137 656.5h1v86.6h-1zM1140 656.5h2v86.6h-2zM1145 656.5h1v86.6h-1zM1170 656.5h3v86.6h-3zM1174 656.5h2v86.6h-2zM1185 656.5h2.8v86.6h-2.8zM189 753.5h1v86.9h-1zM274 753.5h2v86.9h-2zM319 753.5h2v86.9h-2zM338 753.5h4v86.9h-4zM364 753.5h1v86.9h-1zM515 753.5h2v86.9h-2zM580 753.5h1v86.9h-1zM598 753.5h1v86.9h-1zM610 753.5h1v86.9h-1zM627 753.5h2v86.9h-2zM687.7 753.5h0.3v86.9h-0.3zM690 753.5h2v86.9h-2zM696 753.5h5v86.9h-5zM739 753.5h2v86.9h-2zM984 753.5h3v86.9h-3zM1008 753.5h1v86.9h-1zM1033 753.5h1v86.9h-1zM1112 753.5h1v86.9h-1zM1130 753.5h2v86.9h-2zM1167 753.5h1v86.9h-1zM1170 753.5h1v86.9h-1zM1174 753.5h1v86.9h-1zM180 851.2h1v86.8h-1zM211 851.2h2v86.8h-2zM216 851.2h1v86.8h-1zM225 851.2h1v86.8h-1zM266 851.2h1v86.8h-1zM288 851.2h1v86.8h-1zM297 851.2h2v86.8h-2zM326 851.2h2v86.8h-2zM339 851.2h3v86.8h-3zM360 851.2h2v86.8h-2zM364 851.2h1v86.8h-1zM373 851.2h2v86.8h-2zM387 851.2h1.3v86.8h-1.3zM412 851.2h2v86.8h-2zM428 851.2h3v86.8h-3zM433 851.2h1v86.8h-1zM475 851.2h3v86.8h-3zM494 851.2h1v86.8h-1zM561 851.2h4v86.8h-4zM578 851.2h1v86.8h-1zM586 851.2h1v86.8h-1zM604 851.2h3v86.8h-3zM611 851.2h2v86.8h-2zM651 851.2h2v86.8h-2zM691 851.2h3v86.8h-3zM698 851.2h1v86.8h-1zM701 851.2h2v86.8h-2zM716 851.2h4v86.8h-4zM723 851.2h2v86.8h-2zM736 851.2h2v86.8h-2zM750 851.2h3v86.8h-3zM757 851.2h4v86.8h-4zM782 851.2h3v86.8h-3zM789 851.2h2v86.8h-2zM792 851.2h1.4v86.8h-1.4zM953 851.2h1v86.8h-1zM955 851.2h1v86.8h-1zM961 851.2h2.8v86.8h-2.8zM992 851.2h1v86.8h-1zM997 851.2h1v86.8h-1zM1004 851.2h3v86.8h-3zM1020 851.2h2v86.8h-2zM1079 851.2h2v86.8h-2zM1085 851.2h3v86.8h-3zM1092 851.2h2v86.8h-2zM1099 851.2h1v86.8h-1zM1101 851.2h3v86.8h-3zM1107 851.2h2v86.8h-2zM1127 851.2h2v86.8h-2zM1138 851.2h2v86.8h-2zM1161 851.2h1v86.8h-1zM1168 851.2h1v86.8h-1zM226 948.5h1v86.9h-1zM235 948.5h1v86.9h-1zM246 948.5h1v86.9h-1zM257 948.5h2v86.9h-2zM268 948.5h2v86.9h-2zM280 948.5h4v86.9h-4zM403 948.5h1v86.9h-1zM449 948.5h3v86.9h-3zM457 948.5h1v86.9h-1zM461 948.5h1v86.9h-1zM502 948.5h1v86.9h-1zM504 948.5h1v86.9h-1zM525 948.5h1v86.9h-1zM529 948.5h3v86.9h-3zM543 948.5h2v86.9h-2zM569 948.5h2v86.9h-2zM585 948.5h1v86.9h-1zM604 948.5h1v86.9h-1zM617 948.5h2v86.9h-2zM700 948.5h2v86.9h-2zM708 948.5h1v86.9h-1zM710 948.5h1v86.9h-1zM717 948.5h1v86.9h-1zM722 948.5h2v86.9h-2zM728 948.5h1v86.9h-1zM808 948.5h1v86.9h-1zM818 948.5h2v86.9h-2zM830 948.5h2v86.9h-2zM833 948.5h1v86.9h-1zM835 948.5h1v86.9h-1zM837 948.5h1v86.9h-1zM906 948.5h1v86.9h-1zM908 948.5h2v86.9h-2zM911 948.5h3v86.9h-3zM940 948.5h1v86.9h-1zM947 948.5h1v86.9h-1zM951 948.5h1v86.9h-1zM987 948.5h2v86.9h-2zM998 948.5h1v86.9h-1zM1011 948.5h1v86.9h-1zM1069 948.5h1v86.9h-1zM1096 948.5h2v86.9h-2zM1133 948.5h1v86.9h-1zM1160 948.5h3v86.9h-3zM1165 948.5h2v86.9h-2zM1174 948.5h2v86.9h-2zM1177 948.5h2v86.9h-2zM191 1047.5h2v86.9h-2zM194 1047.5h2v86.9h-2zM206 1047.5h2v86.9h-2zM220 1047.5h2v86.9h-2zM237 1047.5h3v86.9h-3zM256 1047.5h1v86.9h-1zM271 1047.5h4v86.9h-4zM278 1047.5h2v86.9h-2zM286 1047.5h4v86.9h-4zM299 1047.5h1v86.9h-1zM301 1047.5h2v86.9h-2zM316 1047.5h2v86.9h-2zM335 1047.5h4v86.9h-4zM349 1047.5h2v86.9h-2zM374 1047.5h5v86.9h-5zM383 1047.5h1v86.9h-1zM403 1047.5h2v86.9h-2zM437 1047.5h1v86.9h-1zM451 1047.5h1v86.9h-1zM456 1047.5h1v86.9h-1zM462 1047.5h1v86.9h-1zM470 1047.5h2v86.9h-2zM475 1047.5h2v86.9h-2zM500 1047.5h1v86.9h-1zM566 1047.5h1v86.9h-1zM576 1047.5h1v86.9h-1zM620 1047.5h2v86.9h-2zM635 1047.5h1v86.9h-1zM640 1047.5h2v86.9h-2zM687.7 1047.5h1.3v86.9h-1.3zM721 1047.5h1v86.9h-1zM727 1047.5h1v86.9h-1zM745 1047.5h1v86.9h-1zM748 1047.5h1v86.9h-1zM750 1047.5h1v86.9h-1zM758 1047.5h3v86.9h-3zM765 1047.5h2.8v86.9h-2.8zM783 1047.5h3v86.9h-3zM829 1047.5h1v86.9h-1zM837 1047.5h3v86.9h-3zM874 1047.5h2v86.9h-2zM878 1047.5h1v86.9h-1zM903 1047.5h2v86.9h-2zM946 1047.5h1v86.9h-1zM992 1047.5h4v86.9h-4zM1000 1047.5h2v86.9h-2zM1004 1047.5h2v86.9h-2zM1007 1047.5h1v86.9h-1zM1034 1047.5h3.4v86.9h-3.4zM1070 1047.5h1v86.9h-1zM1073 1047.5h2v86.9h-2zM1089 1047.5h2v86.9h-2zM1092 1047.5h1v86.9h-1zM1094 1047.5h2v86.9h-2zM1118 1047.5h2v86.9h-2zM1122 1047.5h1v86.9h-1zM1155 1047.5h1v86.9h-1zM257 1148.5h2v86.8h-2zM262 1148.5h1v86.8h-1zM274 1148.5h1v86.8h-1zM280 1148.5h1v86.8h-1zM283 1148.5h1v86.8h-1zM285 1148.5h4v86.8h-4zM295 1148.5h3v86.8h-3zM300 1148.5h3v86.8h-3zM351 1148.5h2v86.8h-2zM359 1148.5h1v86.8h-1zM379 1148.5h2v86.8h-2zM384 1148.5h1v86.8h-1zM492 1148.5h1v86.8h-1zM501 1148.5h1v86.8h-1zM503 1148.5h1v86.8h-1zM527 1148.5h3v86.8h-3zM531 1148.5h1v86.8h-1zM534 1148.5h1v86.8h-1zM570 1148.5h1v86.8h-1zM579 1148.5h1v86.8h-1zM586 1148.5h2v86.8h-2zM592 1148.5h2v86.8h-2zM637 1148.5h1v86.8h-1zM663 1148.5h2v86.8h-2zM701 1148.5h1v86.8h-1zM711 1148.5h1v86.8h-1zM713 1148.5h1v86.8h-1zM724 1148.5h1v86.8h-1zM747 1148.5h1v86.8h-1zM768 1148.5h3v86.8h-3zM780 1148.5h1v86.8h-1zM783 1148.5h1v86.8h-1zM786 1148.5h2v86.8h-2zM811 1148.5h1v86.8h-1zM820 1148.5h3v86.8h-3zM831 1148.5h2v86.8h-2zM846 1148.5h2v86.8h-2zM857 1148.5h2v86.8h-2zM864 1148.5h2v86.8h-2zM881 1148.5h1v86.8h-1zM906 1148.5h2v86.8h-2zM932 1148.5h2v86.8h-2zM938 1148.5h1v86.8h-1zM942 1148.5h3v86.8h-3zM949 1148.5h2v86.8h-2zM952 1148.5h2v86.8h-2zM955 1148.5h2v86.8h-2zM975.2 1148.5h0.8v86.8h-0.8zM985 1148.5h3v86.8h-3zM1083 1148.5h1v86.8h-1zM1097 1148.5h3v86.8h-3zM1111 1148.5h1v86.8h-1zM1119 1148.5h1v86.8h-1zM1124 1148.5h1v86.8h-1zM1146 1148.5h1v86.8h-1zM1160 1148.5h3v86.8h-3zM1176 1148.5h2v86.8h-2zM1186 1148.5h1.8v86.8h-1.8zM179.3 1245.8h0.7v86.9h-0.7zM190 1245.8h1v86.9h-1zM227 1245.8h1v86.9h-1zM235 1245.8h2v86.9h-2zM242 1245.8h1v86.9h-1zM246 1245.8h2v86.9h-2zM250 1245.8h4v86.9h-4zM257 1245.8h2v86.9h-2zM270 1245.8h1v86.9h-1zM310 1245.8h3v86.9h-3zM340 1245.8h1v86.9h-1zM343 1245.8h1v86.9h-1zM347 1245.8h3v86.9h-3zM368 1245.8h1v86.9h-1zM373 1245.8h1v86.9h-1zM376 1245.8h1v86.9h-1zM385 1245.8h1v86.9h-1zM415 1245.8h3v86.9h-3zM425 1245.8h3v86.9h-3zM470 1245.8h2v86.9h-2zM492 1245.8h1v86.9h-1zM574 1245.8h3v86.9h-3zM600 1245.8h1v86.9h-1zM641 1245.8h1v86.9h-1zM672 1245.8h3v86.9h-3zM754 1245.8h3v86.9h-3zM771 1245.8h3v86.9h-3zM790 1245.8h1v86.9h-1zM821 1245.8h1v86.9h-1zM862 1245.8h2v86.9h-2zM869 1245.8h3v86.9h-3zM927 1245.8h1v86.9h-1zM930 1245.8h1v86.9h-1zM933 1245.8h4v86.9h-4zM959 1245.8h2v86.9h-2zM1075 1245.8h2v86.9h-2zM1083 1245.8h1v86.9h-1zM1093 1245.8h3v86.9h-3zM1104 1245.8h1v86.9h-1zM1111 1245.8h1v86.9h-1zM1128 1245.8h4v86.9h-4zM1133 1245.8h1v86.9h-1zM1146 1245.8h1v86.9h-1zM1164 1245.8h2v86.9h-2zM1178 1245.8h1v86.9h-1zM1186 1245.8h1.8v86.9h-1.8zM185 1344.8h1v58.4h-1zM191 1344.8h1v58.4h-1zM201 1344.8h2v58.4h-2zM216 1344.8h2v58.4h-2zM253 1344.8h1v58.4h-1zM257 1344.8h1v58.4h-1zM268 1344.8h1v58.4h-1zM271 1344.8h2v58.4h-2zM310 1344.8h2v58.4h-2zM335 1344.8h2v58.4h-2zM341 1344.8h1v58.4h-1zM438 1344.8h2v58.4h-2zM444 1344.8h1v58.4h-1zM461 1344.8h1v58.4h-1zM466 1344.8h1v58.4h-1zM501 1344.8h2v58.4h-2zM523 1344.8h1v58.4h-1zM526 1344.8h1v58.4h-1zM565 1344.8h1v58.4h-1zM573 1344.8h2v58.4h-2zM584 1344.8h2v58.4h-2zM607 1344.8h2v58.4h-2zM612 1344.8h3v58.4h-3zM622 1344.8h2v58.4h-2zM727 1344.8h4v58.4h-4zM738 1344.8h2v58.4h-2zM762 1344.8h3v58.4h-3zM826 1344.8h2v58.4h-2zM836 1344.8h3v58.4h-3zM855 1344.8h1v58.4h-1zM860 1344.8h2v58.4h-2zM864 1344.8h5v58.4h-5zM872 1344.8h2v58.4h-2zM908 1344.8h4v58.4h-4zM915 1344.8h1v58.4h-1zM924 1344.8h1v58.4h-1zM927 1344.8h1v58.4h-1zM953 1344.8h1v58.4h-1zM958 1344.8h1v58.4h-1zM990 1344.8h1v58.4h-1zM1111 1344.8h1v58.4h-1zM1119 1344.8h2v58.4h-2zM1166 1344.8h1v58.4h-1zM255 1414.2h1v86.8h-1zM257 1414.2h2v86.8h-2zM274 1414.2h1v86.8h-1zM277 1414.2h2v86.8h-2zM313 1414.2h3v86.8h-3zM323 1414.2h2v86.8h-2zM342 1414.2h2v86.8h-2zM372 1414.2h1v86.8h-1zM405 1414.2h2v86.8h-2zM418 1414.2h1v86.8h-1zM449 1414.2h1v86.8h-1zM451 1414.2h1v86.8h-1zM461 1414.2h1v86.8h-1zM489 1414.2h2v86.8h-2zM494 1414.2h1v86.8h-1zM539 1414.2h4v86.8h-4zM565 1414.2h2v86.8h-2zM597 1414.2h2v86.8h-2zM609 1414.2h1v86.8h-1zM621 1414.2h1v86.8h-1zM687.7 1414.2h3.3v86.8h-3.3zM692 1414.2h1v86.8h-1zM707 1414.2h1v86.8h-1zM749 1414.2h1v86.8h-1zM761 1414.2h2v86.8h-2zM780 1414.2h2v86.8h-2zM787 1414.2h1v86.8h-1zM805.2 1414.2h0.8v86.8h-0.8zM813 1414.2h1v86.8h-1zM815 1414.2h2v86.8h-2zM824 1414.2h1v86.8h-1zM843 1414.2h2v86.8h-2zM855 1414.2h2v86.8h-2zM859 1414.2h2v86.8h-2zM865 1414.2h2v86.8h-2zM879 1414.2h2v86.8h-2zM944.8 1414.2h1.2v86.8h-1.2zM948 1414.2h2v86.8h-2zM998 1414.2h2v86.8h-2zM1023 1414.2h1v86.8h-1zM1026 1414.2h1v86.8h-1zM1087 1414.2h2v86.8h-2zM1127 1414.2h1v86.8h-1zM1135 1414.2h1v86.8h-1zM1142 1414.2h2v86.8h-2zM1154 1414.2h2v86.8h-2zM1165 1414.2h2v86.8h-2zM1168 1414.2h2v86.8h-2zM1184 1414.2h2v86.8h-2z"/>
<path fill="#c03050" d="M200 615.1h1v29h-1zM208 615.1h1v29h-1zM337 615.1h1v29h-1zM451 615.1h1v29h-1zM473 615.1h1v29h-1zM485 615.1h1v29h-1zM700 615.1h1v29h-1zM715 615.1h1v29h-1zM812 615.1h1v29h-1zM818 615.1h1v29h-1zM832 615.1h1v29h-1zM858 615.1h1v29h-1zM861 615.1h1v29h-1zM911 615.1h3v29h-3zM920 615.1h1v29h-1zM937 615.1h1v29h-1zM943 615.1h1v29h-1zM946 615.1h1v29h-1zM955 615.1h1v29h-1zM957 615.1h1v29h-1zM1018 615.1h1v29h-1zM1123 615.1h2v29h-2zM1154 615.1h1v29h-1zM202 656.5h2v86.6h-2zM217 656.5h1v86.6h-1zM223 656.5h2v86.6h-2zM227 656.5h1v86.6h-1zM232 656.5h1v86.6h-1zM243 656.5h1v86.6h-1zM255 656.5h1v86.6h-1zM257 656.5h2v86.6h-2zM260 656.5h1v86.6h-1zM264 656.5h1v86.6h-1zM284 656.5h1v86.6h-1zM287 656.5h3v86.6h-3zM307 656.5h1v86.6h-1zM313 656.5h2v86.6h-2zM317 656.5h1v86.6h-1zM331 656.5h1v86.6h-1zM334 656.5h1v86.6h-1zM343 656.5h1v86.6h-1zM365 656.5h1v86.6h-1zM374 656.5h1v86.6h-1zM416 656.5h1v86.6h-1zM439 656.5h1v86.6h-1zM506 656.5h1v86.6h-1zM524 656.5h1v86.6h-1zM570 656.5h1v86.6h-1zM572 656.5h1v86.6h-1zM600 656.5h2v86.6h-2zM634 656.5h1v86.6h-1zM700 656.5h1v86.6h-1zM705 656.5h1v86.6h-1zM733 656.5h1v86.6h-1zM747 656.5h1v86.6h-1zM753 656.5h3v86.6h-3zM758 656.5h1v86.6h-1zM760 656.5h1v86.6h-1zM762 656.5h1v86.6h-1zM771 656.5h1v86.6h-1zM786 656.5h1v86.6h-1zM851 656.5h1v86.6h-1zM868 656.5h1v86.6h-1zM928 656.5h2v86.6h-2zM951 656.5h2v86.6h-2zM980 656.5h1v86.6h-1zM986 656.5h1v86.6h-1zM995 656.5h1v86.6h-1zM1008 656.5h1v86.6h-1zM1066 656.5h1v86.6h-1zM1068 656.5h1v86.6h-1zM1101 656.5h1v86.6h-1zM1104 656.5h2v86.6h-2zM1118 656.5h1v86.6h-1zM1136 656.5h1v86.6h-1zM1177 656.5h1v86.6h-1zM194 753.5h1v86.9h-1zM214 753.5h1v86.9h-1zM216 753.5h1v86.9h-1zM240 753.5h1v86.9h-1zM298 753.5h1v86.9h-1zM302 753.5h1v86.9h-1zM365 753.5h1v86.9h-1zM368 753.5h1v86.9h-1zM375 753.5h1v86.9h-1zM521 753.5h1v86.9h-1zM593 753.5h1v86.9h-1zM603 753.5h1v86.9h-1zM661 753.5h1v86.9h-1zM713 753.5h1v86.9h-1zM728 753.5h1v86.9h-1zM1036 753.5h1.4v86.9h-1.4zM1100 753.5h1v86.9h-1zM1113 753.5h1v86.9h-1zM1118 753.5h1v86.9h-1zM1127 753.5h1v86.9h-1zM1132 753.5h1v86.9h-1zM1149 753.5h1v86.9h-1zM1158 753.5h1v86.9h-1zM256 851.2h1v86.8h-1zM284 851.2h1v86.8h-1zM335 851.2h1v86.8h-1zM378 851.2h1v86.8h-1zM460 851.2h1v86.8h-1zM495 851.2h1v86.8h-1zM508 851.2h1v86.8h-1zM526 851.2h1v86.8h-1zM592 851.2h1v86.8h-1zM603 851.2h1v86.8h-1zM657 851.2h1v86.8h-1zM722 851.2h1v86.8h-1zM735 851.2h1v86.8h-1zM745 851.2h1v86.8h-1zM753 851.2h1v86.8h-1zM763 851.2h2v86.8h-2zM768 851.2h2v86.8h-2zM930 851.2h1v86.8h-1zM945 851.2h1v86.8h-1zM988 851.2h2v86.8h-2zM1016 851.2h1v86.8h-1zM1023 851.2h1v86.8h-1zM1149 851.2h1v86.8h-1zM1179 851.2h1v86.8h-1zM1186 851.2h1.8v86.8h-1.8zM490 948.5h1v86.9h-1zM493 948.5h1v86.9h-1zM545 948.5h1.8v86.9h-1.8zM577 948.5h2v86.9h-2zM607 948.5h1v86.9h-1zM697 948.5h1v86.9h-1zM730 948.5h1v86.9h-1zM738 948.5h1v86.9h-1zM747 948.5h1v86.9h-1zM749 948.5h1v86.9h-1zM754 948.5h1v86.9h-1zM810 948.5h1v86.9h-1zM817 948.5h1v86.9h-1zM836 948.5h1v86.9h-1zM840 948.5h2v86.9h-2zM900 948.5h1v86.9h-1zM922 948.5h2v86.9h-2zM930 948.5h2v86.9h-2zM948 948.5h1v86.9h-1zM952 948.5h1v86.9h-1zM1067 948.5h1v86.9h-1zM1072 948.5h1v86.9h-1zM1103 948.5h1v86.9h-1zM1109 948.5h1v86.9h-1zM1176 948.5h1v86.9h-1zM1179 948.5h1v86.9h-1zM267 1047.5h1v86.9h-1zM285 1047.5h1v86.9h-1zM293 1047.5h1v86.9h-1zM298 1047.5h1v86.9h-1zM305 1047.5h1v86.9h-1zM309 1047.5h2v86.9h-2zM332 1047.5h1v86.9h-1zM339 1047.5h1v86.9h-1zM358 1047.5h1v86.9h-1zM372 1047.5h2v86.9h-2zM418 1047.5h1v86.9h-1zM438 1047.5h1v86.9h-1zM444 1047.5h1v86.9h-1zM447 1047.5h1v86.9h-1zM482 1047.5h1v86.9h-1zM589 1047.5h1v86.9h-1zM737 1047.5h1v86.9h-1zM761 1047.5h1v86.9h-1zM847 1047.5h1v86.9h-1zM859 1047.5h1v86.9h-1zM873 1047.5h1v86.9h-1zM877 1047.5h1v86.9h-1zM896 1047.5h3v86.9h-3zM975.2 1047.5h0.8v86.9h-0.8zM984 1047.5h2v86.9h-2zM987 1047.5h1v86.9h-1zM1006 1047.5h1v86.9h-1zM1021 1047.5h2v86.9h-2zM1066 1047.5h1v86.9h-1zM1085 1047.5h1v86.9h-1zM241 1148.5h1v86.8h-1zM305 1148.5h1v86.8h-1zM483 1148.5h1v86.8h-1zM497 1148.5h1v86.8h-1zM525 1148.5h1v86.8h-1zM571 1148.5h1v86.8h-1zM618 1148.5h1v86.8h-1zM662 1148.5h1v86.8h-1zM693 1148.5h1v86.8h-1zM704 1148.5h1v86.8h-1zM728 1148.5h1v86.8h-1zM826 1148.5h1v86.8h-1zM839 1148.5h1v86.8h-1zM848 1148.5h1v86.8h-1zM867 1148.5h1v86.8h-1zM880 1148.5h1v86.8h-1zM908 1148.5h3v86.8h-3zM921 1148.5h1v86.8h-1zM928 1148.5h1v86.8h-1zM939 1148.5h2v86.8h-2zM989 1148.5h1v86.8h-1zM1069 1148.5h1v86.8h-1zM1116 1148.5h1v86.8h-1zM1120 1148.5h1v86.8h-1zM1137 1148.5h1v86.8h-1zM1157 1148.5h1v86.8h-1zM1166 1148.5h1v86.8h-1zM197 1245.8h1v86.9h-1zM215 1245.8h1v86.9h-1zM272 1245.8h1v86.9h-1zM296 1245.8h1v86.9h-1zM493 1245.8h1v86.9h-1zM496 1245.8h1v86.9h-1zM615 1245.8h1v86.9h-1zM638 1245.8h1v86.9h-1zM664 1245.8h1v86.9h-1zM757 1245.8h1v86.9h-1zM827 1245.8h2v86.9h-2zM841 1245.8h1v86.9h-1zM847 1245.8h2v86.9h-2zM850 1245.8h1v86.9h-1zM878 1245.8h1v86.9h-1zM937 1245.8h1v86.9h-1zM949 1245.8h1v86.9h-1zM1132 1245.8h1v86.9h-1zM1138 1245.8h1v86.9h-1zM1155 1245.8h1v86.9h-1zM255 1344.8h1v58.4h-1zM258 1344.8h1v58.4h-1zM264 1344.8h1v58.4h-1zM267 1344.8h1v58.4h-1zM302 1344.8h1v58.4h-1zM308 1344.8h1v58.4h-1zM423 1344.8h1v58.4h-1zM496 1344.8h1v58.4h-1zM521 1344.8h1v58.4h-1zM566 1344.8h2v58.4h-2zM583 1344.8h1v58.4h-1zM621 1344.8h1v58.4h-1zM726 1344.8h1v58.4h-1zM735 1344.8h1v58.4h-1zM747 1344.8h1v58.4h-1zM758 1344.8h1v58.4h-1zM766 1344.8h1v58.4h-1zM771 1344.8h1v58.4h-1zM809 1344.8h1v58.4h-1zM835 1344.8h1v58.4h-1zM881 1344.8h1v58.4h-1zM1136 1344.8h1v58.4h-1zM295 1414.2h1v86.8h-1zM339 1414.2h1v86.8h-1zM420 1414.2h1v86.8h-1zM452 1414.2h1v86.8h-1zM454 1414.2h1v86.8h-1zM466 1414.2h1v86.8h-1zM568 1414.2h1v86.8h-1zM600 1414.2h1v86.8h-1zM602 1414.2h1v86.8h-1zM622 1414.2h1v86.8h-1zM701 1414.2h2v86.8h-2zM720 1414.2h1v86.8h-1zM739 1414.2h1v86.8h-1zM769 1414.2h1v86.8h-1zM808 1414.2h1v86.8h-1zM849 1414.2h1v86.8h-1zM864 1414.2h1v86.8h-1zM870 1414.2h1v86.8h-1zM874 1414.2h1v86.8h-1zM947 1414.2h1v86.8h-1zM1141 1414.2h1v86.8h-1zM1162 1414.2h1v86.8h-1z"/>
<path fill="#0a0af8" d="M219.2 977.5h5.8v29h-5.8zM225 977.5h2v29h-2zM227 977.5h4v29h-4zM231 977.5h3v29h-3zM235 977.5h2v29h-2zM237 977.5h2v29h-2zM239 977.5h4v29h-4zM243 977.5h4v29h-4zM247 977.5h3v29h-3zM251 977.5h5v29h-5zM256 977.5h3v29h-3zM261 977.5h2.6v29h-2.6zM687.7 977.5h2.3v29h-2.3zM691 977.5h5v29h-5zM697 977.5h2v29h-2zM699 977.5h4v29h-4zM703 977.5h4v29h-4zM707 977.5h3v29h-3zM806 948.5h5v29h-5zM811 948.5h4v29h-4zM815 948.5h2v29h-2zM817 948.5h6v29h-6zM823 948.5h2v29h-2zM826 948.5h2.8v29h-2.8zM467 1177.4h4v28.9h-4zM471 1177.4h2v28.9h-2zM473 1177.4h3v28.9h-3zM476 1177.4h3.8v28.9h-3.8zM467 1206.4h4v28.9h-4zM471 1206.4h2v28.9h-2zM473 1206.4h3v28.9h-3zM476 1206.4h3.8v28.9h-3.8zM535 1148.5h3v28.9h-3zM539 1148.5h1.6v28.9h-1.6zM624.2 1177.4h1.8v28.9h-1.8zM626 1177.4h4v28.9h-4zM630 1177.4h4v28.9h-4zM634 1177.4h3v28.9h-3zM637 1177.4h6v28.9h-6zM643 1177.4h6v28.9h-6zM649 1177.4h2v28.9h-2zM651 1177.4h3v28.9h-3zM654 1177.4h3v28.9h-3zM657 1177.4h2v28.9h-2zM659 1177.4h2v28.9h-2zM661 1177.4h5v28.9h-5zM666 1177.4h5v28.9h-5zM671 1177.4h4v28.9h-4zM675 1177.4h1.9v28.9h-1.9zM624.2 1206.4h1.8v28.9h-1.8zM626 1206.4h4v28.9h-4zM630 1206.4h4v28.9h-4zM634 1206.4h3v28.9h-3zM637 1206.4h6v28.9h-6zM643 1206.4h6v28.9h-6zM649 1206.4h2v28.9h-2zM651 1206.4h3v28.9h-3zM654 1206.4h3v28.9h-3zM657 1206.4h2v28.9h-2zM659 1206.4h2v28.9h-2zM661 1206.4h5v28.9h-5zM666 1206.4h5v28.9h-5zM671 1206.4h4v28.9h-4zM675 1206.4h1.9v28.9h-1.9zM657 1148.5h1v28.9h-1zM668 1148.5h1v28.9h-1zM669 1148.5h1v28.9h-1zM687.7 1148.5h3.3v28.9h-3.3zM692 1148.5h4v28.9h-4zM696 1148.5h3v28.9h-3zM699 1148.5h5v28.9h-5zM704 1148.5h6v28.9h-6zM711 1148.5h2v28.9h-2zM713 1148.5h2v28.9h-2zM715 1148.5h6v28.9h-6zM721 1148.5h4v28.9h-4zM726 1148.5h2v28.9h-2zM729 1148.5h3v28.9h-3zM732 1148.5h5v28.9h-5zM737 1148.5h4v28.9h-4zM741 1148.5h1.7v28.9h-1.7zM805.2 1148.5h1.8v28.9h-1.8zM807 1148.5h3v28.9h-3zM810 1148.5h4v28.9h-4zM815 1148.5h3v28.9h-3zM818 1148.5h6v28.9h-6zM824 1148.5h2v28.9h-2zM826 1148.5h4v28.9h-4zM830 1148.5h3v28.9h-3zM833 1148.5h4v28.9h-4zM837 1148.5h2v28.9h-2zM839 1148.5h6v28.9h-6zM845 1148.5h4v28.9h-4zM849 1148.5h5v28.9h-5zM854 1148.5h3v28.9h-3zM858 1148.5h2v28.9h-2zM861 1148.5h4v28.9h-4zM865 1148.5h4v28.9h-4zM869 1148.5h3v28.9h-3zM872 1148.5h4v28.9h-4zM876 1148.5h5v28.9h-5zM881 1148.5h2.8v28.9h-2.8zM864 1177.4h5v28.9h-5zM869 1177.4h4v28.9h-4zM873 1177.4h4v28.9h-4zM878 1177.4h3v28.9h-3zM881 1177.4h2.8v28.9h-2.8zM864 1206.4h5v28.9h-5zM869 1206.4h4v28.9h-4zM873 1206.4h4v28.9h-4zM878 1206.4h3v28.9h-3zM881 1206.4h2.8v28.9h-2.8z"/>
<path fill="#4a4aff" d="M250 977.5h1v29h-1zM260 977.5h1v29h-1zM690 977.5h1v29h-1zM696 977.5h1v29h-1zM805.2 948.5h0.8v29h-0.8zM534.8 1148.5h0.2v28.9h-0.2zM538 1148.5h1v28.9h-1zM653 1148.5h2v28.9h-2zM655 1148.5h2v28.9h-2zM661 1148.5h2v28.9h-2zM671 1148.5h2v28.9h-2zM673 1148.5h3.9v28.9h-3.9zM691 1148.5h1v28.9h-1zM725 1148.5h1v28.9h-1zM728 1148.5h1v28.9h-1zM814 1148.5h1v28.9h-1zM857 1148.5h1v28.9h-1zM860 1148.5h1v28.9h-1zM863.5 1177.4h0.5v28.9h-0.5zM877 1177.4h1v28.9h-1zM863.5 1206.4h0.5v28.9h-0.5zM877 1206.4h1v28.9h-1z"/>
<path fill="#8c8cf8" d="M234 977.5h1v29h-1zM259 977.5h1v29h-1zM825 948.5h1v29h-1zM467 1148.5h1v28.9h-1zM468 1148.5h1v28.9h-1zM472 1148.5h1v28.9h-1zM473 1148.5h1v28.9h-1zM474 1148.5h1v28.9h-1zM477 1148.5h2.8v28.9h-2.8zM648 1148.5h3v28.9h-3zM658 1148.5h2v28.9h-2zM660 1148.5h1v28.9h-1zM663 1148.5h1v28.9h-1zM666 1148.5h2v28.9h-2zM670 1148.5h1v28.9h-1z"/>
<path fill="#c4c4f8" d="M469 1148.5h2v28.9h-2zM475 1148.5h1v28.9h-1zM476 1148.5h1v28.9h-1zM651 1148.5h2v28.9h-2zM664 1148.5h2v28.9h-2zM710 1148.5h1v28.9h-1z"/>
<path fill="#e8e4fa" d="M471 1148.5h1v28.9h-1zM646.4 1148.5h1.6v28.9h-1.6z"/>
<path fill="#0a0acc" d="M1048.7 615.1h3.7v29h-3.7zM1048.7 656.5h3.7v86.6h-3.7zM1048.7 753.5h3.7v86.9h-3.7zM1048.7 851.2h3.7v86.8h-3.7zM1048.7 948.5h3.7v86.9h-3.7zM1048.7 1047.5h3.7v86.9h-3.7zM1048.7 1148.5h3.7v86.8h-3.7zM1048.7 1245.8h3.7v86.9h-3.7zM1048.7 1344.8h3.7v58.4h-3.7zM1048.7 1414.2h3.7v86.8h-3.7z"/>
</g>
<rect x="179.3" y="578.1" width="209" height="28.3" fill="#fa8b82"/>
<rect x="400" y="578.1" width="146.8" height="28.3" fill="#80b3ff"/>
<rect x="558.1" y="578.1" width="118.8" height="28.3" fill="#d3b500"/>
<rect x="687.7" y="578.1" width="105.7" height="28.3" fill="#ff80f6"/>
<rect x="805.2" y="578.1" width="78.6" height="28.3" fill="#dc96f7"/>
<rect x="895.2" y="578.1" width="68.6" height="28.3" fill="#00d79e"/>
<rect x="975.2" y="578.1" width="62.2" height="28.3" fill="#00d6dc"/>
<rect x="1048.7" y="578.1" width="3.7" height="28.3" fill="#00c8f5"/>
<rect x="1063.7" y="578.1" width="150.2" height="28.3" fill="#f9a52c"/>
<rect x="734.8" y="578.1" width="1.3" height="28.3" fill="#fff" opacity="0.6"/>
<rect x="1176.4" y="578.1" width="1.3" height="28.3" fill="#fff" opacity="0.6"/>
<path d="M730 551L741.1 551L735.5 571Z" fill="#000"/>
<path d="M1171.2 551.9L1182.8 551.9L1177 570.5Z" fill="#000"/>
<text x="285.7" y="570" font-size="28" text-anchor="middle">1A</text>
<text x="474.8" y="570" font-size="28" text-anchor="middle">2A</text>
<text x="617.4" y="570" font-size="28" text-anchor="middle">3A</text>
<text x="766.2" y="570" font-size="28" text-anchor="middle">4A</text>
<text x="848.2" y="570" font-size="28" text-anchor="middle">5A</text>
<text x="929.9" y="570" font-size="28" text-anchor="middle">6A</text>
<text x="1006.2" y="570" font-size="28" text-anchor="middle">7A</text>
<text x="1051" y="570" font-size="28" text-anchor="middle">M</text>
<text x="1130.1" y="570" font-size="28" text-anchor="middle">RA</text>
<text x="745.5" y="537.1" font-size="29" font-style="italic" text-anchor="middle">ECE1</text>
<text x="1185.3" y="537" font-size="29" font-style="italic" text-anchor="middle">EFG1</text>
<text x="151.6" y="596.8" font-size="28.5" font-weight="bold" text-anchor="end">Origin</text>
<text x="1234" y="602.6" font-size="28.5" font-weight="bold">chrom</text>
<text x="129.3" y="640.4" font-size="28.8" text-anchor="end">Ref. strain</text>
<g fill="#fff" stroke="#333" stroke-width="1.8">
<rect x="142.3" y="615.1" width="27.4" height="29"/>
<rect x="142.3" y="656.5" width="27.4" height="28.9"/>
<rect x="142.3" y="685.4" width="27.4" height="28.9"/>
<rect x="142.3" y="714.2" width="27.4" height="28.9"/>
<rect x="142.3" y="753.5" width="27.4" height="29"/>
<rect x="142.3" y="782.5" width="27.4" height="29"/>
<rect x="142.3" y="811.4" width="27.4" height="29"/>
<rect x="142.3" y="851.2" width="27.4" height="28.9"/>
<rect x="142.3" y="880.1" width="27.4" height="28.9"/>
<rect x="142.3" y="909.1" width="27.4" height="28.9"/>
<rect x="142.3" y="948.5" width="27.4" height="29"/>
<rect x="142.3" y="977.5" width="27.4" height="29"/>
<rect x="142.3" y="1006.4" width="27.4" height="29"/>
<rect x="142.3" y="1047.5" width="27.4" height="29"/>
<rect x="142.3" y="1076.5" width="27.4" height="29"/>
<rect x="142.3" y="1105.4" width="27.4" height="29"/>
<rect x="142.3" y="1148.5" width="27.4" height="28.9"/>
<rect x="142.3" y="1177.4" width="27.4" height="28.9"/>
<rect x="142.3" y="1206.4" width="27.4" height="28.9"/>
<rect x="142.3" y="1245.8" width="27.4" height="29"/>
<rect x="142.3" y="1274.8" width="27.4" height="29"/>
<rect x="142.3" y="1303.7" width="27.4" height="29"/>
<rect x="142.3" y="1344.8" width="27.4" height="29.2"/>
<rect x="142.3" y="1374" width="27.4" height="29.2"/>
<rect x="142.3" y="1414.2" width="27.4" height="28.9"/>
<rect x="142.3" y="1443.1" width="27.4" height="28.9"/>
<rect x="142.3" y="1472.1" width="27.4" height="28.9"/>
</g>
<text x="1233.8" y="639.9" font-size="29">SC5314</text>
<text x="1233.8" y="681.2" font-size="29">IDB311</text>
<text x="1233.8" y="710.1" font-size="29">IDB312</text>
<text x="1233.8" y="739" font-size="29">IDB313</text>
<text x="1233.8" y="778.3" font-size="29">IDA651</text>
<text x="1233.8" y="807.2" font-size="29">IDA653</text>
<text x="1233.8" y="836.2" font-size="29">IDA652</text>
<text x="1233.8" y="876" font-size="29">IDA921</text>
<text x="1233.8" y="904.9" font-size="29">IDA922</text>
<text x="1233.8" y="933.8" font-size="29">IDA923</text>
<text x="1233.8" y="973.3" font-size="29">IDB831</text>
<text x="1233.8" y="1002.2" font-size="29">IDB832</text>
<text x="1233.8" y="1031.2" font-size="29">IDB833</text>
<text x="1233.8" y="1072.3" font-size="29">IDC481</text>
<text x="1233.8" y="1101.2" font-size="29">IDC482</text>
<text x="1233.8" y="1130.2" font-size="29">IDC483</text>
<text x="1233.8" y="1173.3" font-size="29">IDB102</text>
<text x="1233.8" y="1202.2" font-size="29">IDB101</text>
<text x="1233.8" y="1231.1" font-size="29">IDB104</text>
<text x="1233.8" y="1270.6" font-size="29">IDB071</text>
<text x="1233.8" y="1299.5" font-size="29">IDB072</text>
<text x="1233.8" y="1328.5" font-size="29">IDB073</text>
<text x="1233.8" y="1369.7" font-size="29">IDD581</text>
<text x="1233.8" y="1398.9" font-size="29">IDD582</text>
<text x="1233.8" y="1439" font-size="29">IDC563</text>
<text x="1233.8" y="1467.9" font-size="29">IDC561</text>
<text x="1233.8" y="1496.8" font-size="29">IDC562</text>
<text x="88.8" y="718.3" font-size="28.9" text-anchor="middle" fill="#cd0000">UC1</text>
<text x="88.8" y="811.7" font-size="28.9" text-anchor="middle" fill="#cd0000">UC2</text>
<text x="88.8" y="908.7" font-size="28.9" text-anchor="middle" fill="#cd0000">UC3</text>
<text x="88.8" y="1008.2" font-size="28.9" text-anchor="middle" fill="#cd0000">UC4</text>
<text x="88.8" y="1116.1" font-size="28.9" text-anchor="middle" fill="#cd0000">UC5</text>
<text x="88.8" y="1207.7" font-size="28.9" text-anchor="middle" fill="#cd0000">UC6</text>
<text x="88.8" y="1303.9" font-size="28.9" text-anchor="middle" fill="#cd0000">UC7</text>
<text x="88.3" y="1384.9" font-size="28" text-anchor="middle" fill="#0000cd">nIBD1</text>
<text x="88.3" y="1470" font-size="28" text-anchor="middle" fill="#0000cd">nIBD2</text>
<rect x="1387" y="622.2" width="29" height="345.6" fill="#ff0000"/>
<rect x="1387" y="967.8" width="29" height="15.6" fill="#ff3c3c"/>
<rect x="1387" y="983.2" width="29" height="11.8" fill="#ff6464"/>
<rect x="1387" y="994.8" width="29" height="8.9" fill="#ffa2a2"/>
<rect x="1387" y="1003.5" width="29" height="7.9" fill="#ffe6e6"/>
<rect x="1387" y="1011.2" width="29" height="7" fill="#f2f0ff"/>
<rect x="1387" y="1018" width="29" height="9.8" fill="#dcdcff"/>
<rect x="1387" y="1027.6" width="29" height="9.9" fill="#a4a4ff"/>
<rect x="1387" y="1037.3" width="29" height="10.8" fill="#6a6aff"/>
<rect x="1387" y="1047.9" width="29" height="3.1" fill="#3a3aff"/>
<text x="1426.5" y="666.7" font-size="28">600</text>
<text x="1426.5" y="730.5" font-size="28">500</text>
<text x="1426.5" y="794.3" font-size="28">400</text>
<text x="1426.5" y="858.1" font-size="28">300</text>
<text x="1426.5" y="921.9" font-size="28">200</text>
<text x="1426.5" y="985.7" font-size="28">100</text>
<text x="1426.5" y="1051.5" font-size="28">0</text>
<text x="1484.5" y="642.6" font-size="28.5" font-weight="bold">chrom</text>
<rect x="1484.2" y="653.5" width="40.6" height="40.6" fill="#fa8b82"/>
<text x="1533.3" y="683.8" font-size="29">chr1A</text>
<rect x="1484.2" y="694" width="40.6" height="40.6" fill="#80b3ff"/>
<text x="1533.3" y="724.2" font-size="29">chr2A</text>
<rect x="1484.2" y="734.4" width="40.6" height="40.6" fill="#d3b500"/>
<text x="1533.3" y="764.7" font-size="29">chr3A</text>
<rect x="1484.2" y="774.9" width="40.6" height="40.6" fill="#ff80f6"/>
<text x="1533.3" y="805.1" font-size="29">chr4A</text>
<rect x="1484.2" y="815.3" width="40.6" height="40.6" fill="#dc96f7"/>
<text x="1533.3" y="845.6" font-size="29">chr5A</text>
<rect x="1484.2" y="855.8" width="40.6" height="40.6" fill="#00d79e"/>
<text x="1533.3" y="886" font-size="29">chr6A</text>
<rect x="1484.2" y="896.2" width="40.6" height="40.6" fill="#00d6dc"/>
<text x="1533.3" y="926.5" font-size="29">chr7A</text>
<rect x="1484.2" y="936.7" width="40.6" height="40.6" fill="#00ccff"/>
<text x="1533.3" y="967" font-size="29">chrM</text>
<rect x="1484.2" y="977.1" width="40.6" height="40.6" fill="#f9a52c"/>
<text x="1533.3" y="1007.4" font-size="29">chrRA</text>
<g shape-rendering="crispEdges">
<rect x="321" y="1549.5" width="30.7" height="910.5" fill="#ff3300"/>
<rect x="351.4" y="1549.5" width="30.7" height="849.8" fill="#66ff00"/>
<rect x="351.4" y="2399.3" width="30.7" height="60.7" fill="#00ff66"/>
<rect x="381.7" y="1549.5" width="30.7" height="849.8" fill="#66ff00"/>
<rect x="381.7" y="2399.3" width="30.7" height="60.7" fill="#66ff00"/>
<rect x="412.1" y="1549.5" width="30.7" height="485.6" fill="#ff3300"/>
<rect x="412.1" y="2035.1" width="30.7" height="364.2" fill="#ff9900"/>
<rect x="412.1" y="2399.3" width="30.7" height="60.7" fill="#ff3300"/>
<rect x="442.4" y="1549.5" width="30.7" height="910.5" fill="#66ff00"/>
<rect x="472.8" y="1549.5" width="30.7" height="910.5" fill="#66ff00"/>
<rect x="503.1" y="1549.5" width="30.7" height="849.8" fill="#00ff00"/>
<rect x="503.1" y="2399.3" width="30.7" height="60.7" fill="#ff6600"/>
<rect x="533.5" y="1549.5" width="30.7" height="849.8" fill="#ff9900"/>
<rect x="533.5" y="2399.3" width="30.7" height="60.7" fill="#ccff00"/>
<rect x="563.8" y="1549.5" width="30.7" height="849.8" fill="#66ff00"/>
<rect x="563.8" y="2399.3" width="30.7" height="60.7" fill="#66ff00"/>
<rect x="594.2" y="1549.5" width="30.7" height="910.5" fill="#66ff00"/>
<rect x="624.5" y="1549.5" width="30.7" height="394.6" fill="#ff6600"/>
<rect x="624.5" y="1944" width="30.7" height="91.1" fill="#ff3300"/>
<rect x="624.5" y="2035.1" width="30.7" height="424.9" fill="#ff9900"/>
<rect x="654.9" y="1549.5" width="30.7" height="910.5" fill="#cc00ff"/>
<rect x="685.2" y="1549.5" width="30.7" height="910.5" fill="#66ff00"/>
<rect x="715.5" y="1549.5" width="30.7" height="910.5" fill="#ffcc00"/>
<rect x="745.9" y="1549.5" width="30.7" height="910.5" fill="#ff00cc"/>
<rect x="776.2" y="1549.5" width="30.7" height="849.8" fill="#99ff00"/>
<rect x="776.2" y="2399.3" width="30.7" height="60.7" fill="#66ff00"/>
<rect x="806.6" y="1549.5" width="30.7" height="910.5" fill="#66ff00"/>
<rect x="837" y="1549.5" width="30.7" height="910.5" fill="#ff00cc"/>
<rect x="867.3" y="1549.5" width="30.7" height="910.5" fill="#66ff00"/>
<rect x="897.6" y="1549.5" width="30.7" height="910.5" fill="#66ff00"/>
<rect x="928" y="1549.5" width="30.7" height="910.5" fill="#00ff00"/>
<rect x="958.4" y="1549.5" width="30.7" height="849.8" fill="#ff3300"/>
<rect x="958.4" y="2399.3" width="30.7" height="60.7" fill="#ff9900"/>
<rect x="988.7" y="1549.5" width="30.7" height="910.5" fill="#66ff00"/>
<rect x="1019.1" y="1549.5" width="30.7" height="910.5" fill="#99ff00"/>
<rect x="1049.4" y="1549.5" width="30.7" height="485.6" fill="#0000ff"/>
<rect x="1049.4" y="2035.1" width="30.7" height="424.9" fill="#6600ff"/>
<rect x="1079.8" y="1549.5" width="30.7" height="910.5" fill="#ccff00"/>
<rect x="1110.1" y="1549.5" width="30.7" height="910.5" fill="#00ff66"/>
<rect x="1140.5" y="1549.5" width="30.7" height="849.8" fill="#6600ff"/>
<rect x="1140.5" y="2399.3" width="30.7" height="60.7" fill="#0000ff"/>
<rect x="1170.8" y="1549.5" width="30.7" height="910.5" fill="#ff9900"/>
<rect x="1201.2" y="1549.5" width="30.7" height="910.5" fill="#cc00ff"/>
<rect x="1231.5" y="1549.5" width="30.7" height="910.5" fill="#6600ff"/>
<rect x="1261.8" y="1549.5" width="30.7" height="910.5" fill="#0000ff"/>
</g>
<path d="M321 1579.8H1292.2M321 1610.2H1292.2M321 1640.5H1292.2M321 1670.9H1292.2M321 1701.2H1292.2M321 1731.6H1292.2M321 1762H1292.2M321 1792.3H1292.2M321 1822.7H1292.2M321 1853H1292.2M321 1883.3H1292.2M321 1913.7H1292.2M321 1944H1292.2M321 1974.4H1292.2M321 2004.8H1292.2M321 2035.1H1292.2M321 2065.4H1292.2M321 2095.8H1292.2M321 2126.2H1292.2M321 2156.5H1292.2M321 2186.8H1292.2M321 2217.2H1292.2M321 2247.6H1292.2M321 2277.9H1292.2M321 2308.2H1292.2M321 2338.6H1292.2M321 2368.9H1292.2M321 2399.3H1292.2M321 2429.7H1292.2" stroke="#fff" stroke-opacity="0.34" stroke-width="1" fill="none"/>
<path d="M351.4 1549.5V2460M381.7 1549.5V2460M412.1 1549.5V2460M442.4 1549.5V2460M472.8 1549.5V2460M503.1 1549.5V2460M533.5 1549.5V2460M563.8 1549.5V2460M594.2 1549.5V2460M624.5 1549.5V2460M654.9 1549.5V2460M685.2 1549.5V2460M715.5 1549.5V2460M745.9 1549.5V2460M776.2 1549.5V2460M806.6 1549.5V2460M837 1549.5V2460M867.3 1549.5V2460M897.6 1549.5V2460M928 1549.5V2460M958.4 1549.5V2460M988.7 1549.5V2460M1019.1 1549.5V2460M1049.4 1549.5V2460M1079.8 1549.5V2460M1110.1 1549.5V2460M1140.5 1549.5V2460M1170.8 1549.5V2460M1201.2 1549.5V2460M1231.5 1549.5V2460M1261.8 1549.5V2460" stroke="#fff" stroke-opacity="0.22" stroke-width="1" fill="none"/>
<defs><clipPath id="rc0" clipPathUnits="userSpaceOnUse"><rect x="321" y="1549.5" width="971.2" height="30.4"/><rect x="321" y="1610.2" width="971.2" height="30.4"/><rect x="321" y="1670.9" width="971.2" height="30.4"/><rect x="321" y="1731.6" width="971.2" height="30.4"/><rect x="321" y="1792.3" width="971.2" height="30.4"/><rect x="321" y="1853" width="971.2" height="30.4"/><rect x="321" y="1913.7" width="971.2" height="30.4"/><rect x="321" y="1974.4" width="971.2" height="30.4"/><rect x="321" y="2035.1" width="971.2" height="30.4"/><rect x="321" y="2095.8" width="971.2" height="30.4"/><rect x="321" y="2156.5" width="971.2" height="30.4"/><rect x="321" y="2217.2" width="971.2" height="30.4"/><rect x="321" y="2277.9" width="971.2" height="30.4"/><rect x="321" y="2338.6" width="971.2" height="30.4"/><rect x="321" y="2399.3" width="971.2" height="30.4"/></clipPath><clipPath id="rc1" clipPathUnits="userSpaceOnUse"><rect x="321" y="1579.8" width="971.2" height="30.4"/><rect x="321" y="1640.5" width="971.2" height="30.4"/><rect x="321" y="1701.2" width="971.2" height="30.4"/><rect x="321" y="1762" width="971.2" height="30.4"/><rect x="321" y="1822.7" width="971.2" height="30.4"/><rect x="321" y="1883.3" width="971.2" height="30.4"/><rect x="321" y="1944" width="971.2" height="30.4"/><rect x="321" y="2004.8" width="971.2" height="30.4"/><rect x="321" y="2065.4" width="971.2" height="30.4"/><rect x="321" y="2126.2" width="971.2" height="30.4"/><rect x="321" y="2186.8" width="971.2" height="30.4"/><rect x="321" y="2247.6" width="971.2" height="30.4"/><rect x="321" y="2308.2" width="971.2" height="30.4"/><rect x="321" y="2368.9" width="971.2" height="30.4"/><rect x="321" y="2429.7" width="971.2" height="30.4"/></clipPath></defs>
<g font-size="36.7" fill="#2a2a2a" text-anchor="middle" clip-path="url(#rc0)">
<text x="336.2" y="1577.6">S</text>
<text x="366.5" y="1577.6">I</text>
<text x="396.9" y="1577.6">I</text>
<text x="427.2" y="1577.6">S</text>
<text x="457.6" y="1577.6">I</text>
<text x="487.9" y="1577.6">I</text>
<text x="518.3" y="1577.6">M</text>
<text x="548.6" y="1577.6">G</text>
<text x="579" y="1577.6">I</text>
<text x="609.3" y="1577.6">L</text>
<text x="639.7" y="1577.6">T</text>
<text x="670" y="1577.6">N</text>
<text x="700.4" y="1577.6">I</text>
<text x="730.7" y="1577.6">P</text>
<text x="761.1" y="1577.6">Q</text>
<text x="791.4" y="1577.6">V</text>
<text x="821.8" y="1577.6">I</text>
<text x="852.1" y="1577.6">Q</text>
<text x="882.5" y="1577.6">I</text>
<text x="912.8" y="1577.6">I</text>
<text x="943.2" y="1577.6">M</text>
<text x="973.5" y="1577.6">S</text>
<text x="1003.9" y="1577.6">I</text>
<text x="1034.2" y="1577.6">V</text>
<text x="1064.6" y="1577.6">R</text>
<text x="1094.9" y="1577.6">A</text>
<text x="1125.3" y="1577.6">F</text>
<text x="1155.6" y="1577.6">K</text>
<text x="1186" y="1577.6">G</text>
<text x="1216.3" y="1577.6">N</text>
<text x="1246.7" y="1577.6">K</text>
<text x="1277" y="1577.6">R</text>
<text x="336.2" y="1638.3">S</text>
<text x="366.5" y="1638.3">I</text>
<text x="396.9" y="1638.3">I</text>
<text x="427.2" y="1638.3">S</text>
<text x="457.6" y="1638.3">I</text>
<text x="487.9" y="1638.3">I</text>
<text x="518.3" y="1638.3">M</text>
<text x="548.6" y="1638.3">G</text>
<text x="579" y="1638.3">I</text>
<text x="609.3" y="1638.3">L</text>
<text x="639.7" y="1638.3">T</text>
<text x="670" y="1638.3">N</text>
<text x="700.4" y="1638.3">I</text>
<text x="730.7" y="1638.3">P</text>
<text x="761.1" y="1638.3">Q</text>
<text x="791.4" y="1638.3">V</text>
<text x="821.8" y="1638.3">I</text>
<text x="852.1" y="1638.3">Q</text>
<text x="882.5" y="1638.3">I</text>
<text x="912.8" y="1638.3">I</text>
<text x="943.2" y="1638.3">M</text>
<text x="973.5" y="1638.3">S</text>
<text x="1003.9" y="1638.3">I</text>
<text x="1034.2" y="1638.3">V</text>
<text x="1064.6" y="1638.3">R</text>
<text x="1094.9" y="1638.3">A</text>
<text x="1125.3" y="1638.3">F</text>
<text x="1155.6" y="1638.3">K</text>
<text x="1186" y="1638.3">G</text>
<text x="1216.3" y="1638.3">N</text>
<text x="1246.7" y="1638.3">K</text>
<text x="1277" y="1638.3">R</text>
<text x="336.2" y="1699">S</text>
<text x="366.5" y="1699">I</text>
<text x="396.9" y="1699">I</text>
<text x="427.2" y="1699">S</text>
<text x="457.6" y="1699">I</text>
<text x="487.9" y="1699">I</text>
<text x="518.3" y="1699">M</text>
<text x="548.6" y="1699">G</text>
<text x="579" y="1699">I</text>
<text x="609.3" y="1699">L</text>
<text x="639.7" y="1699">T</text>
<text x="670" y="1699">N</text>
<text x="700.4" y="1699">I</text>
<text x="730.7" y="1699">P</text>
<text x="761.1" y="1699">Q</text>
<text x="791.4" y="1699">V</text>
<text x="821.8" y="1699">I</text>
<text x="852.1" y="1699">Q</text>
<text x="882.5" y="1699">I</text>
<text x="912.8" y="1699">I</text>
<text x="943.2" y="1699">M</text>
<text x="973.5" y="1699">S</text>
<text x="1003.9" y="1699">I</text>
<text x="1034.2" y="1699">V</text>
<text x="1064.6" y="1699">R</text>
<text x="1094.9" y="1699">A</text>
<text x="1125.3" y="1699">F</text>
<text x="1155.6" y="1699">K</text>
<text x="1186" y="1699">G</text>
<text x="1216.3" y="1699">N</text>
<text x="1246.7" y="1699">K</text>
<text x="1277" y="1699">R</text>
<text x="336.2" y="1759.7">S</text>
<text x="366.5" y="1759.7">I</text>
<text x="396.9" y="1759.7">I</text>
<text x="427.2" y="1759.7">S</text>
<text x="457.6" y="1759.7">I</text>
<text x="487.9" y="1759.7">I</text>
<text x="518.3" y="1759.7">M</text>
<text x="548.6" y="1759.7">G</text>
<text x="579" y="1759.7">I</text>
<text x="609.3" y="1759.7">L</text>
<text x="639.7" y="1759.7">T</text>
<text x="670" y="1759.7">N</text>
<text x="700.4" y="1759.7">I</text>
<text x="730.7" y="1759.7">P</text>
<text x="761.1" y="1759.7">Q</text>
<text x="791.4" y="1759.7">V</text>
<text x="821.8" y="1759.7">I</text>
<text x="852.1" y="1759.7">Q</text>
<text x="882.5" y="1759.7">I</text>
<text x="912.8" y="1759.7">I</text>
<text x="943.2" y="1759.7">M</text>
<text x="973.5" y="1759.7">S</text>
<text x="1003.9" y="1759.7">I</text>
<text x="1034.2" y="1759.7">V</text>
<text x="1064.6" y="1759.7">R</text>
<text x="1094.9" y="1759.7">A</text>
<text x="1125.3" y="1759.7">F</text>
<text x="1155.6" y="1759.7">K</text>
<text x="1186" y="1759.7">G</text>
<text x="1216.3" y="1759.7">N</text>
<text x="1246.7" y="1759.7">K</text>
<text x="1277" y="1759.7">R</text>
<text x="336.2" y="1820.4">S</text>
<text x="366.5" y="1820.4">I</text>
<text x="396.9" y="1820.4">I</text>
<text x="427.2" y="1820.4">S</text>
<text x="457.6" y="1820.4">I</text>
<text x="487.9" y="1820.4">I</text>
<text x="518.3" y="1820.4">M</text>
<text x="548.6" y="1820.4">G</text>
<text x="579" y="1820.4">I</text>
<text x="609.3" y="1820.4">L</text>
<text x="639.7" y="1820.4">T</text>
<text x="670" y="1820.4">N</text>
<text x="700.4" y="1820.4">I</text>
<text x="730.7" y="1820.4">P</text>
<text x="761.1" y="1820.4">Q</text>
<text x="791.4" y="1820.4">V</text>
<text x="821.8" y="1820.4">I</text>
<text x="852.1" y="1820.4">Q</text>
<text x="882.5" y="1820.4">I</text>
<text x="912.8" y="1820.4">I</text>
<text x="943.2" y="1820.4">M</text>
<text x="973.5" y="1820.4">S</text>
<text x="1003.9" y="1820.4">I</text>
<text x="1034.2" y="1820.4">V</text>
<text x="1064.6" y="1820.4">R</text>
<text x="1094.9" y="1820.4">A</text>
<text x="1125.3" y="1820.4">F</text>
<text x="1155.6" y="1820.4">K</text>
<text x="1186" y="1820.4">G</text>
<text x="1216.3" y="1820.4">N</text>
<text x="1246.7" y="1820.4">K</text>
<text x="1277" y="1820.4">R</text>
<text x="336.2" y="1881.1">S</text>
<text x="366.5" y="1881.1">I</text>
<text x="396.9" y="1881.1">I</text>
<text x="427.2" y="1881.1">S</text>
<text x="457.6" y="1881.1">I</text>
<text x="487.9" y="1881.1">I</text>
<text x="518.3" y="1881.1">M</text>
<text x="548.6" y="1881.1">G</text>
<text x="579" y="1881.1">I</text>
<text x="609.3" y="1881.1">L</text>
<text x="639.7" y="1881.1">T</text>
<text x="670" y="1881.1">N</text>
<text x="700.4" y="1881.1">I</text>
<text x="730.7" y="1881.1">P</text>
<text x="761.1" y="1881.1">Q</text>
<text x="791.4" y="1881.1">V</text>
<text x="821.8" y="1881.1">I</text>
<text x="852.1" y="1881.1">Q</text>
<text x="882.5" y="1881.1">I</text>
<text x="912.8" y="1881.1">I</text>
<text x="943.2" y="1881.1">M</text>
<text x="973.5" y="1881.1">S</text>
<text x="1003.9" y="1881.1">I</text>
<text x="1034.2" y="1881.1">V</text>
<text x="1064.6" y="1881.1">R</text>
<text x="1094.9" y="1881.1">A</text>
<text x="1125.3" y="1881.1">F</text>
<text x="1155.6" y="1881.1">K</text>
<text x="1186" y="1881.1">G</text>
<text x="1216.3" y="1881.1">N</text>
<text x="1246.7" y="1881.1">K</text>
<text x="1277" y="1881.1">R</text>
<text x="336.2" y="1941.8">S</text>
<text x="366.5" y="1941.8">I</text>
<text x="396.9" y="1941.8">I</text>
<text x="427.2" y="1941.8">S</text>
<text x="457.6" y="1941.8">I</text>
<text x="487.9" y="1941.8">I</text>
<text x="518.3" y="1941.8">M</text>
<text x="548.6" y="1941.8">G</text>
<text x="579" y="1941.8">I</text>
<text x="609.3" y="1941.8">L</text>
<text x="639.7" y="1941.8">T</text>
<text x="670" y="1941.8">N</text>
<text x="700.4" y="1941.8">I</text>
<text x="730.7" y="1941.8">P</text>
<text x="761.1" y="1941.8">Q</text>
<text x="791.4" y="1941.8">V</text>
<text x="821.8" y="1941.8">I</text>
<text x="852.1" y="1941.8">Q</text>
<text x="882.5" y="1941.8">I</text>
<text x="912.8" y="1941.8">I</text>
<text x="943.2" y="1941.8">M</text>
<text x="973.5" y="1941.8">S</text>
<text x="1003.9" y="1941.8">I</text>
<text x="1034.2" y="1941.8">V</text>
<text x="1064.6" y="1941.8">R</text>
<text x="1094.9" y="1941.8">A</text>
<text x="1125.3" y="1941.8">F</text>
<text x="1155.6" y="1941.8">K</text>
<text x="1186" y="1941.8">G</text>
<text x="1216.3" y="1941.8">N</text>
<text x="1246.7" y="1941.8">K</text>
<text x="1277" y="1941.8">R</text>
<text x="336.2" y="2002.5">S</text>
<text x="366.5" y="2002.5">I</text>
<text x="396.9" y="2002.5">I</text>
<text x="427.2" y="2002.5">S</text>
<text x="457.6" y="2002.5">I</text>
<text x="487.9" y="2002.5">I</text>
<text x="518.3" y="2002.5">M</text>
<text x="548.6" y="2002.5">G</text>
<text x="579" y="2002.5">I</text>
<text x="609.3" y="2002.5">L</text>
<text x="639.7" y="2002.5">S</text>
<text x="670" y="2002.5">N</text>
<text x="700.4" y="2002.5">I</text>
<text x="730.7" y="2002.5">P</text>
<text x="761.1" y="2002.5">Q</text>
<text x="791.4" y="2002.5">V</text>
<text x="821.8" y="2002.5">I</text>
<text x="852.1" y="2002.5">Q</text>
<text x="882.5" y="2002.5">I</text>
<text x="912.8" y="2002.5">I</text>
<text x="943.2" y="2002.5">M</text>
<text x="973.5" y="2002.5">S</text>
<text x="1003.9" y="2002.5">I</text>
<text x="1034.2" y="2002.5">V</text>
<text x="1064.6" y="2002.5">R</text>
<text x="1094.9" y="2002.5">A</text>
<text x="1125.3" y="2002.5">F</text>
<text x="1155.6" y="2002.5">K</text>
<text x="1186" y="2002.5">G</text>
<text x="1216.3" y="2002.5">N</text>
<text x="1246.7" y="2002.5">K</text>
<text x="1277" y="2002.5">R</text>
<text x="336.2" y="2063.2">S</text>
<text x="366.5" y="2063.2">I</text>
<text x="396.9" y="2063.2">I</text>
<text x="427.2" y="2063.2">G</text>
<text x="457.6" y="2063.2">I</text>
<text x="487.9" y="2063.2">I</text>
<text x="518.3" y="2063.2">M</text>
<text x="548.6" y="2063.2">G</text>
<text x="579" y="2063.2">I</text>
<text x="609.3" y="2063.2">L</text>
<text x="639.7" y="2063.2">G</text>
<text x="670" y="2063.2">N</text>
<text x="700.4" y="2063.2">I</text>
<text x="730.7" y="2063.2">P</text>
<text x="761.1" y="2063.2">Q</text>
<text x="791.4" y="2063.2">V</text>
<text x="821.8" y="2063.2">I</text>
<text x="852.1" y="2063.2">Q</text>
<text x="882.5" y="2063.2">I</text>
<text x="912.8" y="2063.2">I</text>
<text x="943.2" y="2063.2">M</text>
<text x="973.5" y="2063.2">S</text>
<text x="1003.9" y="2063.2">I</text>
<text x="1034.2" y="2063.2">V</text>
<text x="1064.6" y="2063.2">K</text>
<text x="1094.9" y="2063.2">A</text>
<text x="1125.3" y="2063.2">F</text>
<text x="1155.6" y="2063.2">K</text>
<text x="1186" y="2063.2">G</text>
<text x="1216.3" y="2063.2">N</text>
<text x="1246.7" y="2063.2">K</text>
<text x="1277" y="2063.2">R</text>
<text x="336.2" y="2123.9">S</text>
<text x="366.5" y="2123.9">I</text>
<text x="396.9" y="2123.9">I</text>
<text x="427.2" y="2123.9">G</text>
<text x="457.6" y="2123.9">I</text>
<text x="487.9" y="2123.9">I</text>
<text x="518.3" y="2123.9">M</text>
<text x="548.6" y="2123.9">G</text>
<text x="579" y="2123.9">I</text>
<text x="609.3" y="2123.9">L</text>
<text x="639.7" y="2123.9">G</text>
<text x="670" y="2123.9">N</text>
<text x="700.4" y="2123.9">I</text>
<text x="730.7" y="2123.9">P</text>
<text x="761.1" y="2123.9">Q</text>
<text x="791.4" y="2123.9">V</text>
<text x="821.8" y="2123.9">I</text>
<text x="852.1" y="2123.9">Q</text>
<text x="882.5" y="2123.9">I</text>
<text x="912.8" y="2123.9">I</text>
<text x="943.2" y="2123.9">M</text>
<text x="973.5" y="2123.9">S</text>
<text x="1003.9" y="2123.9">I</text>
<text x="1034.2" y="2123.9">V</text>
<text x="1064.6" y="2123.9">K</text>
<text x="1094.9" y="2123.9">A</text>
<text x="1125.3" y="2123.9">F</text>
<text x="1155.6" y="2123.9">K</text>
<text x="1186" y="2123.9">G</text>
<text x="1216.3" y="2123.9">N</text>
<text x="1246.7" y="2123.9">K</text>
<text x="1277" y="2123.9">R</text>
<text x="336.2" y="2184.6">S</text>
<text x="366.5" y="2184.6">I</text>
<text x="396.9" y="2184.6">I</text>
<text x="427.2" y="2184.6">G</text>
<text x="457.6" y="2184.6">I</text>
<text x="487.9" y="2184.6">I</text>
<text x="518.3" y="2184.6">M</text>
<text x="548.6" y="2184.6">G</text>
<text x="579" y="2184.6">I</text>
<text x="609.3" y="2184.6">L</text>
<text x="639.7" y="2184.6">G</text>
<text x="670" y="2184.6">N</text>
<text x="700.4" y="2184.6">I</text>
<text x="730.7" y="2184.6">P</text>
<text x="761.1" y="2184.6">Q</text>
<text x="791.4" y="2184.6">V</text>
<text x="821.8" y="2184.6">I</text>
<text x="852.1" y="2184.6">Q</text>
<text x="882.5" y="2184.6">I</text>
<text x="912.8" y="2184.6">I</text>
<text x="943.2" y="2184.6">M</text>
<text x="973.5" y="2184.6">S</text>
<text x="1003.9" y="2184.6">I</text>
<text x="1034.2" y="2184.6">V</text>
<text x="1064.6" y="2184.6">K</text>
<text x="1094.9" y="2184.6">A</text>
<text x="1125.3" y="2184.6">F</text>
<text x="1155.6" y="2184.6">K</text>
<text x="1186" y="2184.6">G</text>
<text x="1216.3" y="2184.6">N</text>
<text x="1246.7" y="2184.6">K</text>
<text x="1277" y="2184.6">R</text>
<text x="336.2" y="2245.3">S</text>
<text x="366.5" y="2245.3">I</text>
<text x="396.9" y="2245.3">I</text>
<text x="427.2" y="2245.3">G</text>
<text x="457.6" y="2245.3">I</text>
<text x="487.9" y="2245.3">I</text>
<text x="518.3" y="2245.3">M</text>
<text x="548.6" y="2245.3">G</text>
<text x="579" y="2245.3">I</text>
<text x="609.3" y="2245.3">L</text>
<text x="639.7" y="2245.3">G</text>
<text x="670" y="2245.3">N</text>
<text x="700.4" y="2245.3">I</text>
<text x="730.7" y="2245.3">P</text>
<text x="761.1" y="2245.3">Q</text>
<text x="791.4" y="2245.3">V</text>
<text x="821.8" y="2245.3">I</text>
<text x="852.1" y="2245.3">Q</text>
<text x="882.5" y="2245.3">I</text>
<text x="912.8" y="2245.3">I</text>
<text x="943.2" y="2245.3">M</text>
<text x="973.5" y="2245.3">S</text>
<text x="1003.9" y="2245.3">I</text>
<text x="1034.2" y="2245.3">V</text>
<text x="1064.6" y="2245.3">K</text>
<text x="1094.9" y="2245.3">A</text>
<text x="1125.3" y="2245.3">F</text>
<text x="1155.6" y="2245.3">K</text>
<text x="1186" y="2245.3">G</text>
<text x="1216.3" y="2245.3">N</text>
<text x="1246.7" y="2245.3">K</text>
<text x="1277" y="2245.3">R</text>
<text x="336.2" y="2306">S</text>
<text x="366.5" y="2306">I</text>
<text x="396.9" y="2306">I</text>
<text x="427.2" y="2306">G</text>
<text x="457.6" y="2306">I</text>
<text x="487.9" y="2306">I</text>
<text x="518.3" y="2306">M</text>
<text x="548.6" y="2306">G</text>
<text x="579" y="2306">I</text>
<text x="609.3" y="2306">L</text>
<text x="639.7" y="2306">G</text>
<text x="670" y="2306">N</text>
<text x="700.4" y="2306">I</text>
<text x="730.7" y="2306">P</text>
<text x="761.1" y="2306">Q</text>
<text x="791.4" y="2306">V</text>
<text x="821.8" y="2306">I</text>
<text x="852.1" y="2306">Q</text>
<text x="882.5" y="2306">I</text>
<text x="912.8" y="2306">I</text>
<text x="943.2" y="2306">M</text>
<text x="973.5" y="2306">S</text>
<text x="1003.9" y="2306">I</text>
<text x="1034.2" y="2306">V</text>
<text x="1064.6" y="2306">K</text>
<text x="1094.9" y="2306">A</text>
<text x="1125.3" y="2306">F</text>
<text x="1155.6" y="2306">K</text>
<text x="1186" y="2306">G</text>
<text x="1216.3" y="2306">N</text>
<text x="1246.7" y="2306">K</text>
<text x="1277" y="2306">R</text>
<text x="336.2" y="2366.7">S</text>
<text x="366.5" y="2366.7">I</text>
<text x="396.9" y="2366.7">I</text>
<text x="427.2" y="2366.7">G</text>
<text x="457.6" y="2366.7">I</text>
<text x="487.9" y="2366.7">I</text>
<text x="518.3" y="2366.7">M</text>
<text x="548.6" y="2366.7">G</text>
<text x="579" y="2366.7">I</text>
<text x="609.3" y="2366.7">L</text>
<text x="639.7" y="2366.7">G</text>
<text x="670" y="2366.7">N</text>
<text x="700.4" y="2366.7">I</text>
<text x="730.7" y="2366.7">P</text>
<text x="761.1" y="2366.7">Q</text>
<text x="791.4" y="2366.7">V</text>
<text x="821.8" y="2366.7">I</text>
<text x="852.1" y="2366.7">Q</text>
<text x="882.5" y="2366.7">I</text>
<text x="912.8" y="2366.7">I</text>
<text x="943.2" y="2366.7">M</text>
<text x="973.5" y="2366.7">S</text>
<text x="1003.9" y="2366.7">I</text>
<text x="1034.2" y="2366.7">V</text>
<text x="1064.6" y="2366.7">K</text>
<text x="1094.9" y="2366.7">A</text>
<text x="1125.3" y="2366.7">F</text>
<text x="1155.6" y="2366.7">K</text>
<text x="1186" y="2366.7">G</text>
<text x="1216.3" y="2366.7">N</text>
<text x="1246.7" y="2366.7">K</text>
<text x="1277" y="2366.7">R</text>
<text x="336.2" y="2427.4">S</text>
<text x="366.5" y="2427.4">F</text>
<text x="396.9" y="2427.4">L</text>
<text x="427.2" y="2427.4">S</text>
<text x="457.6" y="2427.4">I</text>
<text x="487.9" y="2427.4">I</text>
<text x="518.3" y="2427.4">T</text>
<text x="548.6" y="2427.4">A</text>
<text x="579" y="2427.4">L</text>
<text x="609.3" y="2427.4">L</text>
<text x="639.7" y="2427.4">G</text>
<text x="670" y="2427.4">N</text>
<text x="700.4" y="2427.4">I</text>
<text x="730.7" y="2427.4">P</text>
<text x="761.1" y="2427.4">Q</text>
<text x="791.4" y="2427.4">I</text>
<text x="821.8" y="2427.4">I</text>
<text x="852.1" y="2427.4">Q</text>
<text x="882.5" y="2427.4">I</text>
<text x="912.8" y="2427.4">I</text>
<text x="943.2" y="2427.4">M</text>
<text x="973.5" y="2427.4">G</text>
<text x="1003.9" y="2427.4">I</text>
<text x="1034.2" y="2427.4">V</text>
<text x="1064.6" y="2427.4">K</text>
<text x="1094.9" y="2427.4">A</text>
<text x="1125.3" y="2427.4">F</text>
<text x="1155.6" y="2427.4">R</text>
<text x="1186" y="2427.4">G</text>
<text x="1216.3" y="2427.4">N</text>
<text x="1246.7" y="2427.4">K</text>
<text x="1277" y="2427.4">R</text>
</g>
<g font-size="36.7" fill="#2a2a2a" text-anchor="middle" clip-path="url(#rc1)">
<text x="336.2" y="1607.9">S</text>
<text x="366.5" y="1607.9">I</text>
<text x="396.9" y="1607.9">I</text>
<text x="427.2" y="1607.9">S</text>
<text x="457.6" y="1607.9">I</text>
<text x="487.9" y="1607.9">I</text>
<text x="518.3" y="1607.9">M</text>
<text x="548.6" y="1607.9">G</text>
<text x="579" y="1607.9">I</text>
<text x="609.3" y="1607.9">L</text>
<text x="639.7" y="1607.9">T</text>
<text x="670" y="1607.9">N</text>
<text x="700.4" y="1607.9">I</text>
<text x="730.7" y="1607.9">P</text>
<text x="761.1" y="1607.9">Q</text>
<text x="791.4" y="1607.9">V</text>
<text x="821.8" y="1607.9">I</text>
<text x="852.1" y="1607.9">Q</text>
<text x="882.5" y="1607.9">I</text>
<text x="912.8" y="1607.9">I</text>
<text x="943.2" y="1607.9">M</text>
<text x="973.5" y="1607.9">S</text>
<text x="1003.9" y="1607.9">I</text>
<text x="1034.2" y="1607.9">V</text>
<text x="1064.6" y="1607.9">R</text>
<text x="1094.9" y="1607.9">A</text>
<text x="1125.3" y="1607.9">F</text>
<text x="1155.6" y="1607.9">K</text>
<text x="1186" y="1607.9">G</text>
<text x="1216.3" y="1607.9">N</text>
<text x="1246.7" y="1607.9">K</text>
<text x="1277" y="1607.9">R</text>
<text x="336.2" y="1668.6">S</text>
<text x="366.5" y="1668.6">I</text>
<text x="396.9" y="1668.6">I</text>
<text x="427.2" y="1668.6">S</text>
<text x="457.6" y="1668.6">I</text>
<text x="487.9" y="1668.6">I</text>
<text x="518.3" y="1668.6">M</text>
<text x="548.6" y="1668.6">G</text>
<text x="579" y="1668.6">I</text>
<text x="609.3" y="1668.6">L</text>
<text x="639.7" y="1668.6">T</text>
<text x="670" y="1668.6">N</text>
<text x="700.4" y="1668.6">I</text>
<text x="730.7" y="1668.6">P</text>
<text x="761.1" y="1668.6">Q</text>
<text x="791.4" y="1668.6">V</text>
<text x="821.8" y="1668.6">I</text>
<text x="852.1" y="1668.6">Q</text>
<text x="882.5" y="1668.6">I</text>
<text x="912.8" y="1668.6">I</text>
<text x="943.2" y="1668.6">M</text>
<text x="973.5" y="1668.6">S</text>
<text x="1003.9" y="1668.6">I</text>
<text x="1034.2" y="1668.6">V</text>
<text x="1064.6" y="1668.6">R</text>
<text x="1094.9" y="1668.6">A</text>
<text x="1125.3" y="1668.6">F</text>
<text x="1155.6" y="1668.6">K</text>
<text x="1186" y="1668.6">G</text>
<text x="1216.3" y="1668.6">N</text>
<text x="1246.7" y="1668.6">K</text>
<text x="1277" y="1668.6">R</text>
<text x="336.2" y="1729.3">S</text>
<text x="366.5" y="1729.3">I</text>
<text x="396.9" y="1729.3">I</text>
<text x="427.2" y="1729.3">S</text>
<text x="457.6" y="1729.3">I</text>
<text x="487.9" y="1729.3">I</text>
<text x="518.3" y="1729.3">M</text>
<text x="548.6" y="1729.3">G</text>
<text x="579" y="1729.3">I</text>
<text x="609.3" y="1729.3">L</text>
<text x="639.7" y="1729.3">T</text>
<text x="670" y="1729.3">N</text>
<text x="700.4" y="1729.3">I</text>
<text x="730.7" y="1729.3">P</text>
<text x="761.1" y="1729.3">Q</text>
<text x="791.4" y="1729.3">V</text>
<text x="821.8" y="1729.3">I</text>
<text x="852.1" y="1729.3">Q</text>
<text x="882.5" y="1729.3">I</text>
<text x="912.8" y="1729.3">I</text>
<text x="943.2" y="1729.3">M</text>
<text x="973.5" y="1729.3">S</text>
<text x="1003.9" y="1729.3">I</text>
<text x="1034.2" y="1729.3">V</text>
<text x="1064.6" y="1729.3">R</text>
<text x="1094.9" y="1729.3">A</text>
<text x="1125.3" y="1729.3">F</text>
<text x="1155.6" y="1729.3">K</text>
<text x="1186" y="1729.3">G</text>
<text x="1216.3" y="1729.3">N</text>
<text x="1246.7" y="1729.3">K</text>
<text x="1277" y="1729.3">R</text>
<text x="336.2" y="1790">S</text>
<text x="366.5" y="1790">I</text>
<text x="396.9" y="1790">I</text>
<text x="427.2" y="1790">S</text>
<text x="457.6" y="1790">I</text>
<text x="487.9" y="1790">I</text>
<text x="518.3" y="1790">M</text>
<text x="548.6" y="1790">G</text>
<text x="579" y="1790">I</text>
<text x="609.3" y="1790">L</text>
<text x="639.7" y="1790">T</text>
<text x="670" y="1790">N</text>
<text x="700.4" y="1790">I</text>
<text x="730.7" y="1790">P</text>
<text x="761.1" y="1790">Q</text>
<text x="791.4" y="1790">V</text>
<text x="821.8" y="1790">I</text>
<text x="852.1" y="1790">Q</text>
<text x="882.5" y="1790">I</text>
<text x="912.8" y="1790">I</text>
<text x="943.2" y="1790">M</text>
<text x="973.5" y="1790">S</text>
<text x="1003.9" y="1790">I</text>
<text x="1034.2" y="1790">V</text>
<text x="1064.6" y="1790">R</text>
<text x="1094.9" y="1790">A</text>
<text x="1125.3" y="1790">F</text>
<text x="1155.6" y="1790">K</text>
<text x="1186" y="1790">G</text>
<text x="1216.3" y="1790">N</text>
<text x="1246.7" y="1790">K</text>
<text x="1277" y="1790">R</text>
<text x="336.2" y="1850.8">S</text>
<text x="366.5" y="1850.8">I</text>
<text x="396.9" y="1850.8">I</text>
<text x="427.2" y="1850.8">S</text>
<text x="457.6" y="1850.8">I</text>
<text x="487.9" y="1850.8">I</text>
<text x="518.3" y="1850.8">M</text>
<text x="548.6" y="1850.8">G</text>
<text x="579" y="1850.8">I</text>
<text x="609.3" y="1850.8">L</text>
<text x="639.7" y="1850.8">T</text>
<text x="670" y="1850.8">N</text>
<text x="700.4" y="1850.8">I</text>
<text x="730.7" y="1850.8">P</text>
<text x="761.1" y="1850.8">Q</text>
<text x="791.4" y="1850.8">V</text>
<text x="821.8" y="1850.8">I</text>
<text x="852.1" y="1850.8">Q</text>
<text x="882.5" y="1850.8">I</text>
<text x="912.8" y="1850.8">I</text>
<text x="943.2" y="1850.8">M</text>
<text x="973.5" y="1850.8">S</text>
<text x="1003.9" y="1850.8">I</text>
<text x="1034.2" y="1850.8">V</text>
<text x="1064.6" y="1850.8">R</text>
<text x="1094.9" y="1850.8">A</text>
<text x="1125.3" y="1850.8">F</text>
<text x="1155.6" y="1850.8">K</text>
<text x="1186" y="1850.8">G</text>
<text x="1216.3" y="1850.8">N</text>
<text x="1246.7" y="1850.8">K</text>
<text x="1277" y="1850.8">R</text>
<text x="336.2" y="1911.4">S</text>
<text x="366.5" y="1911.4">I</text>
<text x="396.9" y="1911.4">I</text>
<text x="427.2" y="1911.4">S</text>
<text x="457.6" y="1911.4">I</text>
<text x="487.9" y="1911.4">I</text>
<text x="518.3" y="1911.4">M</text>
<text x="548.6" y="1911.4">G</text>
<text x="579" y="1911.4">I</text>
<text x="609.3" y="1911.4">L</text>
<text x="639.7" y="1911.4">T</text>
<text x="670" y="1911.4">N</text>
<text x="700.4" y="1911.4">I</text>
<text x="730.7" y="1911.4">P</text>
<text x="761.1" y="1911.4">Q</text>
<text x="791.4" y="1911.4">V</text>
<text x="821.8" y="1911.4">I</text>
<text x="852.1" y="1911.4">Q</text>
<text x="882.5" y="1911.4">I</text>
<text x="912.8" y="1911.4">I</text>
<text x="943.2" y="1911.4">M</text>
<text x="973.5" y="1911.4">S</text>
<text x="1003.9" y="1911.4">I</text>
<text x="1034.2" y="1911.4">V</text>
<text x="1064.6" y="1911.4">R</text>
<text x="1094.9" y="1911.4">A</text>
<text x="1125.3" y="1911.4">F</text>
<text x="1155.6" y="1911.4">K</text>
<text x="1186" y="1911.4">G</text>
<text x="1216.3" y="1911.4">N</text>
<text x="1246.7" y="1911.4">K</text>
<text x="1277" y="1911.4">R</text>
<text x="336.2" y="1972.1">S</text>
<text x="366.5" y="1972.1">I</text>
<text x="396.9" y="1972.1">I</text>
<text x="427.2" y="1972.1">S</text>
<text x="457.6" y="1972.1">I</text>
<text x="487.9" y="1972.1">I</text>
<text x="518.3" y="1972.1">M</text>
<text x="548.6" y="1972.1">G</text>
<text x="579" y="1972.1">I</text>
<text x="609.3" y="1972.1">L</text>
<text x="639.7" y="1972.1">S</text>
<text x="670" y="1972.1">N</text>
<text x="700.4" y="1972.1">I</text>
<text x="730.7" y="1972.1">P</text>
<text x="761.1" y="1972.1">Q</text>
<text x="791.4" y="1972.1">V</text>
<text x="821.8" y="1972.1">I</text>
<text x="852.1" y="1972.1">Q</text>
<text x="882.5" y="1972.1">I</text>
<text x="912.8" y="1972.1">I</text>
<text x="943.2" y="1972.1">M</text>
<text x="973.5" y="1972.1">S</text>
<text x="1003.9" y="1972.1">I</text>
<text x="1034.2" y="1972.1">V</text>
<text x="1064.6" y="1972.1">R</text>
<text x="1094.9" y="1972.1">A</text>
<text x="1125.3" y="1972.1">F</text>
<text x="1155.6" y="1972.1">K</text>
<text x="1186" y="1972.1">G</text>
<text x="1216.3" y="1972.1">N</text>
<text x="1246.7" y="1972.1">K</text>
<text x="1277" y="1972.1">R</text>
<text x="336.2" y="2032.8">S</text>
<text x="366.5" y="2032.8">I</text>
<text x="396.9" y="2032.8">I</text>
<text x="427.2" y="2032.8">S</text>
<text x="457.6" y="2032.8">I</text>
<text x="487.9" y="2032.8">I</text>
<text x="518.3" y="2032.8">M</text>
<text x="548.6" y="2032.8">G</text>
<text x="579" y="2032.8">I</text>
<text x="609.3" y="2032.8">L</text>
<text x="639.7" y="2032.8">S</text>
<text x="670" y="2032.8">N</text>
<text x="700.4" y="2032.8">I</text>
<text x="730.7" y="2032.8">P</text>
<text x="761.1" y="2032.8">Q</text>
<text x="791.4" y="2032.8">V</text>
<text x="821.8" y="2032.8">I</text>
<text x="852.1" y="2032.8">Q</text>
<text x="882.5" y="2032.8">I</text>
<text x="912.8" y="2032.8">I</text>
<text x="943.2" y="2032.8">M</text>
<text x="973.5" y="2032.8">S</text>
<text x="1003.9" y="2032.8">I</text>
<text x="1034.2" y="2032.8">V</text>
<text x="1064.6" y="2032.8">R</text>
<text x="1094.9" y="2032.8">A</text>
<text x="1125.3" y="2032.8">F</text>
<text x="1155.6" y="2032.8">K</text>
<text x="1186" y="2032.8">G</text>
<text x="1216.3" y="2032.8">N</text>
<text x="1246.7" y="2032.8">K</text>
<text x="1277" y="2032.8">R</text>
<text x="336.2" y="2093.5">S</text>
<text x="366.5" y="2093.5">I</text>
<text x="396.9" y="2093.5">I</text>
<text x="427.2" y="2093.5">G</text>
<text x="457.6" y="2093.5">I</text>
<text x="487.9" y="2093.5">I</text>
<text x="518.3" y="2093.5">M</text>
<text x="548.6" y="2093.5">G</text>
<text x="579" y="2093.5">I</text>
<text x="609.3" y="2093.5">L</text>
<text x="639.7" y="2093.5">G</text>
<text x="670" y="2093.5">N</text>
<text x="700.4" y="2093.5">I</text>
<text x="730.7" y="2093.5">P</text>
<text x="761.1" y="2093.5">Q</text>
<text x="791.4" y="2093.5">V</text>
<text x="821.8" y="2093.5">I</text>
<text x="852.1" y="2093.5">Q</text>
<text x="882.5" y="2093.5">I</text>
<text x="912.8" y="2093.5">I</text>
<text x="943.2" y="2093.5">M</text>
<text x="973.5" y="2093.5">S</text>
<text x="1003.9" y="2093.5">I</text>
<text x="1034.2" y="2093.5">V</text>
<text x="1064.6" y="2093.5">K</text>
<text x="1094.9" y="2093.5">A</text>
<text x="1125.3" y="2093.5">F</text>
<text x="1155.6" y="2093.5">K</text>
<text x="1186" y="2093.5">G</text>
<text x="1216.3" y="2093.5">N</text>
<text x="1246.7" y="2093.5">K</text>
<text x="1277" y="2093.5">R</text>
<text x="336.2" y="2154.2">S</text>
<text x="366.5" y="2154.2">I</text>
<text x="396.9" y="2154.2">I</text>
<text x="427.2" y="2154.2">G</text>
<text x="457.6" y="2154.2">I</text>
<text x="487.9" y="2154.2">I</text>
<text x="518.3" y="2154.2">M</text>
<text x="548.6" y="2154.2">G</text>
<text x="579" y="2154.2">I</text>
<text x="609.3" y="2154.2">L</text>
<text x="639.7" y="2154.2">G</text>
<text x="670" y="2154.2">N</text>
<text x="700.4" y="2154.2">I</text>
<text x="730.7" y="2154.2">P</text>
<text x="761.1" y="2154.2">Q</text>
<text x="791.4" y="2154.2">V</text>
<text x="821.8" y="2154.2">I</text>
<text x="852.1" y="2154.2">Q</text>
<text x="882.5" y="2154.2">I</text>
<text x="912.8" y="2154.2">I</text>
<text x="943.2" y="2154.2">M</text>
<text x="973.5" y="2154.2">S</text>
<text x="1003.9" y="2154.2">I</text>
<text x="1034.2" y="2154.2">V</text>
<text x="1064.6" y="2154.2">K</text>
<text x="1094.9" y="2154.2">A</text>
<text x="1125.3" y="2154.2">F</text>
<text x="1155.6" y="2154.2">K</text>
<text x="1186" y="2154.2">G</text>
<text x="1216.3" y="2154.2">N</text>
<text x="1246.7" y="2154.2">K</text>
<text x="1277" y="2154.2">R</text>
<text x="336.2" y="2214.9">S</text>
<text x="366.5" y="2214.9">I</text>
<text x="396.9" y="2214.9">I</text>
<text x="427.2" y="2214.9">G</text>
<text x="457.6" y="2214.9">I</text>
<text x="487.9" y="2214.9">I</text>
<text x="518.3" y="2214.9">M</text>
<text x="548.6" y="2214.9">G</text>
<text x="579" y="2214.9">I</text>
<text x="609.3" y="2214.9">L</text>
<text x="639.7" y="2214.9">G</text>
<text x="670" y="2214.9">N</text>
<text x="700.4" y="2214.9">I</text>
<text x="730.7" y="2214.9">P</text>
<text x="761.1" y="2214.9">Q</text>
<text x="791.4" y="2214.9">V</text>
<text x="821.8" y="2214.9">I</text>
<text x="852.1" y="2214.9">Q</text>
<text x="882.5" y="2214.9">I</text>
<text x="912.8" y="2214.9">I</text>
<text x="943.2" y="2214.9">M</text>
<text x="973.5" y="2214.9">S</text>
<text x="1003.9" y="2214.9">I</text>
<text x="1034.2" y="2214.9">V</text>
<text x="1064.6" y="2214.9">K</text>
<text x="1094.9" y="2214.9">A</text>
<text x="1125.3" y="2214.9">F</text>
<text x="1155.6" y="2214.9">K</text>
<text x="1186" y="2214.9">G</text>
<text x="1216.3" y="2214.9">N</text>
<text x="1246.7" y="2214.9">K</text>
<text x="1277" y="2214.9">R</text>
<text x="336.2" y="2275.7">S</text>
<text x="366.5" y="2275.7">I</text>
<text x="396.9" y="2275.7">I</text>
<text x="427.2" y="2275.7">G</text>
<text x="457.6" y="2275.7">I</text>
<text x="487.9" y="2275.7">I</text>
<text x="518.3" y="2275.7">M</text>
<text x="548.6" y="2275.7">G</text>
<text x="579" y="2275.7">I</text>
<text x="609.3" y="2275.7">L</text>
<text x="639.7" y="2275.7">G</text>
<text x="670" y="2275.7">N</text>
<text x="700.4" y="2275.7">I</text>
<text x="730.7" y="2275.7">P</text>
<text x="761.1" y="2275.7">Q</text>
<text x="791.4" y="2275.7">V</text>
<text x="821.8" y="2275.7">I</text>
<text x="852.1" y="2275.7">Q</text>
<text x="882.5" y="2275.7">I</text>
<text x="912.8" y="2275.7">I</text>
<text x="943.2" y="2275.7">M</text>
<text x="973.5" y="2275.7">S</text>
<text x="1003.9" y="2275.7">I</text>
<text x="1034.2" y="2275.7">V</text>
<text x="1064.6" y="2275.7">K</text>
<text x="1094.9" y="2275.7">A</text>
<text x="1125.3" y="2275.7">F</text>
<text x="1155.6" y="2275.7">K</text>
<text x="1186" y="2275.7">G</text>
<text x="1216.3" y="2275.7">N</text>
<text x="1246.7" y="2275.7">K</text>
<text x="1277" y="2275.7">R</text>
<text x="336.2" y="2336.3">S</text>
<text x="366.5" y="2336.3">I</text>
<text x="396.9" y="2336.3">I</text>
<text x="427.2" y="2336.3">G</text>
<text x="457.6" y="2336.3">I</text>
<text x="487.9" y="2336.3">I</text>
<text x="518.3" y="2336.3">M</text>
<text x="548.6" y="2336.3">G</text>
<text x="579" y="2336.3">I</text>
<text x="609.3" y="2336.3">L</text>
<text x="639.7" y="2336.3">G</text>
<text x="670" y="2336.3">N</text>
<text x="700.4" y="2336.3">I</text>
<text x="730.7" y="2336.3">P</text>
<text x="761.1" y="2336.3">Q</text>
<text x="791.4" y="2336.3">V</text>
<text x="821.8" y="2336.3">I</text>
<text x="852.1" y="2336.3">Q</text>
<text x="882.5" y="2336.3">I</text>
<text x="912.8" y="2336.3">I</text>
<text x="943.2" y="2336.3">M</text>
<text x="973.5" y="2336.3">S</text>
<text x="1003.9" y="2336.3">I</text>
<text x="1034.2" y="2336.3">V</text>
<text x="1064.6" y="2336.3">K</text>
<text x="1094.9" y="2336.3">A</text>
<text x="1125.3" y="2336.3">F</text>
<text x="1155.6" y="2336.3">K</text>
<text x="1186" y="2336.3">G</text>
<text x="1216.3" y="2336.3">N</text>
<text x="1246.7" y="2336.3">K</text>
<text x="1277" y="2336.3">R</text>
<text x="336.2" y="2397">S</text>
<text x="366.5" y="2397">I</text>
<text x="396.9" y="2397">I</text>
<text x="427.2" y="2397">G</text>
<text x="457.6" y="2397">I</text>
<text x="487.9" y="2397">I</text>
<text x="518.3" y="2397">M</text>
<text x="548.6" y="2397">G</text>
<text x="579" y="2397">I</text>
<text x="609.3" y="2397">L</text>
<text x="639.7" y="2397">G</text>
<text x="670" y="2397">N</text>
<text x="700.4" y="2397">I</text>
<text x="730.7" y="2397">P</text>
<text x="761.1" y="2397">Q</text>
<text x="791.4" y="2397">V</text>
<text x="821.8" y="2397">I</text>
<text x="852.1" y="2397">Q</text>
<text x="882.5" y="2397">I</text>
<text x="912.8" y="2397">I</text>
<text x="943.2" y="2397">M</text>
<text x="973.5" y="2397">S</text>
<text x="1003.9" y="2397">I</text>
<text x="1034.2" y="2397">V</text>
<text x="1064.6" y="2397">K</text>
<text x="1094.9" y="2397">A</text>
<text x="1125.3" y="2397">F</text>
<text x="1155.6" y="2397">K</text>
<text x="1186" y="2397">G</text>
<text x="1216.3" y="2397">N</text>
<text x="1246.7" y="2397">K</text>
<text x="1277" y="2397">R</text>
<text x="336.2" y="2457.8">S</text>
<text x="366.5" y="2457.8">F</text>
<text x="396.9" y="2457.8">L</text>
<text x="427.2" y="2457.8">S</text>
<text x="457.6" y="2457.8">I</text>
<text x="487.9" y="2457.8">I</text>
<text x="518.3" y="2457.8">T</text>
<text x="548.6" y="2457.8">A</text>
<text x="579" y="2457.8">L</text>
<text x="609.3" y="2457.8">L</text>
<text x="639.7" y="2457.8">G</text>
<text x="670" y="2457.8">N</text>
<text x="700.4" y="2457.8">I</text>
<text x="730.7" y="2457.8">P</text>
<text x="761.1" y="2457.8">Q</text>
<text x="791.4" y="2457.8">I</text>
<text x="821.8" y="2457.8">I</text>
<text x="852.1" y="2457.8">Q</text>
<text x="882.5" y="2457.8">I</text>
<text x="912.8" y="2457.8">I</text>
<text x="943.2" y="2457.8">M</text>
<text x="973.5" y="2457.8">G</text>
<text x="1003.9" y="2457.8">I</text>
<text x="1034.2" y="2457.8">V</text>
<text x="1064.6" y="2457.8">K</text>
<text x="1094.9" y="2457.8">A</text>
<text x="1125.3" y="2457.8">F</text>
<text x="1155.6" y="2457.8">R</text>
<text x="1186" y="2457.8">G</text>
<text x="1216.3" y="2457.8">N</text>
<text x="1246.7" y="2457.8">K</text>
<text x="1277" y="2457.8">R</text>
</g>
<g font-size="29" fill="#111">
<text x="113.7" y="1575">IDD581 hap. 2</text>
<text x="113.7" y="1605.3">IDC711 hap. 2</text>
<text x="113.7" y="1635.7">IDA921 hap. 2</text>
<text x="113.7" y="1666">IDC661 hap. 1</text>
<text x="113.7" y="1696.4">IDB891 hap. 2</text>
<text x="113.7" y="1726.8">IDB311 hap. 2</text>
<text x="113.7" y="1757.1">IDC571 hap. 2</text>
<text x="113.7" y="1787.5">IDA651</text>
<text x="113.7" y="1817.8">IDC561 hap. 2</text>
<text x="113.7" y="1848.2">IDB101 hap. 2</text>
<text x="113.7" y="1878.5">IDB032 hap. 2</text>
<text x="113.7" y="1908.8">IDD761 hap. 2</text>
<text x="113.7" y="1939.2">IDC361 hap. 2</text>
<text x="113.7" y="1969.5">IDC481</text>
<text x="113.7" y="1999.9">IDA921 hap. 1</text>
<text x="113.7" y="2030.2">IDC661 hap. 2</text>
<text x="113.7" y="2060.6">IDD581 hap. 1</text>
<text x="113.7" y="2090.9">IDC711 hap. 1</text>
<text x="113.7" y="2121.3">IDB891 hap. 1</text>
<text x="113.7" y="2151.7">IDB311 hap. 1</text>
<text x="113.7" y="2182">IDC571 hap. 1</text>
<text x="113.7" y="2212.3">IDC561 hap. 1</text>
<text x="113.7" y="2242.7">IDB101 hap. 1</text>
<text x="113.7" y="2273.1">IDB032 hap. 1</text>
<text x="113.7" y="2303.4">IDD761 hap. 1</text>
<text x="113.7" y="2333.8">IDB071</text>
<text x="113.7" y="2364.1">IDD311</text>
<text x="113.7" y="2394.4">IDC361 hap. 1</text>
<text x="113.7" y="2424.8">IDB831</text>
<text x="113.7" y="2455.2">IDB671</text>
</g>
<g font-size="29" fill="#4d4d4d" text-anchor="middle">
<text x="304.3" y="2496.5">0</text>
<text x="611.6" y="2496.5">10</text>
<text x="915.5" y="2496.5">20</text>
<text x="1219.3" y="2496.5">30</text>
</g>
</svg>
</body></html>
